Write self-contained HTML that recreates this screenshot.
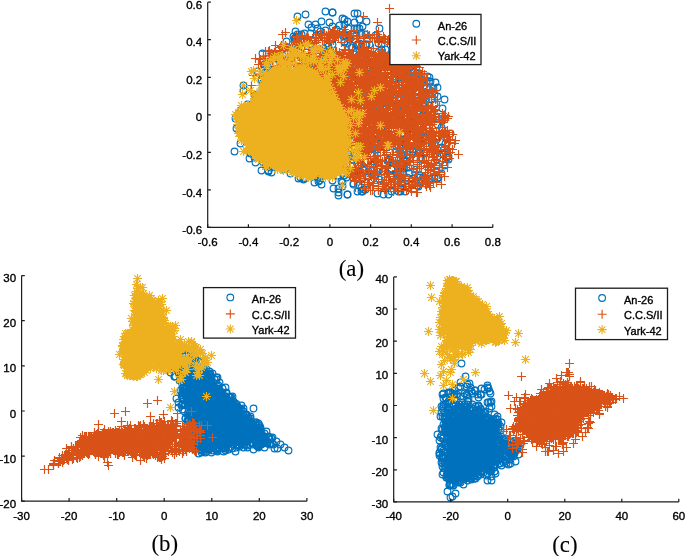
<!DOCTYPE html>
<html><head><meta charset="utf-8"><style>
html,body{margin:0;padding:0;background:#fff;overflow:hidden}
svg{display:block;will-change:transform;font-family:"Liberation Sans",sans-serif;font-size:11.5px;fill:#000;}
text{stroke:#000;stroke-width:0.35px;}
.cap{stroke-width:0.1px;}
</style></head><body>
<svg width="685" height="556" viewBox="0 0 685 556">
<defs>
<marker id="mb" markerUnits="userSpaceOnUse" overflow="visible" refX="0" refY="0"><circle r="3.35" fill="none" stroke="#0072BD" stroke-width="1.15"/></marker>
<marker id="mo" markerUnits="userSpaceOnUse" overflow="visible" refX="0" refY="0"><path d="M-4.5 0H4.5M0-4.5V4.5" stroke="#D95319" stroke-width="1.15"/></marker>
<marker id="my" markerUnits="userSpaceOnUse" overflow="visible" refX="0" refY="0"><path d="M-4.6 0H4.6M0-4.6V4.6M-3.3-3.3L3.3 3.3M-3.3 3.3L3.3-3.3" stroke="#EDB120" stroke-width="1.15"/></marker>
</defs>
<polyline points="300.5,101.5 276.5,78.5 337.5,134.5 337.5,55.5 398.5,191.5 402.5,172.5 360.5,72.5 296.5,124.5 370.5,73.5 386.5,134.5 444.5,165.5 369.5,44.5 355.5,107.5 366.5,61.5 377.5,149.5 426.5,81.5 304.5,121.5 319.5,170.5 302.5,131.5 400.5,112.5 298.5,55.5 419.5,175.5 256.5,95.5 314.5,120.5 266.5,118.5 414.5,116.5 353.5,126.5 388.5,102.5 355.5,120.5 369.5,65.5 354.5,54.5 388.5,60.5 306.5,52.5 284.5,83.5 405.5,126.5 400.5,64.5 362.5,55.5 304.5,107.5 376.5,133.5 335.5,62.5 388.5,161.5 383.5,171.5 415.5,91.5 379.5,28.5 261.5,170.5 324.5,56.5 272.5,89.5 262.5,161.5 408.5,167.5 261.5,132.5 431.5,133.5 275.5,126.5 412.5,139.5 358.5,44.5 372.5,83.5 362.5,72.5 244.5,118.5 341.5,91.5 408.5,99.5 353.5,115.5 314.5,182.5 412.5,184.5 342.5,96.5 300.5,177.5 303.5,71.5 283.5,89.5 429.5,105.5 309.5,82.5 382.5,82.5 429.5,77.5 415.5,133.5 385.5,49.5 268.5,108.5 412.5,178.5 247.5,138.5 411.5,100.5 385.5,188.5 445.5,143.5 401.5,144.5 342.5,129.5 263.5,70.5 317.5,117.5 391.5,191.5 316.5,132.5 380.5,77.5 344.5,126.5 354.5,115.5 336.5,93.5 340.5,55.5 297.5,127.5 282.5,80.5 430.5,81.5 381.5,130.5 436.5,165.5 362.5,129.5 361.5,104.5 383.5,194.5 357.5,105.5 368.5,146.5 276.5,160.5 358.5,171.5 338.5,188.5 302.5,111.5 400.5,191.5 367.5,54.5 290.5,152.5 303.5,178.5 320.5,31.5 385.5,94.5 401.5,168.5 327.5,43.5 354.5,62.5 363.5,94.5 347.5,194.5 298.5,51.5 332.5,26.5 397.5,125.5 334.5,123.5 319.5,49.5 314.5,121.5 243.5,85.5 342.5,172.5 344.5,35.5 293.5,169.5 267.5,102.5 426.5,88.5 298.5,114.5 325.5,11.5 367.5,105.5 375.5,175.5 403.5,150.5 262.5,150.5 343.5,132.5 348.5,154.5 254.5,134.5 309.5,167.5 404.5,118.5 399.5,150.5 254.5,149.5 250.5,141.5 358.5,79.5 305.5,144.5 411.5,125.5 349.5,111.5 419.5,153.5 312.5,86.5 395.5,54.5 293.5,36.5 240.5,132.5 408.5,187.5 419.5,73.5 282.5,60.5 390.5,142.5 310.5,74.5 254.5,157.5 310.5,164.5 332.5,12.5 268.5,91.5 263.5,138.5 275.5,118.5 310.5,134.5 437.5,96.5 311.5,27.5 329.5,115.5 441.5,127.5 344.5,19.5 349.5,39.5 279.5,151.5 406.5,130.5 361.5,53.5 241.5,124.5 308.5,81.5 363.5,146.5 392.5,143.5 325.5,89.5 365.5,34.5 423.5,102.5 298.5,36.5 266.5,153.5 351.5,122.5 419.5,75.5 442.5,108.5 328.5,154.5 350.5,74.5 420.5,138.5 406.5,125.5 342.5,92.5 339.5,60.5 258.5,136.5 324.5,71.5 391.5,54.5 337.5,98.5 371.5,97.5 344.5,57.5 332.5,180.5 251.5,104.5 332.5,12.5 427.5,76.5 304.5,125.5 450.5,133.5 324.5,54.5 356.5,45.5 382.5,133.5 311.5,101.5 448.5,159.5 300.5,110.5 250.5,153.5 264.5,64.5 245.5,117.5 346.5,94.5 352.5,159.5 401.5,164.5 368.5,85.5 295.5,31.5 360.5,127.5 360.5,127.5 438.5,177.5 281.5,59.5 290.5,67.5 305.5,111.5 290.5,173.5 315.5,24.5 251.5,132.5 433.5,88.5 401.5,110.5 323.5,58.5 322.5,175.5 347.5,104.5 437.5,124.5 431.5,143.5 288.5,119.5 304.5,33.5 292.5,87.5 387.5,87.5 354.5,13.5 264.5,86.5 343.5,61.5 389.5,159.5 318.5,176.5 312.5,54.5 399.5,63.5 328.5,112.5 419.5,177.5 357.5,108.5 388.5,194.5 359.5,51.5 317.5,61.5 341.5,181.5 359.5,43.5 386.5,147.5 342.5,182.5 401.5,183.5 331.5,138.5 409.5,158.5 435.5,82.5 250.5,148.5 320.5,108.5 328.5,139.5 441.5,173.5 383.5,129.5 319.5,180.5 317.5,28.5 394.5,80.5 429.5,109.5 408.5,74.5 265.5,76.5 329.5,88.5 368.5,171.5 271.5,119.5 319.5,49.5 443.5,154.5 353.5,184.5 327.5,132.5 330.5,111.5 351.5,119.5 349.5,94.5 338.5,97.5 276.5,77.5 406.5,186.5 324.5,149.5 291.5,48.5 394.5,73.5 406.5,151.5 270.5,137.5 357.5,84.5 441.5,147.5 301.5,134.5 299.5,71.5 391.5,169.5 329.5,112.5 373.5,122.5 270.5,151.5 350.5,174.5 435.5,153.5 417.5,177.5 407.5,131.5 315.5,176.5 312.5,173.5 303.5,179.5 316.5,158.5 344.5,175.5 409.5,173.5 338.5,100.5 344.5,41.5 324.5,128.5 375.5,71.5 294.5,94.5 305.5,129.5 284.5,130.5 339.5,167.5 344.5,121.5 307.5,104.5 295.5,39.5 302.5,76.5 333.5,146.5 364.5,169.5 358.5,185.5 417.5,92.5 403.5,142.5 437.5,87.5 366.5,144.5 383.5,116.5 293.5,115.5 365.5,150.5 263.5,86.5 382.5,120.5 317.5,127.5 336.5,29.5 420.5,120.5 279.5,134.5 377.5,162.5 317.5,143.5 312.5,49.5 420.5,151.5 417.5,140.5 251.5,109.5 437.5,156.5 270.5,167.5 296.5,116.5 365.5,44.5 261.5,79.5 373.5,161.5 357.5,28.5 437.5,178.5 380.5,61.5 320.5,98.5 357.5,61.5 307.5,77.5 314.5,112.5 343.5,147.5 377.5,193.5 411.5,79.5 423.5,109.5 412.5,151.5 371.5,155.5 236.5,128.5 438.5,136.5 346.5,121.5 379.5,179.5 296.5,128.5 261.5,112.5 316.5,74.5 282.5,79.5 319.5,168.5 337.5,108.5 271.5,74.5 425.5,158.5 318.5,63.5 271.5,53.5 372.5,148.5 374.5,101.5 381.5,142.5 271.5,172.5 300.5,103.5 304.5,108.5 270.5,139.5 298.5,107.5 372.5,164.5 247.5,104.5 405.5,100.5 347.5,172.5 319.5,169.5 397.5,105.5 362.5,26.5 257.5,71.5 400.5,100.5 361.5,191.5 267.5,99.5 351.5,47.5 234.5,151.5 398.5,90.5 353.5,130.5 403.5,113.5 389.5,159.5 357.5,177.5 268.5,170.5 265.5,130.5 252.5,107.5 363.5,189.5 297.5,34.5 333.5,188.5 400.5,188.5 251.5,138.5 409.5,110.5 400.5,114.5 413.5,59.5 366.5,61.5 365.5,86.5 383.5,119.5 405.5,139.5 352.5,135.5 272.5,156.5 323.5,168.5 410.5,109.5 362.5,83.5 305.5,59.5 299.5,90.5 442.5,130.5 347.5,21.5 293.5,133.5 320.5,139.5 307.5,135.5 317.5,142.5 333.5,68.5 249.5,158.5 422.5,115.5 287.5,62.5 312.5,141.5 315.5,115.5 364.5,98.5 302.5,39.5 414.5,110.5 404.5,160.5 411.5,181.5 288.5,101.5 363.5,170.5 361.5,187.5 359.5,19.5 441.5,148.5 391.5,88.5 402.5,145.5 349.5,78.5 304.5,70.5 446.5,138.5 240.5,110.5 280.5,129.5 405.5,127.5 277.5,121.5 278.5,125.5 423.5,132.5 428.5,131.5 317.5,105.5 267.5,63.5 295.5,120.5 398.5,73.5 362.5,175.5 377.5,72.5 321.5,135.5 405.5,191.5 363.5,79.5 364.5,140.5 333.5,173.5 279.5,148.5 357.5,44.5 443.5,150.5 340.5,61.5 391.5,162.5 391.5,185.5 353.5,183.5 311.5,106.5 308.5,24.5 362.5,142.5 383.5,112.5 266.5,66.5 316.5,35.5 377.5,139.5 265.5,72.5 409.5,67.5 286.5,134.5 319.5,142.5 431.5,136.5 361.5,164.5 366.5,21.5 424.5,85.5 406.5,177.5 342.5,173.5 337.5,175.5 410.5,67.5 346.5,177.5 327.5,61.5 417.5,185.5 351.5,58.5 382.5,171.5 319.5,133.5 313.5,102.5 383.5,164.5 352.5,74.5 381.5,121.5 235.5,118.5 329.5,129.5 356.5,35.5 420.5,159.5 407.5,97.5 245.5,130.5 404.5,139.5 321.5,98.5 293.5,74.5 366.5,44.5 319.5,177.5 281.5,156.5 275.5,153.5 340.5,156.5 307.5,79.5 370.5,116.5 263.5,121.5 259.5,137.5 411.5,128.5 378.5,43.5 255.5,149.5 294.5,84.5 317.5,172.5 371.5,180.5 335.5,123.5 329.5,89.5 348.5,156.5 384.5,118.5 284.5,99.5 321.5,79.5 396.5,73.5 366.5,141.5 323.5,96.5 388.5,58.5 398.5,103.5 399.5,59.5 448.5,156.5 307.5,40.5 392.5,98.5 351.5,106.5 349.5,67.5 341.5,112.5 247.5,124.5 362.5,63.5 294.5,146.5 267.5,155.5 323.5,89.5 357.5,13.5 317.5,90.5 358.5,127.5 354.5,75.5 337.5,148.5 381.5,54.5 338.5,195.5 281.5,120.5 382.5,103.5 395.5,151.5 408.5,93.5 324.5,61.5 360.5,53.5 298.5,178.5 368.5,176.5 419.5,132.5 312.5,152.5 334.5,115.5 283.5,143.5 415.5,157.5 352.5,74.5 238.5,118.5 305.5,14.5 409.5,55.5 307.5,71.5 282.5,105.5 300.5,40.5 411.5,84.5 271.5,71.5 325.5,30.5 328.5,46.5 348.5,35.5 299.5,115.5 294.5,130.5 393.5,124.5 379.5,168.5 341.5,152.5 297.5,113.5 391.5,176.5 254.5,95.5 262.5,59.5 257.5,94.5 434.5,104.5 307.5,161.5 398.5,47.5 289.5,154.5 265.5,147.5 410.5,66.5 406.5,102.5 397.5,136.5 301.5,151.5 317.5,69.5 365.5,162.5 275.5,133.5 331.5,154.5 396.5,141.5 377.5,143.5 381.5,124.5 342.5,139.5 243.5,117.5 376.5,74.5 273.5,63.5 400.5,68.5 362.5,191.5 319.5,85.5 436.5,116.5 377.5,57.5 370.5,80.5 361.5,153.5 288.5,165.5 294.5,38.5 328.5,106.5 321.5,184.5 369.5,76.5 396.5,178.5 296.5,165.5 424.5,153.5 347.5,43.5 323.5,170.5 331.5,64.5 387.5,70.5 426.5,180.5 262.5,53.5 333.5,167.5 314.5,120.5 291.5,67.5 294.5,41.5 294.5,142.5 400.5,167.5 339.5,25.5 286.5,41.5 289.5,168.5 318.5,181.5 268.5,146.5 360.5,173.5 294.5,49.5 381.5,49.5 434.5,94.5 340.5,165.5 326.5,128.5 388.5,65.5 398.5,82.5 300.5,41.5 365.5,93.5 308.5,151.5 406.5,97.5 420.5,140.5 373.5,61.5 330.5,51.5 356.5,92.5 373.5,107.5 276.5,57.5 323.5,164.5 391.5,184.5 285.5,130.5 422.5,100.5 370.5,85.5 310.5,33.5 314.5,140.5 326.5,51.5 310.5,44.5 442.5,120.5 412.5,149.5 305.5,171.5 399.5,129.5 344.5,24.5 298.5,88.5 406.5,109.5 289.5,128.5 344.5,42.5 423.5,129.5 365.5,111.5 342.5,18.5 352.5,99.5 265.5,73.5 416.5,169.5 269.5,73.5 333.5,141.5 380.5,141.5 375.5,35.5 315.5,82.5 381.5,44.5 387.5,160.5 412.5,71.5 365.5,64.5 273.5,64.5 285.5,152.5 329.5,22.5 359.5,28.5 287.5,64.5 402.5,155.5 373.5,68.5 345.5,80.5 270.5,131.5 354.5,39.5 298.5,77.5 318.5,37.5 415.5,101.5 348.5,150.5 399.5,77.5 244.5,125.5 255.5,162.5 346.5,146.5 357.5,191.5 364.5,52.5 240.5,143.5 365.5,189.5 321.5,21.5 252.5,105.5 308.5,141.5 323.5,37.5 425.5,183.5 311.5,169.5 330.5,163.5 368.5,117.5 282.5,169.5 286.5,144.5 351.5,97.5 370.5,87.5 316.5,160.5 251.5,139.5 442.5,118.5 274.5,112.5 400.5,141.5 265.5,165.5 362.5,178.5 374.5,164.5 256.5,111.5 321.5,161.5 293.5,132.5 418.5,186.5 320.5,147.5 249.5,110.5 267.5,103.5 335.5,103.5 385.5,125.5 282.5,55.5 409.5,122.5 336.5,118.5 421.5,82.5 436.5,139.5 378.5,52.5 312.5,171.5 287.5,76.5 345.5,109.5 303.5,151.5 243.5,90.5 320.5,144.5 347.5,194.5 399.5,77.5 398.5,105.5 267.5,142.5 416.5,105.5 362.5,135.5 434.5,178.5 269.5,93.5 446.5,157.5 301.5,127.5 364.5,90.5 380.5,152.5 429.5,135.5 361.5,156.5 324.5,133.5 274.5,95.5 399.5,168.5 396.5,163.5 279.5,110.5 405.5,144.5 352.5,61.5 400.5,171.5 287.5,153.5 406.5,161.5 263.5,138.5 404.5,94.5 250.5,149.5 426.5,137.5 268.5,171.5 354.5,28.5 274.5,156.5 410.5,119.5 361.5,33.5 354.5,104.5 277.5,133.5 314.5,83.5 272.5,88.5 329.5,64.5 340.5,80.5 383.5,56.5 395.5,84.5 332.5,39.5 297.5,16.5 301.5,34.5 343.5,36.5 370.5,153.5 253.5,130.5 341.5,89.5 353.5,80.5 356.5,171.5 330.5,166.5 316.5,97.5 307.5,85.5 312.5,176.5 312.5,61.5 355.5,175.5 276.5,127.5 352.5,62.5 360.5,33.5 328.5,122.5 255.5,98.5 332.5,44.5 342.5,186.5 262.5,83.5 329.5,73.5 403.5,168.5 312.5,69.5 268.5,90.5 345.5,134.5 354.5,22.5 370.5,137.5 416.5,129.5 429.5,178.5 444.5,99.5 391.5,168.5 338.5,192.5 370.5,130.5 274.5,74.5 286.5,91.5 431.5,99.5 410.5,93.5 336.5,55.5 314.5,125.5 309.5,62.5 275.5,105.5 336.5,77.5 326.5,174.5 335.5,157.5 243.5,126.5 399.5,128.5 333.5,162.5 307.5,107.5 310.5,124.5 348.5,28.5 275.5,162.5 380.5,126.5 329.5,100.5 303.5,88.5 323.5,48.5 397.5,173.5 292.5,155.5 411.5,87.5" fill="none" stroke="none" marker-start="url(#mb)" marker-mid="url(#mb)" marker-end="url(#mb)"/>
<polyline points="395.5,142.5 417.5,107.5 336.5,97.5 335.5,94.5 407.5,139.5 328.5,64.5 372.5,101.5 353.5,74.5 328.5,33.5 326.5,54.5 393.5,92.5 386.5,122.5 350.5,103.5 354.5,106.5 356.5,178.5 355.5,127.5 345.5,118.5 380.5,82.5 352.5,49.5 360.5,82.5 334.5,69.5 384.5,174.5 353.5,153.5 328.5,86.5 426.5,154.5 420.5,152.5 393.5,161.5 398.5,67.5 425.5,94.5 434.5,122.5 337.5,108.5 351.5,112.5 405.5,148.5 439.5,167.5 397.5,167.5 406.5,65.5 366.5,122.5 427.5,136.5 392.5,135.5 336.5,63.5 395.5,97.5 359.5,137.5 380.5,160.5 347.5,91.5 300.5,71.5 395.5,161.5 367.5,107.5 379.5,81.5 324.5,77.5 329.5,59.5 339.5,52.5 341.5,93.5 404.5,167.5 395.5,179.5 371.5,107.5 358.5,167.5 365.5,92.5 426.5,125.5 386.5,166.5 352.5,131.5 381.5,81.5 377.5,159.5 413.5,103.5 404.5,69.5 409.5,67.5 454.5,143.5 402.5,123.5 397.5,110.5 373.5,135.5 387.5,115.5 378.5,79.5 439.5,105.5 325.5,56.5 386.5,167.5 429.5,130.5 369.5,68.5 375.5,128.5 361.5,139.5 397.5,71.5 371.5,82.5 351.5,92.5 447.5,136.5 354.5,121.5 380.5,65.5 336.5,95.5 285.5,45.5 353.5,74.5 354.5,132.5 392.5,53.5 334.5,104.5 429.5,118.5 290.5,64.5 392.5,61.5 348.5,65.5 448.5,116.5 389.5,42.5 357.5,55.5 435.5,114.5 353.5,137.5 434.5,156.5 381.5,67.5 351.5,87.5 443.5,134.5 401.5,130.5 401.5,103.5 365.5,131.5 411.5,99.5 342.5,116.5 379.5,135.5 382.5,122.5 394.5,119.5 401.5,132.5 405.5,138.5 399.5,139.5 341.5,42.5 350.5,77.5 429.5,130.5 351.5,99.5 378.5,135.5 336.5,60.5 385.5,96.5 430.5,131.5 375.5,128.5 338.5,86.5 384.5,76.5 379.5,37.5 361.5,139.5 359.5,120.5 296.5,42.5 424.5,148.5 382.5,117.5 350.5,75.5 389.5,57.5 402.5,74.5 372.5,62.5 360.5,121.5 410.5,157.5 333.5,72.5 340.5,102.5 434.5,171.5 415.5,95.5 341.5,74.5 284.5,63.5 395.5,186.5 370.5,38.5 377.5,64.5 373.5,175.5 359.5,107.5 358.5,124.5 367.5,134.5 362.5,112.5 338.5,62.5 407.5,97.5 287.5,51.5 416.5,140.5 398.5,75.5 352.5,171.5 426.5,162.5 360.5,56.5 351.5,62.5 352.5,116.5 399.5,137.5 382.5,52.5 400.5,174.5 353.5,126.5 338.5,91.5 359.5,131.5 433.5,141.5 347.5,90.5 387.5,102.5 434.5,119.5 312.5,74.5 344.5,95.5 303.5,59.5 411.5,186.5 361.5,111.5 374.5,132.5 423.5,135.5 336.5,51.5 430.5,166.5 415.5,65.5 366.5,119.5 397.5,161.5 355.5,119.5 392.5,141.5 423.5,122.5 421.5,81.5 411.5,67.5 416.5,79.5 415.5,132.5 393.5,114.5 394.5,40.5 343.5,54.5 396.5,113.5 361.5,165.5 410.5,84.5 359.5,117.5 383.5,126.5 424.5,142.5 407.5,102.5 416.5,129.5 425.5,111.5 303.5,71.5 348.5,54.5 356.5,115.5 363.5,49.5 380.5,118.5 382.5,122.5 389.5,104.5 333.5,75.5 407.5,129.5 374.5,158.5 374.5,138.5 326.5,67.5 390.5,76.5 369.5,127.5 430.5,170.5 376.5,171.5 377.5,139.5 399.5,148.5 439.5,163.5 386.5,60.5 411.5,110.5 370.5,115.5 448.5,140.5 436.5,131.5 310.5,81.5 424.5,177.5 346.5,67.5 364.5,139.5 390.5,145.5 334.5,88.5 416.5,124.5 368.5,62.5 354.5,78.5 391.5,182.5 374.5,171.5 416.5,192.5 367.5,82.5 359.5,178.5 372.5,97.5 329.5,91.5 430.5,125.5 366.5,64.5 358.5,76.5 363.5,149.5 378.5,87.5 375.5,122.5 431.5,165.5 449.5,158.5 419.5,82.5 331.5,76.5 321.5,68.5 352.5,56.5 431.5,132.5 320.5,50.5 398.5,188.5 368.5,83.5 412.5,155.5 356.5,95.5 269.5,50.5 407.5,88.5 390.5,86.5 376.5,66.5 405.5,86.5 358.5,72.5 374.5,99.5 377.5,131.5 356.5,74.5 314.5,69.5 414.5,103.5 411.5,113.5 377.5,126.5 364.5,88.5 396.5,111.5 260.5,59.5 334.5,30.5 414.5,178.5 329.5,78.5 385.5,39.5 379.5,105.5 380.5,113.5 433.5,92.5 343.5,100.5 403.5,84.5 411.5,85.5 358.5,176.5 309.5,60.5 372.5,120.5 293.5,57.5 265.5,59.5 401.5,124.5 364.5,127.5 339.5,62.5 430.5,131.5 394.5,115.5 399.5,109.5 400.5,116.5 385.5,118.5 397.5,121.5 330.5,101.5 330.5,58.5 263.5,58.5 351.5,120.5 355.5,112.5 377.5,58.5 313.5,67.5 345.5,96.5 401.5,74.5 352.5,124.5 366.5,131.5 367.5,152.5 380.5,109.5 397.5,94.5 328.5,85.5 374.5,104.5 414.5,118.5 375.5,129.5 356.5,96.5 387.5,80.5 390.5,137.5 407.5,144.5 295.5,64.5 431.5,146.5 410.5,100.5 379.5,63.5 355.5,187.5 388.5,126.5 366.5,123.5 387.5,108.5 376.5,166.5 423.5,111.5 413.5,116.5 373.5,69.5 425.5,95.5 368.5,132.5 415.5,63.5 375.5,141.5 392.5,105.5 374.5,85.5 381.5,165.5 310.5,55.5 417.5,133.5 386.5,188.5 371.5,58.5 349.5,35.5 320.5,66.5 390.5,62.5 413.5,162.5 383.5,100.5 371.5,131.5 409.5,106.5 393.5,118.5 275.5,51.5 424.5,179.5 351.5,33.5 417.5,185.5 348.5,89.5 355.5,102.5 428.5,93.5 366.5,56.5 311.5,58.5 356.5,121.5 381.5,141.5 359.5,80.5 371.5,149.5 449.5,142.5 400.5,177.5 347.5,93.5 372.5,73.5 396.5,109.5 431.5,148.5 352.5,128.5 412.5,180.5 354.5,60.5 384.5,85.5 373.5,89.5 353.5,124.5 336.5,90.5 431.5,163.5 268.5,61.5 341.5,90.5 330.5,96.5 393.5,117.5 420.5,102.5 337.5,58.5 387.5,58.5 344.5,29.5 283.5,46.5 389.5,146.5 447.5,118.5 358.5,108.5 430.5,140.5 368.5,87.5 427.5,79.5 357.5,129.5 389.5,64.5 368.5,122.5 447.5,130.5 390.5,72.5 338.5,95.5 371.5,71.5 425.5,101.5 408.5,132.5 374.5,118.5 359.5,139.5 381.5,60.5 400.5,118.5 441.5,121.5 407.5,78.5 383.5,131.5 435.5,136.5 334.5,95.5 395.5,77.5 407.5,151.5 389.5,98.5 388.5,59.5 333.5,101.5 315.5,37.5 374.5,71.5 409.5,75.5 371.5,176.5 389.5,87.5 432.5,106.5 423.5,110.5 363.5,51.5 302.5,35.5 406.5,87.5 389.5,116.5 378.5,103.5 398.5,122.5 448.5,149.5 408.5,143.5 334.5,78.5 404.5,184.5 345.5,65.5 357.5,92.5 438.5,147.5 346.5,86.5 442.5,127.5 371.5,110.5 368.5,145.5 387.5,112.5 400.5,170.5 329.5,64.5 350.5,86.5 402.5,123.5 375.5,121.5 427.5,83.5 373.5,106.5 417.5,179.5 360.5,92.5 360.5,66.5 423.5,80.5 373.5,104.5 401.5,127.5 376.5,130.5 403.5,68.5 400.5,122.5 425.5,132.5 347.5,85.5 328.5,91.5 368.5,79.5 394.5,58.5 436.5,160.5 391.5,121.5 356.5,169.5 350.5,132.5 397.5,170.5 393.5,181.5 345.5,68.5 424.5,96.5 312.5,51.5 362.5,87.5 338.5,116.5 337.5,101.5 372.5,139.5 401.5,128.5 385.5,87.5 353.5,135.5 361.5,167.5 385.5,61.5 336.5,61.5 363.5,84.5 377.5,137.5 388.5,64.5 354.5,73.5 395.5,118.5 346.5,74.5 428.5,121.5 401.5,88.5 405.5,82.5 332.5,82.5 393.5,73.5 433.5,92.5 407.5,111.5 355.5,71.5 396.5,79.5 398.5,112.5 406.5,79.5 403.5,85.5 388.5,140.5 338.5,75.5 355.5,133.5 341.5,117.5 362.5,136.5 398.5,111.5 422.5,90.5 341.5,110.5 400.5,178.5 378.5,54.5 379.5,54.5 392.5,77.5 383.5,130.5 427.5,119.5 335.5,84.5 316.5,58.5 342.5,58.5 362.5,135.5 341.5,103.5 353.5,104.5 450.5,140.5 413.5,136.5 401.5,103.5 404.5,181.5 412.5,94.5 450.5,152.5 417.5,156.5 356.5,127.5 357.5,160.5 385.5,67.5 363.5,144.5 385.5,186.5 427.5,183.5 314.5,84.5 421.5,148.5 375.5,90.5 357.5,125.5 367.5,164.5 367.5,92.5 398.5,93.5 413.5,81.5 389.5,144.5 416.5,103.5 426.5,184.5 431.5,119.5 338.5,102.5 363.5,142.5 405.5,87.5 383.5,111.5 387.5,81.5 327.5,37.5 371.5,108.5 375.5,66.5 369.5,125.5 388.5,105.5 355.5,94.5 401.5,111.5 357.5,106.5 359.5,111.5 426.5,119.5 344.5,131.5 392.5,109.5 322.5,65.5 431.5,89.5 364.5,64.5 354.5,86.5 425.5,125.5 405.5,93.5 443.5,115.5 417.5,104.5 426.5,85.5 271.5,53.5 413.5,75.5 402.5,68.5 340.5,115.5 393.5,128.5 395.5,68.5 404.5,98.5 361.5,64.5 425.5,136.5 307.5,74.5 324.5,38.5 365.5,173.5 359.5,64.5 324.5,94.5 400.5,148.5 444.5,117.5 416.5,108.5 343.5,126.5 352.5,82.5 346.5,73.5 414.5,142.5 336.5,80.5 367.5,182.5 426.5,114.5 396.5,137.5 434.5,114.5 348.5,58.5 396.5,70.5 444.5,176.5 314.5,76.5 373.5,112.5 424.5,74.5 336.5,58.5 365.5,119.5 351.5,94.5 414.5,126.5 309.5,54.5 379.5,94.5 433.5,135.5 345.5,85.5 354.5,168.5 429.5,185.5 405.5,101.5 415.5,122.5 393.5,112.5 260.5,64.5 301.5,57.5 365.5,108.5 403.5,93.5 382.5,184.5 345.5,127.5 432.5,156.5 428.5,121.5 356.5,177.5 418.5,123.5 421.5,89.5 398.5,144.5 380.5,134.5 346.5,61.5 379.5,135.5 338.5,106.5 390.5,117.5 321.5,91.5 366.5,52.5 360.5,128.5 367.5,142.5 371.5,78.5 369.5,92.5 372.5,128.5 331.5,61.5 397.5,138.5 402.5,91.5 429.5,143.5 381.5,120.5 412.5,128.5 416.5,137.5 401.5,182.5 379.5,126.5 324.5,38.5 409.5,178.5 439.5,132.5 363.5,16.5 349.5,40.5 287.5,47.5 335.5,70.5 407.5,127.5 378.5,31.5 339.5,60.5 356.5,70.5 381.5,101.5 379.5,40.5 359.5,180.5 361.5,103.5 429.5,150.5 375.5,129.5 345.5,92.5 370.5,138.5 321.5,77.5 416.5,136.5 366.5,90.5 416.5,130.5 309.5,69.5 332.5,33.5 404.5,119.5 380.5,85.5 345.5,82.5 455.5,140.5 419.5,85.5 388.5,121.5 404.5,129.5 415.5,80.5 352.5,150.5 301.5,64.5 432.5,132.5 417.5,116.5 371.5,129.5 367.5,182.5 381.5,138.5 414.5,135.5 391.5,97.5 419.5,73.5 378.5,102.5 404.5,144.5 307.5,36.5 394.5,138.5 371.5,131.5 422.5,105.5 429.5,150.5 384.5,95.5 343.5,66.5 326.5,62.5 416.5,113.5 379.5,76.5 392.5,91.5 346.5,57.5 378.5,69.5 389.5,97.5 342.5,100.5 431.5,131.5 421.5,166.5 361.5,167.5 389.5,64.5 433.5,147.5 423.5,182.5 360.5,102.5 274.5,52.5 405.5,78.5 353.5,135.5 350.5,39.5 400.5,135.5 350.5,54.5 360.5,113.5 408.5,91.5 319.5,59.5 408.5,90.5 419.5,138.5 386.5,127.5 296.5,44.5 378.5,110.5 299.5,37.5 371.5,53.5 406.5,118.5 326.5,35.5 363.5,81.5 370.5,132.5 420.5,117.5 361.5,140.5 411.5,191.5 369.5,166.5 350.5,119.5 343.5,97.5 389.5,102.5 359.5,59.5 339.5,92.5 369.5,35.5 439.5,119.5 340.5,124.5 348.5,59.5 366.5,122.5 368.5,86.5 325.5,90.5 326.5,78.5 307.5,71.5 345.5,81.5 355.5,69.5 364.5,82.5 379.5,57.5 282.5,34.5 356.5,142.5 399.5,147.5 370.5,137.5 389.5,8.5 408.5,138.5 418.5,107.5 433.5,111.5 400.5,140.5 384.5,38.5 399.5,75.5 420.5,120.5 378.5,58.5 445.5,115.5 444.5,145.5 371.5,93.5 433.5,140.5 386.5,140.5 371.5,52.5 337.5,87.5 318.5,37.5 373.5,99.5 397.5,101.5 317.5,80.5 283.5,45.5 371.5,88.5 392.5,124.5 251.5,85.5 298.5,45.5 430.5,169.5 399.5,170.5 358.5,134.5 313.5,51.5 383.5,63.5 369.5,139.5 255.5,58.5 342.5,53.5 396.5,114.5 447.5,134.5 405.5,67.5 388.5,113.5 353.5,121.5 364.5,103.5 353.5,125.5 389.5,99.5 358.5,170.5 366.5,114.5 377.5,93.5 446.5,161.5 389.5,127.5 401.5,71.5 392.5,138.5 392.5,136.5 413.5,168.5 369.5,65.5 293.5,57.5 378.5,181.5 425.5,117.5 383.5,53.5 404.5,68.5 388.5,143.5 375.5,92.5 406.5,67.5 332.5,69.5 396.5,126.5 360.5,100.5 446.5,139.5 386.5,177.5 396.5,62.5 397.5,112.5 375.5,65.5 349.5,101.5 370.5,120.5 349.5,73.5 381.5,89.5 393.5,149.5 368.5,91.5 415.5,108.5 383.5,121.5 401.5,153.5 291.5,50.5 358.5,171.5 381.5,73.5 392.5,89.5 419.5,139.5 343.5,63.5 320.5,59.5 374.5,63.5 423.5,98.5 409.5,108.5 296.5,36.5 380.5,83.5 388.5,39.5 356.5,119.5 412.5,125.5 393.5,70.5 431.5,152.5 338.5,75.5 448.5,116.5 337.5,67.5 355.5,167.5 396.5,123.5 401.5,84.5 327.5,59.5 447.5,134.5 349.5,107.5 444.5,131.5 324.5,79.5 348.5,36.5 380.5,120.5 363.5,56.5 354.5,136.5 362.5,123.5 415.5,65.5 326.5,83.5 407.5,125.5 352.5,103.5 342.5,35.5 357.5,58.5 303.5,69.5 376.5,70.5 315.5,58.5 358.5,54.5 418.5,97.5 371.5,84.5 322.5,92.5 421.5,78.5 352.5,59.5 425.5,177.5 419.5,95.5 430.5,187.5 406.5,89.5 273.5,55.5 300.5,57.5 415.5,108.5 346.5,116.5 344.5,94.5 380.5,56.5 273.5,59.5 393.5,127.5 347.5,77.5 423.5,176.5 431.5,97.5 328.5,95.5 347.5,167.5 415.5,93.5 356.5,123.5 340.5,95.5 401.5,179.5 364.5,154.5 407.5,69.5 350.5,106.5 377.5,110.5 290.5,58.5 357.5,161.5 395.5,67.5 385.5,92.5 363.5,69.5 386.5,189.5 361.5,66.5 266.5,62.5 381.5,116.5 412.5,149.5 365.5,76.5 408.5,76.5 381.5,100.5 361.5,49.5 393.5,139.5 337.5,81.5 406.5,140.5 391.5,82.5 425.5,140.5 381.5,171.5 345.5,88.5 362.5,125.5 356.5,88.5 429.5,85.5 435.5,116.5 345.5,63.5 407.5,115.5 285.5,32.5 417.5,171.5 413.5,127.5 403.5,160.5 299.5,42.5 362.5,73.5 371.5,101.5 369.5,114.5 413.5,168.5 422.5,124.5 301.5,60.5 425.5,172.5 396.5,119.5 396.5,65.5 344.5,119.5 376.5,56.5 259.5,59.5 377.5,155.5 362.5,58.5 386.5,60.5 414.5,128.5 357.5,69.5 348.5,87.5 388.5,142.5 354.5,181.5 346.5,57.5 404.5,78.5 405.5,76.5 378.5,190.5 421.5,84.5 354.5,117.5 386.5,120.5 422.5,85.5 415.5,124.5 433.5,169.5 381.5,126.5 396.5,131.5 356.5,89.5 365.5,142.5 380.5,122.5 404.5,102.5 301.5,74.5 382.5,98.5 329.5,38.5 412.5,100.5 406.5,116.5 415.5,103.5 431.5,115.5 447.5,132.5 403.5,94.5 421.5,77.5 383.5,115.5 412.5,90.5 367.5,62.5 383.5,83.5 346.5,78.5 400.5,137.5 366.5,115.5 419.5,168.5 435.5,109.5 331.5,94.5 387.5,102.5 389.5,98.5 348.5,97.5 373.5,104.5 427.5,106.5 337.5,77.5 400.5,124.5 358.5,42.5 409.5,146.5 417.5,123.5 363.5,140.5 411.5,169.5 343.5,83.5 348.5,108.5 370.5,190.5 387.5,56.5 415.5,143.5 362.5,97.5 385.5,134.5 362.5,141.5 280.5,65.5 397.5,69.5 356.5,119.5 416.5,115.5 366.5,150.5 386.5,142.5 375.5,105.5 403.5,175.5 316.5,34.5 309.5,61.5 434.5,140.5 320.5,67.5 400.5,103.5 333.5,32.5 410.5,92.5 409.5,112.5 352.5,101.5 369.5,105.5 328.5,41.5 346.5,56.5 374.5,95.5 373.5,82.5 386.5,105.5 411.5,107.5 382.5,109.5 417.5,147.5 343.5,123.5 329.5,42.5 412.5,98.5 430.5,167.5 401.5,177.5 383.5,118.5 399.5,67.5 381.5,51.5 326.5,35.5 426.5,116.5 425.5,107.5 352.5,110.5 372.5,82.5 373.5,103.5 447.5,149.5 362.5,134.5 414.5,77.5 392.5,160.5 366.5,147.5 414.5,109.5 417.5,146.5 444.5,145.5 410.5,63.5 367.5,105.5 406.5,144.5 333.5,96.5 402.5,167.5 416.5,75.5 397.5,141.5 313.5,72.5 370.5,148.5 362.5,112.5 352.5,70.5 403.5,94.5 397.5,164.5 409.5,147.5 402.5,66.5 400.5,95.5 369.5,131.5 405.5,107.5 329.5,93.5 348.5,87.5 352.5,104.5 374.5,113.5 409.5,98.5 323.5,57.5 338.5,118.5 320.5,75.5 305.5,43.5 416.5,87.5 411.5,126.5 399.5,179.5 368.5,142.5 401.5,140.5 430.5,108.5 378.5,186.5 375.5,72.5 397.5,66.5 411.5,127.5 352.5,145.5 431.5,164.5 366.5,104.5 384.5,66.5 389.5,57.5 416.5,111.5 345.5,110.5 410.5,188.5 389.5,141.5 353.5,125.5 414.5,139.5 353.5,63.5 389.5,66.5 421.5,93.5 442.5,130.5 430.5,140.5 357.5,38.5 432.5,149.5 401.5,85.5 378.5,63.5 381.5,49.5 365.5,55.5 328.5,56.5 352.5,109.5 419.5,117.5 412.5,109.5 361.5,86.5 356.5,36.5 311.5,40.5 383.5,59.5 420.5,107.5 429.5,96.5 373.5,116.5 399.5,142.5 406.5,97.5 392.5,59.5 371.5,111.5 336.5,35.5 437.5,101.5 362.5,131.5 347.5,104.5 303.5,68.5 409.5,123.5 386.5,180.5 438.5,133.5 322.5,87.5 320.5,76.5 390.5,105.5 336.5,79.5 369.5,150.5 363.5,173.5 399.5,65.5 352.5,105.5 376.5,162.5 434.5,174.5 322.5,64.5 405.5,124.5 355.5,112.5 314.5,64.5 281.5,46.5 390.5,135.5 313.5,61.5 364.5,152.5 362.5,48.5 356.5,131.5 390.5,186.5 369.5,111.5 391.5,76.5 347.5,87.5 360.5,118.5 358.5,111.5 328.5,97.5 349.5,109.5 325.5,80.5 399.5,130.5 426.5,90.5 349.5,111.5 370.5,38.5 423.5,99.5 322.5,81.5 357.5,63.5 328.5,34.5 347.5,103.5 412.5,146.5 341.5,75.5 296.5,49.5 434.5,110.5 399.5,170.5 378.5,42.5 424.5,161.5 294.5,64.5 404.5,140.5 376.5,80.5 336.5,97.5 372.5,37.5 399.5,148.5 332.5,81.5 423.5,117.5 349.5,92.5 363.5,63.5 313.5,76.5 431.5,120.5 393.5,79.5 334.5,107.5 365.5,123.5 439.5,174.5 383.5,77.5 333.5,89.5 405.5,109.5 413.5,76.5 373.5,126.5 373.5,66.5 402.5,162.5 318.5,91.5 383.5,36.5 280.5,47.5 393.5,92.5 390.5,106.5 390.5,77.5 368.5,99.5 393.5,191.5 406.5,190.5 294.5,41.5 381.5,86.5 346.5,61.5 358.5,119.5 397.5,152.5 381.5,95.5 378.5,88.5 357.5,98.5 387.5,173.5 298.5,41.5 418.5,156.5 414.5,122.5 435.5,146.5 335.5,51.5 413.5,145.5 386.5,95.5 297.5,70.5 359.5,71.5 431.5,95.5 375.5,156.5 413.5,127.5 372.5,135.5 406.5,139.5 386.5,81.5 402.5,103.5 381.5,117.5 406.5,100.5 436.5,182.5 363.5,98.5 397.5,62.5 314.5,84.5 419.5,67.5 361.5,113.5 398.5,130.5 322.5,82.5 398.5,190.5 307.5,58.5 405.5,99.5 366.5,56.5 430.5,114.5 367.5,85.5 343.5,117.5 408.5,68.5 364.5,117.5 384.5,183.5 393.5,163.5 263.5,58.5 428.5,169.5 281.5,45.5 333.5,40.5 395.5,97.5 387.5,138.5 392.5,77.5 422.5,101.5 405.5,104.5 406.5,115.5 338.5,58.5 362.5,120.5 406.5,100.5 345.5,50.5 407.5,87.5 375.5,174.5 428.5,105.5 420.5,97.5 377.5,133.5 325.5,72.5 364.5,38.5 347.5,85.5 416.5,86.5 378.5,124.5 297.5,40.5 370.5,100.5 392.5,154.5 366.5,86.5 367.5,96.5 396.5,91.5 380.5,95.5 340.5,99.5 350.5,163.5 358.5,134.5 411.5,80.5 414.5,90.5 288.5,60.5 375.5,85.5 433.5,182.5 347.5,66.5 353.5,96.5 376.5,160.5 332.5,31.5 391.5,132.5 338.5,94.5 386.5,89.5 389.5,89.5 394.5,123.5 412.5,130.5 355.5,62.5 354.5,83.5 327.5,37.5 397.5,149.5 383.5,138.5 367.5,81.5 390.5,180.5 402.5,109.5 380.5,85.5 321.5,35.5 379.5,92.5 391.5,144.5 398.5,104.5 333.5,86.5 340.5,101.5 426.5,186.5 323.5,88.5 285.5,64.5 372.5,76.5 408.5,112.5 378.5,63.5 384.5,84.5 388.5,96.5 434.5,173.5 350.5,65.5 400.5,118.5 391.5,97.5 349.5,52.5 426.5,163.5 337.5,110.5 349.5,60.5 426.5,140.5 401.5,118.5 329.5,100.5 380.5,130.5 330.5,37.5 458.5,154.5 363.5,36.5 412.5,120.5 357.5,118.5 371.5,144.5 433.5,133.5 399.5,114.5 353.5,160.5 351.5,106.5 392.5,139.5 429.5,121.5 354.5,58.5 426.5,120.5 369.5,86.5 324.5,74.5 374.5,110.5 373.5,167.5 358.5,103.5 349.5,135.5 385.5,65.5 418.5,124.5 381.5,109.5 362.5,156.5 368.5,84.5 357.5,93.5 343.5,123.5 319.5,86.5 407.5,93.5 376.5,58.5 344.5,49.5 386.5,102.5 362.5,170.5 366.5,115.5 364.5,135.5 338.5,105.5 282.5,62.5 414.5,184.5 377.5,72.5 373.5,60.5 388.5,161.5 411.5,73.5 371.5,141.5 406.5,68.5 405.5,69.5 330.5,54.5 352.5,176.5 344.5,125.5 385.5,101.5 373.5,48.5 374.5,37.5 384.5,75.5 375.5,148.5 381.5,66.5 396.5,113.5 354.5,80.5 432.5,122.5 333.5,56.5 424.5,96.5 360.5,115.5 381.5,179.5 361.5,149.5 349.5,49.5 448.5,148.5 447.5,167.5 418.5,120.5 376.5,34.5 433.5,169.5 326.5,97.5 378.5,53.5 376.5,59.5 345.5,36.5 358.5,83.5 394.5,111.5 357.5,137.5 329.5,68.5 355.5,142.5 352.5,78.5 311.5,77.5 428.5,114.5 259.5,74.5 359.5,134.5 286.5,46.5 377.5,34.5 424.5,96.5 364.5,53.5 309.5,40.5 360.5,128.5 414.5,72.5 426.5,113.5 358.5,75.5 332.5,36.5 403.5,116.5 381.5,85.5 354.5,177.5 301.5,59.5 427.5,165.5 362.5,52.5 334.5,87.5 338.5,99.5 408.5,134.5 441.5,133.5 423.5,133.5 407.5,149.5 399.5,124.5 376.5,79.5 275.5,56.5 386.5,78.5 350.5,172.5 389.5,143.5 359.5,49.5 275.5,50.5 380.5,150.5 351.5,172.5 365.5,139.5 279.5,52.5 360.5,60.5 339.5,86.5 396.5,85.5 419.5,131.5 414.5,116.5 396.5,140.5 335.5,96.5 387.5,114.5 348.5,96.5 360.5,114.5 382.5,143.5 417.5,186.5 367.5,117.5 324.5,33.5 406.5,101.5 358.5,146.5 389.5,65.5 399.5,155.5 378.5,119.5 397.5,157.5 331.5,34.5 351.5,72.5 448.5,148.5 390.5,70.5 431.5,179.5 361.5,77.5 428.5,183.5 367.5,72.5 380.5,124.5 395.5,60.5 343.5,85.5 396.5,102.5 383.5,59.5 335.5,83.5 414.5,101.5 317.5,80.5 360.5,175.5 379.5,115.5 358.5,111.5 287.5,58.5 295.5,65.5 369.5,68.5 346.5,102.5 396.5,66.5 319.5,56.5 408.5,188.5 336.5,91.5 353.5,35.5 382.5,66.5 402.5,164.5 347.5,99.5 380.5,144.5 403.5,149.5 423.5,92.5 409.5,67.5 326.5,70.5 379.5,114.5 404.5,69.5 346.5,82.5 370.5,97.5 395.5,101.5 408.5,101.5 331.5,100.5 413.5,147.5 423.5,146.5 333.5,38.5 372.5,190.5 419.5,100.5 443.5,115.5 373.5,64.5 382.5,168.5 401.5,93.5 407.5,71.5 449.5,148.5 354.5,61.5 415.5,88.5 430.5,130.5 411.5,84.5 411.5,81.5 363.5,132.5 431.5,96.5 304.5,55.5 335.5,94.5 374.5,91.5 384.5,69.5 336.5,111.5 407.5,143.5 346.5,66.5 341.5,107.5 360.5,69.5 422.5,127.5 401.5,120.5 357.5,114.5 442.5,122.5 400.5,165.5 413.5,104.5 360.5,80.5 363.5,93.5 381.5,127.5 373.5,140.5 402.5,79.5 327.5,51.5 422.5,126.5 386.5,143.5 363.5,123.5 428.5,160.5 339.5,90.5 407.5,123.5 350.5,70.5 439.5,163.5 407.5,108.5 410.5,147.5 344.5,86.5 383.5,89.5 435.5,99.5 352.5,101.5 286.5,62.5 437.5,150.5 435.5,90.5 315.5,60.5 381.5,130.5 364.5,112.5 434.5,165.5 402.5,76.5 383.5,78.5 445.5,146.5 375.5,68.5 369.5,184.5 445.5,133.5 395.5,141.5 374.5,128.5 376.5,115.5 340.5,96.5 405.5,76.5 413.5,123.5 403.5,116.5 350.5,100.5 420.5,89.5 417.5,106.5 321.5,34.5 420.5,139.5 339.5,53.5 432.5,134.5 383.5,113.5 358.5,62.5 442.5,161.5 365.5,124.5 355.5,63.5 370.5,102.5 340.5,100.5 283.5,44.5 434.5,147.5 395.5,123.5 414.5,102.5 410.5,146.5 269.5,56.5 369.5,170.5 337.5,32.5 444.5,115.5 384.5,148.5 395.5,73.5 318.5,49.5 444.5,132.5 396.5,126.5 419.5,154.5 298.5,56.5 383.5,184.5 373.5,149.5 354.5,71.5 367.5,107.5 390.5,98.5 390.5,121.5 333.5,100.5 442.5,153.5 366.5,134.5 404.5,91.5 403.5,115.5 332.5,72.5 389.5,141.5 319.5,84.5 434.5,117.5 343.5,33.5 301.5,37.5 390.5,64.5 407.5,139.5 395.5,174.5 375.5,126.5 359.5,102.5 424.5,176.5 371.5,99.5 362.5,148.5 370.5,158.5 404.5,164.5 315.5,38.5 386.5,168.5 353.5,57.5 338.5,64.5 380.5,55.5 378.5,63.5 403.5,68.5 399.5,151.5 397.5,183.5 384.5,155.5 377.5,66.5 407.5,102.5 359.5,150.5 351.5,118.5 336.5,54.5 388.5,125.5 367.5,34.5 323.5,65.5 322.5,75.5 372.5,110.5 337.5,68.5 422.5,103.5 320.5,82.5 398.5,122.5 392.5,141.5 385.5,72.5 323.5,56.5 383.5,133.5 424.5,122.5 334.5,91.5 308.5,38.5 358.5,108.5 363.5,85.5 325.5,88.5 396.5,116.5 350.5,87.5 320.5,59.5 383.5,57.5 304.5,39.5 391.5,100.5 421.5,117.5 352.5,104.5 406.5,86.5 412.5,65.5 388.5,176.5 343.5,126.5 368.5,105.5 390.5,142.5 371.5,76.5 407.5,127.5 384.5,141.5 381.5,74.5 379.5,64.5 406.5,100.5 386.5,56.5 395.5,105.5 341.5,85.5 367.5,74.5 417.5,86.5 400.5,147.5 366.5,71.5 412.5,82.5 358.5,68.5 421.5,89.5 358.5,150.5 391.5,90.5 386.5,188.5 368.5,172.5 396.5,42.5 375.5,69.5 364.5,50.5 273.5,60.5 388.5,101.5 433.5,157.5 442.5,165.5 335.5,83.5 372.5,110.5 349.5,87.5 352.5,74.5 419.5,183.5 375.5,123.5 342.5,83.5 385.5,67.5 403.5,128.5 383.5,118.5 380.5,144.5 361.5,117.5 415.5,115.5 339.5,59.5 430.5,115.5 428.5,135.5 349.5,126.5 401.5,95.5 333.5,84.5 331.5,75.5 364.5,42.5 376.5,97.5 378.5,160.5 387.5,117.5 321.5,77.5 369.5,75.5 349.5,91.5 426.5,95.5 344.5,80.5 371.5,51.5 349.5,144.5 426.5,148.5 316.5,71.5 376.5,117.5 310.5,73.5 350.5,172.5 337.5,83.5 390.5,44.5 438.5,117.5 449.5,134.5 285.5,46.5 385.5,103.5 288.5,61.5 390.5,123.5 387.5,66.5 382.5,104.5 374.5,38.5 353.5,159.5 343.5,117.5 374.5,89.5 350.5,36.5 398.5,60.5 418.5,119.5 333.5,88.5 372.5,185.5 265.5,51.5 307.5,69.5 320.5,86.5 411.5,95.5 366.5,75.5 406.5,149.5 376.5,133.5 268.5,61.5 407.5,99.5 331.5,54.5 364.5,151.5 351.5,146.5 326.5,54.5 363.5,127.5 357.5,138.5 384.5,184.5 398.5,188.5 361.5,49.5 385.5,81.5 356.5,84.5 374.5,63.5 426.5,178.5 394.5,87.5 395.5,86.5 360.5,130.5 365.5,83.5 311.5,81.5 449.5,142.5 409.5,184.5 373.5,69.5 397.5,136.5 347.5,95.5 419.5,160.5 357.5,79.5 420.5,149.5 376.5,65.5 415.5,114.5 434.5,119.5 399.5,139.5 424.5,180.5 405.5,84.5 349.5,85.5 351.5,132.5 383.5,118.5 378.5,147.5 372.5,142.5 399.5,139.5 386.5,130.5 425.5,107.5 359.5,58.5 303.5,57.5 368.5,120.5 419.5,143.5 444.5,149.5 345.5,60.5 413.5,109.5 380.5,146.5 392.5,74.5 419.5,148.5 415.5,100.5 390.5,95.5 308.5,75.5 408.5,77.5 307.5,74.5 397.5,130.5 371.5,80.5 415.5,177.5 374.5,178.5 347.5,142.5 334.5,36.5 387.5,66.5 361.5,163.5 364.5,58.5 348.5,111.5 388.5,92.5 365.5,117.5 282.5,48.5 414.5,69.5 342.5,121.5 393.5,106.5 358.5,117.5 347.5,86.5 385.5,54.5 365.5,52.5 410.5,81.5 374.5,128.5 387.5,41.5 315.5,78.5 408.5,66.5 359.5,115.5 353.5,106.5 440.5,136.5 343.5,76.5 374.5,159.5 438.5,135.5 441.5,119.5 373.5,70.5 358.5,71.5 396.5,165.5 388.5,145.5 350.5,72.5 420.5,126.5 420.5,136.5 350.5,131.5 386.5,154.5 449.5,139.5 382.5,78.5 371.5,53.5 353.5,176.5 319.5,53.5 335.5,36.5 390.5,94.5 400.5,139.5 350.5,109.5 401.5,105.5 380.5,56.5 403.5,110.5 361.5,93.5 315.5,83.5 341.5,106.5 368.5,182.5 362.5,96.5 408.5,112.5 320.5,61.5 383.5,91.5 334.5,61.5 364.5,66.5 413.5,121.5 318.5,63.5 369.5,146.5 347.5,117.5 404.5,115.5 376.5,37.5 379.5,55.5 375.5,160.5 392.5,101.5 399.5,93.5 373.5,185.5 342.5,83.5 412.5,94.5 387.5,140.5 371.5,95.5 422.5,71.5 365.5,77.5 360.5,162.5 342.5,98.5 410.5,115.5 357.5,120.5 437.5,145.5 326.5,77.5 381.5,58.5 369.5,117.5 395.5,120.5 409.5,165.5 318.5,74.5 313.5,59.5 350.5,120.5 395.5,104.5 362.5,135.5 441.5,184.5 409.5,124.5 436.5,152.5 390.5,157.5 399.5,137.5 427.5,176.5 348.5,116.5 381.5,62.5 431.5,151.5 383.5,82.5 429.5,152.5 340.5,94.5 425.5,97.5 353.5,100.5 388.5,119.5 420.5,136.5 416.5,171.5 426.5,77.5 399.5,127.5 393.5,143.5 430.5,133.5 419.5,118.5 427.5,167.5 380.5,96.5 405.5,176.5 351.5,144.5 404.5,64.5 370.5,120.5 402.5,91.5 347.5,85.5 419.5,83.5 383.5,79.5 338.5,37.5 366.5,50.5 377.5,75.5 334.5,84.5 422.5,109.5 326.5,53.5 361.5,72.5 415.5,82.5 410.5,160.5 437.5,156.5 373.5,81.5 378.5,113.5 371.5,116.5 389.5,174.5 356.5,144.5 394.5,134.5 397.5,116.5 368.5,52.5 362.5,70.5 406.5,125.5 369.5,118.5 352.5,68.5 416.5,66.5 386.5,145.5 342.5,71.5 373.5,130.5 334.5,98.5 351.5,155.5 359.5,31.5 403.5,90.5 430.5,125.5 452.5,134.5 373.5,135.5 386.5,152.5 377.5,84.5 347.5,136.5 386.5,87.5 385.5,125.5 402.5,155.5 342.5,94.5 386.5,76.5 381.5,124.5 376.5,85.5 346.5,113.5 342.5,57.5 358.5,108.5 258.5,64.5 422.5,103.5 338.5,85.5 357.5,103.5 410.5,99.5 278.5,68.5 407.5,107.5 322.5,40.5 370.5,38.5 349.5,167.5 275.5,45.5 332.5,83.5 421.5,128.5 409.5,108.5 322.5,64.5 328.5,83.5 351.5,80.5 397.5,155.5 421.5,179.5 373.5,183.5 399.5,77.5 350.5,71.5 341.5,64.5 278.5,56.5 432.5,124.5 360.5,142.5 425.5,108.5 287.5,48.5 263.5,56.5 351.5,65.5 375.5,80.5 365.5,54.5 452.5,149.5 326.5,57.5 347.5,108.5 360.5,101.5 299.5,67.5 401.5,131.5 366.5,80.5 294.5,62.5 399.5,79.5 344.5,90.5 385.5,110.5 419.5,103.5 412.5,136.5 434.5,165.5 408.5,135.5 349.5,65.5 410.5,123.5 362.5,54.5 314.5,57.5 373.5,95.5 330.5,76.5 373.5,121.5 355.5,104.5 406.5,71.5 364.5,137.5 368.5,89.5 378.5,188.5 355.5,70.5 398.5,87.5 431.5,140.5 375.5,73.5 366.5,63.5 362.5,67.5 425.5,136.5 425.5,133.5 378.5,145.5 353.5,122.5 399.5,65.5 403.5,74.5 335.5,105.5 405.5,176.5 354.5,73.5 352.5,65.5 387.5,74.5 375.5,96.5 429.5,149.5 364.5,89.5 385.5,64.5 392.5,157.5 406.5,76.5 382.5,60.5 377.5,37.5 431.5,163.5 395.5,184.5 343.5,64.5 427.5,116.5 403.5,103.5 299.5,64.5 409.5,137.5 382.5,90.5 379.5,77.5 349.5,66.5 364.5,182.5 410.5,117.5 320.5,83.5 415.5,78.5 354.5,86.5 391.5,143.5 375.5,109.5 342.5,34.5 371.5,110.5 377.5,22.5 421.5,124.5 346.5,150.5 379.5,130.5 349.5,64.5 358.5,90.5 348.5,141.5 405.5,98.5 417.5,192.5 359.5,112.5 439.5,172.5 301.5,70.5 346.5,59.5 371.5,55.5 407.5,165.5 376.5,123.5 431.5,112.5 399.5,107.5 361.5,149.5 431.5,116.5 382.5,88.5 340.5,89.5 325.5,94.5 392.5,83.5 388.5,163.5 388.5,184.5 355.5,113.5 321.5,82.5 353.5,108.5 323.5,69.5 395.5,166.5 422.5,110.5 425.5,128.5 408.5,161.5 337.5,116.5 367.5,116.5 387.5,115.5 355.5,72.5 358.5,67.5 351.5,74.5 434.5,149.5 348.5,92.5 367.5,51.5 321.5,90.5 425.5,115.5 351.5,128.5 388.5,136.5 363.5,71.5 438.5,171.5 373.5,55.5 336.5,116.5 409.5,82.5 408.5,102.5 418.5,145.5 355.5,102.5 325.5,50.5 367.5,62.5 363.5,105.5 306.5,37.5 288.5,65.5 353.5,30.5 406.5,129.5 353.5,62.5 311.5,65.5 356.5,159.5 398.5,177.5 406.5,88.5 306.5,63.5 394.5,142.5 387.5,123.5 329.5,35.5 342.5,84.5 385.5,76.5 432.5,91.5 349.5,53.5 327.5,61.5 356.5,108.5 409.5,122.5 397.5,107.5 342.5,103.5 388.5,64.5 403.5,89.5 443.5,120.5 375.5,173.5 426.5,111.5 444.5,156.5 343.5,106.5 359.5,53.5 354.5,73.5 397.5,136.5 339.5,107.5 424.5,97.5 422.5,84.5 308.5,54.5 368.5,95.5 363.5,173.5 379.5,111.5 369.5,55.5 349.5,129.5 396.5,170.5 361.5,147.5 394.5,139.5 419.5,79.5 346.5,117.5 415.5,87.5 368.5,111.5 365.5,173.5 365.5,101.5 385.5,78.5 359.5,107.5 384.5,189.5 364.5,111.5 383.5,146.5 444.5,137.5 385.5,93.5 381.5,120.5 360.5,83.5 293.5,44.5 301.5,63.5 406.5,77.5 320.5,34.5 418.5,95.5 378.5,113.5 377.5,171.5 304.5,45.5 387.5,70.5 316.5,40.5 361.5,90.5 343.5,94.5 412.5,99.5 409.5,75.5 304.5,55.5 371.5,133.5 379.5,145.5 380.5,60.5 418.5,133.5 354.5,170.5 302.5,59.5 360.5,142.5 389.5,98.5 425.5,184.5 383.5,39.5 378.5,74.5 368.5,54.5 367.5,139.5 335.5,117.5 382.5,132.5 399.5,124.5 406.5,91.5 397.5,107.5 349.5,132.5 360.5,78.5 342.5,73.5 387.5,135.5 346.5,70.5 270.5,55.5 411.5,92.5 364.5,188.5 362.5,83.5 381.5,99.5 385.5,127.5 412.5,182.5 360.5,180.5 392.5,63.5 368.5,158.5 432.5,138.5 339.5,111.5 433.5,114.5 350.5,141.5 364.5,124.5 328.5,70.5 303.5,53.5 377.5,95.5 389.5,66.5 418.5,144.5 401.5,139.5 420.5,74.5 388.5,103.5 432.5,146.5 287.5,64.5 430.5,143.5 384.5,68.5 351.5,134.5 285.5,50.5 400.5,132.5 352.5,64.5 372.5,145.5 425.5,130.5 415.5,83.5 379.5,74.5 390.5,69.5 427.5,121.5 363.5,82.5 310.5,54.5 405.5,84.5 408.5,101.5 379.5,130.5 407.5,99.5 409.5,102.5 405.5,69.5 334.5,65.5 272.5,65.5 392.5,116.5 356.5,84.5 375.5,92.5 316.5,42.5 399.5,139.5 315.5,68.5 387.5,74.5 417.5,164.5 375.5,101.5 343.5,62.5 432.5,118.5 364.5,178.5 411.5,96.5 400.5,156.5 402.5,82.5 324.5,82.5 396.5,94.5 397.5,137.5 368.5,118.5 320.5,55.5 314.5,43.5 350.5,177.5 396.5,121.5 363.5,90.5 344.5,31.5 390.5,109.5 346.5,67.5 418.5,156.5 306.5,39.5 351.5,55.5 408.5,121.5 331.5,53.5 349.5,35.5 425.5,114.5 396.5,72.5 347.5,107.5 432.5,128.5 409.5,154.5 345.5,85.5 327.5,96.5 421.5,89.5 410.5,85.5 442.5,113.5 351.5,125.5 393.5,178.5 332.5,83.5 356.5,149.5 357.5,90.5 302.5,68.5 382.5,161.5 253.5,75.5 359.5,92.5 358.5,51.5 383.5,139.5 350.5,90.5 348.5,87.5 405.5,127.5 285.5,60.5 407.5,102.5 387.5,123.5 268.5,51.5 363.5,128.5" fill="none" stroke="none" marker-start="url(#mo)" marker-mid="url(#mo)" marker-end="url(#mo)"/>
<path d="M240 115.4 L240 123.9 L243.5 136 L250.1 148.4 L266.6 158.8 L284.5 165.4 L306.4 172.1 L325.5 173 L337.4 170.9 L342.2 159.8 L344.9 140.1 L342.2 122.2 L336 107.9 L325.7 92.9 L312.8 78.2 L302.7 72 L290.5 72 L276.9 73.8 L270.5 76.1 L268.4 82.9 L262.2 95 L252.9 104.3 L243.7 109.9 L240 115.4Z" fill="#EDB120"/>
<polyline points="273.5,81.5 261.5,155.5 256.5,157.5 276.5,143.5 287.5,105.5 293.5,96.5 268.5,80.5 328.5,119.5 309.5,145.5 250.5,90.5 303.5,113.5 312.5,175.5 323.5,111.5 277.5,161.5 289.5,108.5 314.5,80.5 248.5,138.5 325.5,107.5 293.5,123.5 344.5,141.5 264.5,87.5 316.5,164.5 345.5,120.5 319.5,169.5 278.5,78.5 261.5,131.5 298.5,79.5 267.5,144.5 254.5,94.5 319.5,126.5 280.5,76.5 270.5,141.5 298.5,118.5 273.5,164.5 283.5,121.5 238.5,118.5 285.5,123.5 289.5,156.5 280.5,149.5 297.5,83.5 297.5,158.5 263.5,115.5 276.5,101.5 258.5,113.5 235.5,114.5 330.5,148.5 240.5,112.5 304.5,122.5 308.5,98.5 329.5,164.5 316.5,149.5 265.5,144.5 339.5,116.5 325.5,109.5 288.5,108.5 345.5,173.5 285.5,111.5 338.5,156.5 305.5,146.5 276.5,137.5 314.5,75.5 343.5,153.5 291.5,142.5 317.5,83.5 303.5,121.5 338.5,71.5 320.5,100.5 318.5,157.5 267.5,86.5 285.5,138.5 333.5,168.5 327.5,167.5 291.5,138.5 251.5,136.5 281.5,167.5 297.5,151.5 295.5,172.5 272.5,157.5 294.5,100.5 348.5,144.5 334.5,100.5 263.5,136.5 302.5,138.5 293.5,139.5 301.5,104.5 272.5,135.5 315.5,109.5 308.5,59.5 334.5,126.5 287.5,154.5 264.5,111.5 257.5,154.5 326.5,118.5 329.5,152.5 339.5,143.5 322.5,101.5 308.5,162.5 360.5,100.5 305.5,108.5 293.5,171.5 273.5,137.5 311.5,84.5 317.5,104.5 310.5,149.5 328.5,115.5 316.5,171.5 290.5,166.5 329.5,118.5 253.5,114.5 247.5,141.5 332.5,141.5 259.5,134.5 302.5,98.5 241.5,123.5 340.5,157.5 288.5,84.5 268.5,136.5 283.5,169.5 321.5,120.5 310.5,118.5 299.5,106.5 248.5,148.5 301.5,127.5 299.5,161.5 331.5,158.5 308.5,130.5 374.5,90.5 327.5,151.5 338.5,135.5 302.5,90.5 331.5,136.5 275.5,124.5 246.5,116.5 285.5,159.5 294.5,116.5 307.5,87.5 287.5,163.5 301.5,98.5 329.5,142.5 282.5,133.5 339.5,162.5 252.5,105.5 341.5,120.5 345.5,143.5 301.5,84.5 261.5,150.5 296.5,146.5 339.5,68.5 295.5,148.5 321.5,131.5 315.5,81.5 318.5,144.5 319.5,115.5 330.5,114.5 304.5,68.5 296.5,161.5 327.5,82.5 299.5,159.5 326.5,160.5 240.5,117.5 257.5,121.5 288.5,147.5 304.5,96.5 289.5,147.5 297.5,81.5 283.5,107.5 319.5,160.5 286.5,147.5 268.5,163.5 307.5,113.5 371.5,96.5 278.5,159.5 277.5,151.5 333.5,126.5 326.5,119.5 267.5,134.5 278.5,145.5 288.5,149.5 306.5,130.5 283.5,72.5 314.5,154.5 305.5,96.5 299.5,175.5 292.5,73.5 251.5,71.5 308.5,119.5 302.5,170.5 312.5,146.5 320.5,123.5 255.5,121.5 268.5,129.5 259.5,126.5 344.5,136.5 339.5,126.5 327.5,136.5 318.5,99.5 256.5,113.5 299.5,138.5 319.5,80.5 273.5,111.5 240.5,116.5 264.5,126.5 305.5,71.5 314.5,79.5 288.5,85.5 288.5,136.5 323.5,139.5 310.5,76.5 339.5,118.5 323.5,95.5 322.5,105.5 282.5,124.5 252.5,112.5 315.5,91.5 317.5,83.5 336.5,159.5 312.5,166.5 287.5,158.5 287.5,113.5 295.5,96.5 313.5,102.5 329.5,169.5 327.5,162.5 262.5,104.5 257.5,111.5 278.5,69.5 254.5,147.5 247.5,122.5 345.5,130.5 355.5,157.5 299.5,77.5 309.5,92.5 289.5,114.5 329.5,131.5 271.5,133.5 274.5,103.5 304.5,121.5 320.5,130.5 308.5,174.5 274.5,79.5 328.5,68.5 281.5,85.5 347.5,139.5 284.5,79.5 301.5,120.5 276.5,129.5 285.5,72.5 282.5,86.5 262.5,108.5 296.5,117.5 321.5,150.5 256.5,112.5 311.5,86.5 273.5,82.5 296.5,107.5 262.5,99.5 263.5,126.5 274.5,56.5 278.5,77.5 264.5,133.5 289.5,97.5 326.5,54.5 270.5,151.5 264.5,110.5 268.5,116.5 266.5,113.5 299.5,69.5 296.5,131.5 299.5,147.5 343.5,76.5 285.5,90.5 337.5,167.5 311.5,164.5 260.5,105.5 279.5,103.5 300.5,95.5 322.5,143.5 315.5,96.5 312.5,167.5 288.5,122.5 326.5,118.5 321.5,176.5 253.5,126.5 259.5,121.5 252.5,124.5 330.5,173.5 298.5,80.5 324.5,98.5 270.5,126.5 281.5,121.5 302.5,68.5 325.5,93.5 267.5,84.5 325.5,109.5 307.5,83.5 287.5,110.5 279.5,135.5 282.5,104.5 304.5,77.5 336.5,138.5 324.5,82.5 278.5,114.5 334.5,125.5 313.5,170.5 244.5,107.5 288.5,123.5 260.5,156.5 305.5,96.5 272.5,93.5 287.5,96.5 281.5,74.5 339.5,161.5 257.5,117.5 266.5,154.5 321.5,168.5 275.5,89.5 263.5,128.5 264.5,137.5 355.5,133.5 305.5,74.5 343.5,126.5 282.5,140.5 329.5,133.5 251.5,126.5 342.5,113.5 301.5,101.5 301.5,73.5 297.5,159.5 331.5,161.5 304.5,148.5 318.5,141.5 295.5,170.5 314.5,121.5 253.5,118.5 305.5,146.5 296.5,67.5 241.5,105.5 274.5,153.5 297.5,124.5 304.5,92.5 358.5,146.5 321.5,66.5 328.5,109.5 249.5,139.5 315.5,94.5 312.5,83.5 296.5,131.5 332.5,105.5 260.5,126.5 270.5,153.5 256.5,105.5 333.5,109.5 312.5,117.5 290.5,80.5 239.5,128.5 310.5,129.5 345.5,118.5 311.5,149.5 257.5,106.5 257.5,130.5 324.5,86.5 319.5,173.5 304.5,154.5 256.5,104.5 262.5,116.5 304.5,54.5 271.5,89.5 303.5,147.5 317.5,131.5 265.5,117.5 333.5,169.5 288.5,164.5 330.5,169.5 304.5,73.5 332.5,98.5 326.5,115.5 314.5,76.5 284.5,138.5 321.5,164.5 345.5,160.5 253.5,114.5 303.5,175.5 248.5,118.5 276.5,112.5 285.5,95.5 277.5,105.5 308.5,81.5 264.5,115.5 328.5,157.5 298.5,98.5 356.5,158.5 296.5,157.5 326.5,98.5 293.5,116.5 281.5,75.5 314.5,49.5 270.5,111.5 246.5,122.5 321.5,113.5 300.5,106.5 295.5,149.5 343.5,156.5 320.5,164.5 298.5,150.5 268.5,126.5 241.5,118.5 308.5,127.5 319.5,102.5 304.5,79.5 322.5,153.5 317.5,131.5 317.5,153.5 337.5,140.5 313.5,137.5 335.5,154.5 248.5,109.5 279.5,60.5 339.5,160.5 337.5,122.5 286.5,105.5 326.5,124.5 323.5,160.5 282.5,122.5 259.5,145.5 324.5,110.5 334.5,169.5 341.5,136.5 387.5,145.5 247.5,134.5 294.5,114.5 330.5,158.5 254.5,130.5 305.5,75.5 264.5,109.5 336.5,141.5 339.5,163.5 334.5,147.5 283.5,170.5 314.5,99.5 285.5,109.5 317.5,87.5 290.5,90.5 340.5,158.5 283.5,119.5 319.5,67.5 275.5,84.5 244.5,122.5 283.5,45.5 290.5,67.5 277.5,168.5 338.5,111.5 286.5,104.5 312.5,51.5 351.5,110.5 311.5,85.5 294.5,94.5 287.5,109.5 283.5,137.5 330.5,87.5 269.5,139.5 268.5,127.5 315.5,102.5 315.5,113.5 307.5,147.5 303.5,80.5 268.5,85.5 314.5,124.5 269.5,158.5 282.5,166.5 306.5,147.5 254.5,150.5 310.5,111.5 294.5,121.5 310.5,119.5 303.5,114.5 341.5,120.5 310.5,59.5 306.5,159.5 327.5,112.5 296.5,77.5 264.5,152.5 244.5,117.5 299.5,149.5 297.5,105.5 314.5,118.5 334.5,112.5 330.5,131.5 262.5,103.5 299.5,173.5 327.5,146.5 294.5,122.5 269.5,131.5 325.5,101.5 269.5,127.5 336.5,139.5 296.5,140.5 273.5,109.5 270.5,92.5 284.5,157.5 313.5,58.5 358.5,152.5 293.5,84.5 276.5,93.5 317.5,108.5 264.5,91.5 304.5,114.5 316.5,133.5 343.5,141.5 332.5,148.5 285.5,73.5 290.5,84.5 307.5,162.5 313.5,171.5 299.5,75.5 277.5,121.5 295.5,135.5 325.5,59.5 313.5,61.5 307.5,128.5 291.5,85.5 322.5,159.5 347.5,122.5 299.5,172.5 328.5,115.5 285.5,135.5 293.5,49.5 287.5,103.5 300.5,56.5 307.5,110.5 269.5,145.5 261.5,114.5 269.5,110.5 294.5,141.5 280.5,125.5 298.5,128.5 332.5,170.5 262.5,133.5 320.5,132.5 284.5,86.5 310.5,164.5 283.5,131.5 299.5,75.5 335.5,115.5 281.5,160.5 342.5,185.5 259.5,92.5 302.5,138.5 321.5,125.5 307.5,171.5 243.5,151.5 264.5,127.5 312.5,158.5 316.5,143.5 313.5,163.5 318.5,102.5 308.5,84.5 336.5,110.5 314.5,130.5 297.5,160.5 319.5,156.5 273.5,81.5 331.5,148.5 278.5,158.5 357.5,156.5 268.5,75.5 307.5,129.5 325.5,154.5 272.5,83.5 242.5,94.5 314.5,153.5 341.5,150.5 323.5,91.5 307.5,173.5 308.5,157.5 341.5,165.5 253.5,119.5 347.5,160.5 239.5,115.5 345.5,160.5 244.5,129.5 294.5,101.5 290.5,123.5 324.5,166.5 310.5,122.5 296.5,92.5 340.5,134.5 326.5,116.5 279.5,160.5 286.5,127.5 297.5,77.5 340.5,156.5 328.5,122.5 364.5,157.5 295.5,153.5 285.5,165.5 284.5,154.5 281.5,158.5 298.5,77.5 295.5,160.5 265.5,87.5 308.5,84.5 263.5,81.5 344.5,129.5 244.5,137.5 261.5,106.5 268.5,124.5 265.5,99.5 331.5,125.5 322.5,122.5 278.5,107.5 315.5,136.5 305.5,125.5 270.5,145.5 293.5,150.5 249.5,125.5 265.5,83.5 288.5,123.5 291.5,157.5 305.5,171.5 299.5,157.5 285.5,71.5 327.5,166.5 291.5,84.5 295.5,172.5 318.5,167.5 274.5,96.5 317.5,109.5 275.5,101.5 290.5,80.5 313.5,89.5 265.5,115.5 274.5,151.5 313.5,108.5 305.5,85.5 359.5,117.5 318.5,80.5 265.5,157.5 274.5,143.5 260.5,142.5 272.5,137.5 277.5,153.5 284.5,78.5 253.5,132.5 283.5,89.5 259.5,121.5 263.5,158.5 284.5,145.5 329.5,119.5 340.5,110.5 318.5,169.5 292.5,99.5 307.5,79.5 322.5,85.5 286.5,113.5 314.5,55.5 277.5,139.5 275.5,118.5 297.5,167.5 309.5,121.5 321.5,93.5 326.5,155.5 275.5,122.5 325.5,160.5 340.5,71.5 340.5,145.5 332.5,125.5 305.5,109.5 280.5,103.5 345.5,62.5 298.5,160.5 285.5,94.5 308.5,107.5 266.5,151.5 282.5,156.5 266.5,125.5 339.5,125.5 333.5,126.5 289.5,97.5 297.5,80.5 335.5,104.5 305.5,158.5 341.5,129.5 263.5,90.5 327.5,95.5 283.5,149.5 362.5,113.5 306.5,157.5 325.5,152.5 317.5,99.5 305.5,103.5 258.5,105.5 277.5,110.5 259.5,100.5 346.5,148.5 288.5,71.5 298.5,89.5 345.5,145.5 317.5,112.5 255.5,128.5 278.5,166.5 277.5,151.5 332.5,74.5 239.5,132.5 275.5,160.5 245.5,136.5 356.5,114.5 340.5,117.5 261.5,152.5 314.5,98.5 243.5,138.5 251.5,146.5 250.5,120.5 330.5,115.5 321.5,153.5 258.5,99.5 289.5,96.5 314.5,125.5 258.5,145.5 311.5,169.5 275.5,72.5 295.5,120.5 272.5,73.5 342.5,149.5 335.5,98.5 306.5,88.5 324.5,135.5 302.5,151.5 271.5,111.5 262.5,143.5 307.5,173.5 311.5,114.5 253.5,102.5 255.5,155.5 331.5,169.5 296.5,53.5 247.5,114.5 322.5,133.5 298.5,69.5 277.5,118.5 340.5,162.5 261.5,136.5 300.5,150.5 309.5,86.5 323.5,171.5 343.5,133.5 306.5,74.5 289.5,95.5 245.5,114.5 264.5,116.5 236.5,115.5 285.5,123.5 267.5,114.5 272.5,113.5 282.5,147.5 272.5,74.5 293.5,104.5 311.5,175.5 279.5,125.5 303.5,164.5 273.5,137.5 310.5,75.5 311.5,131.5 320.5,145.5 285.5,163.5 279.5,167.5 289.5,154.5 320.5,95.5 275.5,137.5 312.5,94.5 333.5,169.5 331.5,106.5 291.5,111.5 309.5,78.5 321.5,121.5 281.5,149.5 338.5,148.5 331.5,161.5 380.5,125.5 284.5,163.5 266.5,142.5 278.5,56.5 388.5,145.5 297.5,134.5 342.5,117.5 305.5,158.5 331.5,103.5 338.5,160.5 316.5,87.5 268.5,126.5 289.5,90.5 247.5,105.5 278.5,151.5 300.5,156.5 326.5,107.5 318.5,112.5 302.5,107.5 302.5,74.5 264.5,157.5 267.5,121.5 271.5,124.5 255.5,99.5 267.5,138.5 327.5,79.5 343.5,139.5 287.5,78.5 285.5,89.5 258.5,150.5 264.5,96.5 319.5,113.5 291.5,105.5 285.5,63.5 266.5,166.5 316.5,141.5 290.5,139.5 321.5,89.5 248.5,122.5 317.5,156.5 292.5,84.5 269.5,159.5 262.5,119.5 325.5,177.5 326.5,92.5 315.5,98.5 304.5,74.5 276.5,105.5 292.5,105.5 279.5,91.5 284.5,160.5 291.5,151.5 287.5,146.5 260.5,85.5 296.5,117.5 337.5,124.5 241.5,134.5 267.5,131.5 325.5,145.5 299.5,85.5 246.5,126.5 293.5,167.5 305.5,132.5 344.5,122.5 267.5,138.5 250.5,134.5 296.5,122.5 276.5,156.5 338.5,128.5 318.5,94.5 297.5,89.5 339.5,151.5 327.5,151.5 318.5,96.5 296.5,85.5 331.5,59.5 270.5,135.5 301.5,154.5 272.5,163.5 289.5,166.5 311.5,78.5 266.5,120.5 303.5,81.5 311.5,148.5 257.5,111.5 341.5,158.5 299.5,168.5 272.5,90.5 288.5,129.5 314.5,157.5 310.5,110.5 272.5,127.5 262.5,146.5 242.5,130.5 274.5,83.5 269.5,83.5 291.5,157.5 260.5,91.5 260.5,105.5 302.5,81.5 241.5,140.5 312.5,145.5 282.5,62.5 325.5,174.5 287.5,161.5 342.5,122.5 345.5,139.5 300.5,134.5 264.5,130.5 272.5,88.5 323.5,172.5 292.5,100.5 304.5,166.5 322.5,171.5 309.5,136.5 293.5,89.5 264.5,118.5 323.5,136.5 290.5,122.5 292.5,145.5 307.5,141.5 272.5,88.5 337.5,59.5 318.5,135.5 280.5,101.5 322.5,95.5 322.5,91.5 293.5,50.5 277.5,161.5 296.5,110.5 262.5,110.5 296.5,146.5 303.5,114.5 286.5,169.5 293.5,135.5 321.5,92.5 304.5,144.5 307.5,61.5 360.5,146.5 344.5,170.5 305.5,100.5 324.5,145.5 285.5,75.5 238.5,133.5 268.5,150.5 272.5,84.5 308.5,177.5 298.5,172.5 291.5,145.5 241.5,108.5 303.5,117.5 317.5,111.5 263.5,81.5 274.5,120.5 340.5,137.5 346.5,156.5 314.5,91.5 319.5,82.5 306.5,122.5 296.5,76.5 287.5,88.5 271.5,76.5 334.5,116.5 285.5,111.5 272.5,80.5 296.5,113.5 346.5,131.5 259.5,114.5 333.5,155.5 272.5,109.5 323.5,108.5 287.5,159.5 305.5,133.5 298.5,166.5 306.5,140.5 328.5,152.5 272.5,101.5 283.5,137.5 273.5,165.5 280.5,137.5 244.5,133.5 358.5,92.5 267.5,129.5 298.5,134.5 261.5,95.5 291.5,103.5 266.5,105.5 320.5,106.5 341.5,160.5 276.5,110.5 295.5,141.5 287.5,164.5 292.5,144.5 293.5,142.5 327.5,119.5 343.5,135.5 270.5,73.5 308.5,68.5 310.5,76.5 312.5,151.5 351.5,99.5 317.5,149.5 317.5,110.5 270.5,86.5 289.5,62.5 286.5,100.5 309.5,159.5 282.5,55.5 283.5,148.5 271.5,106.5 327.5,108.5 272.5,135.5 277.5,112.5 318.5,106.5 253.5,104.5 286.5,132.5 282.5,93.5 289.5,108.5 309.5,88.5 329.5,175.5 321.5,152.5 292.5,87.5 288.5,90.5 240.5,127.5 335.5,129.5 294.5,115.5 291.5,76.5 265.5,144.5 336.5,159.5 322.5,108.5 291.5,124.5 313.5,146.5 272.5,121.5 338.5,151.5 310.5,123.5 288.5,84.5 257.5,141.5 273.5,143.5 282.5,63.5 273.5,142.5 296.5,20.5 318.5,126.5 302.5,111.5 264.5,83.5 305.5,106.5 340.5,115.5 258.5,128.5 303.5,80.5 322.5,170.5 322.5,161.5 270.5,90.5 308.5,87.5 318.5,135.5 291.5,100.5 313.5,60.5 252.5,117.5 285.5,160.5 277.5,115.5 296.5,106.5 240.5,136.5 276.5,119.5 293.5,158.5 253.5,151.5 291.5,48.5 271.5,72.5 260.5,107.5 290.5,85.5 287.5,151.5 237.5,119.5 298.5,130.5 337.5,127.5 278.5,122.5 327.5,104.5 252.5,137.5 269.5,91.5 260.5,132.5 318.5,95.5 270.5,161.5 311.5,161.5 294.5,94.5 295.5,121.5 280.5,147.5 258.5,98.5 286.5,158.5 329.5,159.5 338.5,120.5 316.5,80.5 298.5,119.5 297.5,165.5 265.5,121.5 301.5,103.5 338.5,146.5 311.5,134.5 312.5,89.5 298.5,118.5 260.5,149.5 247.5,124.5 303.5,112.5 283.5,136.5 243.5,110.5 258.5,125.5 290.5,111.5 278.5,120.5 320.5,62.5 266.5,74.5 328.5,164.5 295.5,70.5 337.5,156.5 277.5,150.5 306.5,154.5 286.5,147.5 314.5,172.5 252.5,121.5 322.5,143.5 326.5,150.5 284.5,88.5 313.5,174.5 319.5,120.5 332.5,106.5 273.5,105.5 293.5,96.5 318.5,129.5 330.5,119.5 331.5,54.5 323.5,106.5 290.5,74.5 284.5,70.5 255.5,121.5 295.5,143.5 321.5,140.5 286.5,132.5 285.5,123.5 297.5,160.5 269.5,82.5 302.5,92.5 288.5,157.5 270.5,76.5 292.5,97.5 275.5,116.5 325.5,75.5 243.5,85.5 295.5,172.5 255.5,104.5 294.5,152.5 262.5,156.5 277.5,91.5 252.5,152.5 325.5,129.5 295.5,62.5 261.5,104.5 271.5,136.5 322.5,96.5 293.5,93.5 318.5,153.5 309.5,71.5 288.5,80.5 296.5,156.5 316.5,102.5 247.5,127.5 261.5,145.5 289.5,75.5 283.5,96.5 260.5,151.5 284.5,88.5 335.5,108.5 323.5,113.5 312.5,142.5 242.5,108.5 317.5,80.5 287.5,136.5 335.5,156.5 300.5,46.5 301.5,108.5 275.5,149.5 343.5,62.5 275.5,151.5 309.5,167.5 284.5,68.5 271.5,77.5 295.5,145.5 277.5,103.5 281.5,110.5 326.5,162.5 306.5,115.5 281.5,87.5 242.5,119.5 292.5,84.5 283.5,110.5 257.5,111.5 312.5,99.5 339.5,124.5 324.5,119.5 267.5,125.5 323.5,168.5 267.5,94.5 336.5,122.5 289.5,146.5 261.5,157.5 320.5,114.5 261.5,99.5 336.5,104.5 258.5,157.5 312.5,155.5 300.5,99.5 283.5,119.5 315.5,94.5 303.5,169.5 279.5,138.5 313.5,159.5 306.5,91.5 265.5,166.5 280.5,163.5 307.5,73.5 288.5,63.5 319.5,82.5 315.5,110.5 252.5,117.5 326.5,163.5 282.5,110.5 300.5,154.5 324.5,164.5 318.5,119.5 327.5,83.5 342.5,67.5 328.5,106.5 310.5,141.5 320.5,133.5 345.5,145.5 269.5,141.5 268.5,99.5 286.5,109.5 263.5,87.5 282.5,86.5 323.5,109.5 328.5,162.5 335.5,159.5 277.5,112.5 334.5,175.5 286.5,134.5 341.5,153.5 257.5,133.5 356.5,146.5 263.5,150.5 306.5,133.5 330.5,50.5 265.5,119.5 334.5,149.5 254.5,122.5 272.5,115.5 254.5,78.5 254.5,98.5 329.5,109.5 316.5,136.5 280.5,56.5 266.5,65.5 343.5,131.5 274.5,137.5 332.5,164.5 281.5,149.5 344.5,123.5 325.5,123.5 306.5,167.5 328.5,162.5 311.5,94.5 301.5,122.5 263.5,128.5 291.5,71.5 267.5,107.5 251.5,119.5 267.5,139.5 302.5,106.5 302.5,72.5 267.5,93.5 329.5,141.5 283.5,90.5 311.5,172.5 308.5,173.5 315.5,92.5 293.5,107.5 340.5,144.5 348.5,111.5 269.5,121.5 303.5,61.5 272.5,104.5 243.5,107.5 281.5,118.5 287.5,79.5 325.5,147.5 281.5,132.5 295.5,130.5 320.5,123.5 313.5,125.5 280.5,158.5 300.5,171.5 254.5,106.5 296.5,88.5 294.5,162.5 315.5,142.5 275.5,129.5 329.5,125.5 339.5,168.5 276.5,93.5 261.5,152.5 266.5,125.5 315.5,155.5 266.5,77.5 310.5,124.5 249.5,126.5 308.5,44.5 327.5,148.5 304.5,100.5 311.5,80.5 321.5,60.5 277.5,169.5 337.5,139.5 289.5,54.5 252.5,138.5 327.5,170.5 290.5,145.5 291.5,83.5 334.5,156.5 315.5,168.5 281.5,160.5 353.5,117.5 282.5,142.5 301.5,146.5 253.5,121.5 322.5,86.5 271.5,113.5 328.5,77.5 306.5,131.5 337.5,167.5 280.5,158.5 332.5,91.5 329.5,62.5 307.5,144.5 311.5,114.5 250.5,127.5 268.5,132.5 307.5,139.5 279.5,161.5 275.5,120.5 305.5,138.5 294.5,133.5 305.5,149.5 308.5,145.5 296.5,116.5 282.5,83.5 287.5,113.5 276.5,119.5 332.5,134.5 340.5,156.5 318.5,167.5 249.5,124.5 270.5,102.5 283.5,125.5 304.5,96.5 281.5,128.5 264.5,137.5 311.5,74.5 343.5,150.5 320.5,130.5 304.5,81.5 295.5,81.5 340.5,170.5 310.5,88.5 290.5,108.5 240.5,123.5 311.5,73.5 315.5,170.5 270.5,159.5 302.5,120.5 289.5,166.5 310.5,167.5 277.5,107.5 314.5,108.5 304.5,79.5 313.5,175.5 302.5,150.5 328.5,174.5 261.5,139.5 273.5,60.5 269.5,94.5 326.5,114.5 324.5,173.5 309.5,146.5 330.5,117.5 289.5,75.5 317.5,152.5 249.5,109.5 322.5,94.5 271.5,100.5 287.5,76.5 277.5,137.5 259.5,123.5 303.5,109.5 326.5,161.5 347.5,139.5 294.5,104.5 280.5,128.5 332.5,177.5 355.5,151.5 336.5,171.5 299.5,159.5 331.5,147.5 316.5,105.5 244.5,125.5 319.5,48.5 247.5,131.5 277.5,87.5 342.5,125.5 321.5,160.5 299.5,128.5 302.5,94.5 245.5,124.5 311.5,103.5 261.5,118.5 277.5,112.5 335.5,149.5 311.5,72.5 329.5,98.5 281.5,161.5 326.5,123.5 313.5,127.5 332.5,115.5 327.5,175.5 275.5,146.5 248.5,105.5 297.5,143.5 319.5,173.5 252.5,129.5 238.5,112.5 289.5,93.5 253.5,134.5 283.5,141.5 321.5,49.5 269.5,126.5 271.5,87.5 339.5,157.5 316.5,84.5 270.5,103.5 277.5,109.5 283.5,87.5 300.5,86.5 258.5,123.5 337.5,105.5 297.5,146.5 270.5,106.5 254.5,103.5 315.5,121.5 254.5,137.5 302.5,136.5 269.5,94.5 336.5,107.5 270.5,86.5 326.5,161.5 257.5,95.5 255.5,138.5 270.5,59.5 290.5,58.5 277.5,162.5 324.5,136.5 247.5,109.5 246.5,112.5 337.5,161.5 305.5,72.5 279.5,101.5 337.5,115.5 249.5,150.5 281.5,93.5 342.5,114.5 331.5,155.5 308.5,121.5 299.5,104.5 257.5,133.5 277.5,114.5 304.5,162.5 330.5,166.5 284.5,112.5 315.5,86.5 292.5,98.5 294.5,127.5 265.5,94.5 323.5,130.5 302.5,103.5 293.5,88.5 305.5,44.5 332.5,128.5 318.5,150.5 265.5,126.5 314.5,89.5 239.5,116.5 357.5,112.5 288.5,146.5 270.5,155.5 302.5,174.5 319.5,108.5 292.5,103.5 333.5,103.5 332.5,134.5 318.5,162.5 324.5,88.5 269.5,109.5 256.5,136.5 307.5,177.5 288.5,127.5 295.5,103.5 303.5,73.5 247.5,145.5 331.5,115.5 274.5,117.5 239.5,120.5 296.5,162.5 327.5,146.5 339.5,172.5 350.5,141.5 279.5,152.5 322.5,142.5 298.5,85.5 314.5,96.5 298.5,73.5 312.5,73.5 270.5,162.5 305.5,132.5 265.5,100.5 251.5,140.5 291.5,172.5 268.5,105.5 315.5,145.5 347.5,63.5 324.5,148.5 339.5,111.5 282.5,156.5 270.5,161.5 301.5,75.5 268.5,119.5 280.5,117.5 344.5,68.5 262.5,91.5 317.5,120.5 336.5,124.5 326.5,102.5 305.5,101.5 300.5,148.5 297.5,119.5 342.5,158.5 271.5,114.5 296.5,138.5 296.5,113.5 279.5,85.5 337.5,104.5 314.5,169.5 316.5,165.5 292.5,130.5 330.5,132.5 238.5,118.5 282.5,134.5 283.5,98.5 327.5,141.5 312.5,143.5 317.5,121.5 272.5,131.5 276.5,157.5 259.5,115.5 276.5,74.5 311.5,112.5 304.5,91.5 264.5,78.5 254.5,119.5 293.5,93.5 320.5,122.5 247.5,129.5 276.5,115.5 270.5,159.5 324.5,95.5 300.5,123.5 331.5,120.5 281.5,121.5 324.5,122.5 278.5,112.5 305.5,129.5 317.5,73.5 290.5,123.5 307.5,155.5 283.5,115.5 341.5,152.5 344.5,145.5 284.5,136.5 328.5,128.5 300.5,125.5 300.5,89.5 288.5,149.5 270.5,110.5 303.5,132.5 326.5,123.5 307.5,100.5 331.5,129.5 340.5,107.5 315.5,167.5 327.5,91.5 292.5,139.5 270.5,88.5 268.5,76.5 328.5,108.5 271.5,129.5 278.5,131.5 352.5,150.5 281.5,129.5 328.5,142.5 338.5,147.5 293.5,71.5 339.5,173.5 350.5,125.5 338.5,129.5 300.5,85.5 323.5,69.5 281.5,127.5 272.5,88.5 260.5,108.5 314.5,158.5 328.5,167.5 261.5,129.5 277.5,134.5 319.5,120.5 252.5,109.5 261.5,108.5 293.5,107.5 268.5,91.5 305.5,103.5 296.5,89.5 272.5,128.5 336.5,102.5 252.5,135.5 306.5,164.5 337.5,112.5 299.5,126.5 327.5,168.5 275.5,74.5 286.5,116.5 323.5,115.5 270.5,116.5 302.5,174.5 245.5,140.5 321.5,100.5 308.5,162.5 277.5,154.5 283.5,119.5 292.5,141.5 270.5,115.5 257.5,97.5 274.5,134.5 261.5,155.5 304.5,125.5 276.5,127.5 309.5,115.5 341.5,149.5 329.5,170.5 320.5,158.5 313.5,146.5 293.5,159.5 299.5,107.5 286.5,111.5 238.5,116.5 246.5,151.5 329.5,119.5 252.5,151.5 332.5,55.5 273.5,90.5 269.5,111.5 276.5,92.5 281.5,131.5 338.5,154.5 332.5,160.5 253.5,70.5 260.5,71.5 282.5,104.5 345.5,153.5 286.5,112.5 268.5,65.5 294.5,129.5 329.5,109.5 281.5,72.5 274.5,141.5 291.5,98.5 329.5,141.5 349.5,133.5 293.5,111.5 277.5,164.5 261.5,155.5 329.5,163.5 330.5,133.5 323.5,90.5 339.5,112.5 294.5,126.5 317.5,79.5 271.5,102.5 268.5,161.5 302.5,54.5 315.5,91.5 337.5,116.5 292.5,144.5 299.5,79.5 338.5,141.5 265.5,128.5 245.5,135.5 312.5,139.5 290.5,86.5 340.5,150.5 323.5,94.5 324.5,99.5 245.5,112.5 274.5,126.5 340.5,82.5 318.5,158.5 329.5,127.5 269.5,115.5 266.5,62.5 302.5,135.5 350.5,168.5 337.5,167.5 261.5,143.5 272.5,136.5 275.5,137.5 321.5,143.5 341.5,141.5 271.5,82.5 331.5,135.5 246.5,140.5 246.5,120.5 302.5,98.5 323.5,99.5 320.5,169.5 323.5,85.5 282.5,139.5 276.5,118.5 306.5,143.5 256.5,149.5 250.5,112.5 284.5,137.5 323.5,123.5 324.5,93.5 265.5,92.5 309.5,101.5 261.5,112.5 309.5,124.5 289.5,88.5 267.5,116.5 326.5,166.5 341.5,162.5 310.5,133.5 303.5,153.5 329.5,132.5 307.5,101.5 270.5,136.5 323.5,95.5 269.5,120.5 278.5,156.5 321.5,98.5 298.5,73.5 301.5,131.5 323.5,154.5 308.5,94.5 281.5,111.5 344.5,139.5 285.5,143.5 337.5,124.5 322.5,87.5 380.5,87.5 346.5,172.5 318.5,122.5 314.5,157.5 299.5,156.5 290.5,104.5 337.5,137.5 255.5,134.5 331.5,150.5 285.5,93.5 267.5,96.5 331.5,133.5 307.5,168.5 342.5,135.5 258.5,126.5 260.5,150.5 321.5,83.5 321.5,109.5 343.5,125.5 283.5,102.5 276.5,113.5 305.5,129.5 346.5,145.5 268.5,144.5 271.5,118.5 238.5,127.5 323.5,166.5 333.5,94.5 327.5,173.5 316.5,96.5 265.5,74.5 303.5,68.5 265.5,106.5 277.5,76.5 337.5,66.5 312.5,71.5 293.5,121.5 298.5,85.5 308.5,94.5 282.5,120.5 315.5,48.5 311.5,105.5 316.5,107.5 266.5,148.5 269.5,154.5 265.5,87.5 308.5,138.5 340.5,131.5 266.5,99.5 399.5,132.5 291.5,156.5 269.5,134.5 338.5,137.5 312.5,112.5 337.5,128.5 260.5,73.5 269.5,130.5 259.5,105.5 303.5,168.5 292.5,121.5 248.5,112.5 359.5,72.5 324.5,98.5 237.5,124.5 309.5,171.5 313.5,99.5 337.5,133.5 329.5,156.5 346.5,119.5 332.5,151.5 301.5,70.5 319.5,119.5 266.5,109.5 291.5,114.5 271.5,129.5 267.5,150.5 311.5,130.5 242.5,111.5 275.5,109.5 277.5,115.5 316.5,138.5 263.5,162.5 335.5,134.5 269.5,152.5 271.5,145.5 271.5,113.5 280.5,101.5 314.5,120.5 304.5,96.5 292.5,75.5 319.5,169.5 263.5,125.5 258.5,142.5 325.5,99.5 333.5,117.5 290.5,114.5 276.5,67.5 312.5,170.5 305.5,111.5 310.5,164.5 307.5,115.5 276.5,68.5 291.5,77.5 275.5,124.5 300.5,136.5 283.5,80.5 244.5,134.5 261.5,148.5 289.5,134.5 297.5,107.5 338.5,109.5 271.5,103.5 297.5,85.5 301.5,162.5 302.5,102.5 324.5,139.5 306.5,161.5 293.5,55.5 285.5,149.5 311.5,115.5 297.5,157.5 287.5,88.5 299.5,102.5 312.5,111.5 289.5,137.5 334.5,109.5 317.5,122.5 268.5,83.5 312.5,127.5 313.5,172.5 324.5,92.5 298.5,167.5 303.5,118.5 275.5,152.5 337.5,155.5 345.5,165.5 299.5,111.5 273.5,73.5 295.5,52.5 309.5,119.5 283.5,129.5 329.5,164.5 302.5,69.5 258.5,159.5 319.5,148.5 256.5,108.5 340.5,155.5 296.5,163.5 265.5,97.5 256.5,118.5 307.5,159.5 323.5,130.5 263.5,109.5 268.5,128.5 245.5,108.5 294.5,169.5 288.5,75.5 337.5,156.5 316.5,106.5 316.5,127.5 358.5,123.5" fill="none" stroke="none" marker-start="url(#my)" marker-mid="url(#my)" marker-end="url(#my)"/>
<path d="M207.7 2.2V227.4H492.8" fill="none" stroke="#1c1c1c" stroke-width="1.2"/>
<path d="M207.7 227.4v-3.2M248.4 227.4v-3.2M289.2 227.4v-3.2M329.9 227.4v-3.2M370.6 227.4v-3.2M411.3 227.4v-3.2M452.1 227.4v-3.2M492.8 227.4v-3.2M207.7 227.4h3.2M207.7 189.9h3.2M207.7 152.3h3.2M207.7 114.8h3.2M207.7 77.3h3.2M207.7 39.7h3.2M207.7 2.2h3.2" stroke="#1c1c1c" stroke-width="1.2"/>
<text x="207.7" y="245.9" text-anchor="middle">-0.6</text>
<text x="248.4" y="245.9" text-anchor="middle">-0.4</text>
<text x="289.2" y="245.9" text-anchor="middle">-0.2</text>
<text x="329.9" y="245.9" text-anchor="middle">0</text>
<text x="370.6" y="245.9" text-anchor="middle">0.2</text>
<text x="411.3" y="245.9" text-anchor="middle">0.4</text>
<text x="452.1" y="245.9" text-anchor="middle">0.6</text>
<text x="492.8" y="245.9" text-anchor="middle">0.8</text>
<text x="202.2" y="234" text-anchor="end">-0.6</text>
<text x="202.2" y="196.5" text-anchor="end">-0.4</text>
<text x="202.2" y="158.9" text-anchor="end">-0.2</text>
<text x="202.2" y="121.4" text-anchor="end">0</text>
<text x="202.2" y="83.9" text-anchor="end">0.2</text>
<text x="202.2" y="46.3" text-anchor="end">0.4</text>
<text x="202.2" y="8.8" text-anchor="end">0.6</text>
<rect x="389.9" y="14.4" width="91.1" height="50.2" fill="#fff" stroke="#1c1c1c" stroke-width="1.3"/>
<circle cx="416.3" cy="23.7" r="3.35" fill="none" stroke="#0072BD" stroke-width="1.15"/>
<path d="M411.8 40h9M416.3 35.5v9" stroke="#D95319" stroke-width="1.15"/>
<path d="M411.7 55.7h9.2M416.3 51.1v9.2M413 52.4l6.6 6.6M413 59l6.6-6.6" stroke="#EDB120" stroke-width="1.15"/>
<text x="437.8" y="29.8" font-size="11">An-26</text>
<text x="437.8" y="45.2" font-size="11">C.C.S/II</text>
<text x="437.8" y="59.9" font-size="11">Yark-42</text>
<path d="M191.6 359.3 L182.5 398.1 L189.7 410.5 L193.9 434.8 L196.6 447 L221.8 447.9 L240.7 443.1 L254.3 443 L266.5 441.1 L240.5 411.6 L222.9 394 L216.2 383 L206.9 373.7 L197.5 367.8 L191.6 359.3Z" fill="#0072BD"/>
<polyline points="218.5,422.5 227.5,427.5 243.5,433.5 203.5,394.5 194.5,419.5 246.5,418.5 257.5,446.5 250.5,416.5 240.5,437.5 197.5,398.5 214.5,379.5 195.5,403.5 189.5,374.5 214.5,401.5 201.5,445.5 205.5,384.5 201.5,389.5 188.5,374.5 200.5,398.5 212.5,446.5 249.5,426.5 220.5,401.5 235.5,408.5 191.5,356.5 248.5,423.5 258.5,430.5 208.5,391.5 206.5,373.5 210.5,420.5 184.5,372.5 198.5,407.5 203.5,384.5 194.5,412.5 190.5,408.5 247.5,445.5 241.5,437.5 247.5,438.5 239.5,446.5 215.5,389.5 213.5,406.5 199.5,389.5 188.5,375.5 194.5,366.5 215.5,448.5 207.5,440.5 264.5,437.5 208.5,374.5 233.5,436.5 194.5,429.5 218.5,385.5 270.5,443.5 193.5,380.5 235.5,429.5 217.5,422.5 215.5,423.5 264.5,433.5 211.5,420.5 189.5,427.5 200.5,426.5 244.5,426.5 201.5,390.5 204.5,419.5 226.5,440.5 200.5,370.5 196.5,426.5 233.5,431.5 250.5,418.5 214.5,409.5 208.5,411.5 195.5,443.5 202.5,394.5 236.5,404.5 208.5,401.5 204.5,401.5 177.5,358.5 237.5,433.5 211.5,415.5 191.5,403.5 216.5,436.5 218.5,441.5 179.5,380.5 212.5,405.5 212.5,413.5 245.5,430.5 226.5,412.5 221.5,437.5 260.5,440.5 245.5,429.5 234.5,406.5 206.5,396.5 263.5,442.5 239.5,442.5 192.5,371.5 197.5,410.5 241.5,441.5 207.5,403.5 225.5,437.5 191.5,412.5 194.5,365.5 217.5,440.5 232.5,423.5 199.5,402.5 231.5,410.5 204.5,401.5 193.5,361.5 204.5,445.5 230.5,430.5 198.5,372.5 216.5,406.5 240.5,419.5 224.5,416.5 218.5,438.5 187.5,395.5 211.5,379.5 230.5,428.5 233.5,441.5 208.5,376.5 215.5,415.5 215.5,405.5 177.5,364.5 191.5,393.5 210.5,386.5 197.5,427.5 192.5,393.5 196.5,445.5 196.5,439.5 217.5,377.5 272.5,437.5 263.5,440.5 236.5,447.5 216.5,438.5 197.5,383.5 197.5,411.5 237.5,440.5 221.5,431.5 182.5,388.5 223.5,409.5 232.5,436.5 212.5,404.5 220.5,414.5 187.5,368.5 211.5,383.5 192.5,403.5 196.5,380.5 187.5,420.5 223.5,401.5 184.5,411.5 213.5,398.5 197.5,423.5 243.5,431.5 241.5,442.5 221.5,437.5 249.5,425.5 194.5,368.5 217.5,386.5 193.5,378.5 202.5,390.5 195.5,412.5 214.5,405.5 188.5,355.5 226.5,392.5 204.5,420.5 255.5,430.5 259.5,425.5 243.5,415.5 246.5,414.5 238.5,412.5 181.5,405.5 216.5,379.5 207.5,387.5 210.5,423.5 258.5,446.5 187.5,441.5 188.5,415.5 192.5,422.5 217.5,442.5 253.5,408.5 237.5,431.5 226.5,439.5 185.5,395.5 215.5,409.5 226.5,446.5 219.5,414.5 236.5,445.5 245.5,437.5 260.5,431.5 212.5,431.5 209.5,443.5 236.5,429.5 254.5,432.5 239.5,418.5 192.5,367.5 223.5,398.5 189.5,377.5 192.5,379.5 189.5,400.5 269.5,439.5 268.5,436.5 193.5,405.5 241.5,429.5 190.5,395.5 187.5,426.5 243.5,408.5 225.5,401.5 213.5,398.5 251.5,442.5 179.5,375.5 194.5,382.5 255.5,427.5 183.5,387.5 232.5,396.5 201.5,421.5 191.5,392.5 184.5,389.5 188.5,368.5 204.5,394.5 183.5,395.5 190.5,356.5 257.5,434.5 197.5,405.5 258.5,447.5 206.5,451.5 200.5,373.5 194.5,410.5 204.5,406.5 189.5,399.5 206.5,441.5 225.5,421.5 213.5,398.5 210.5,411.5 193.5,438.5 224.5,430.5 194.5,434.5 214.5,424.5 196.5,422.5 226.5,435.5 216.5,397.5 195.5,366.5 210.5,378.5 241.5,429.5 250.5,437.5 231.5,433.5 204.5,402.5 206.5,415.5 221.5,432.5 210.5,415.5 217.5,400.5 255.5,422.5 211.5,384.5 252.5,443.5 188.5,421.5 193.5,380.5 241.5,444.5 195.5,367.5 269.5,439.5 238.5,435.5 226.5,393.5 203.5,384.5 216.5,404.5 194.5,445.5 260.5,436.5 211.5,403.5 207.5,425.5 233.5,431.5 197.5,394.5 257.5,434.5 228.5,424.5 199.5,367.5 210.5,374.5 227.5,408.5 217.5,399.5 244.5,439.5 219.5,445.5 194.5,384.5 234.5,418.5 216.5,443.5 218.5,390.5 188.5,400.5 200.5,402.5 208.5,432.5 197.5,429.5 225.5,441.5 244.5,444.5 192.5,427.5 232.5,432.5 217.5,418.5 229.5,401.5 174.5,359.5 222.5,416.5 256.5,445.5 186.5,378.5 223.5,400.5 203.5,394.5 221.5,410.5 187.5,424.5 226.5,423.5 239.5,430.5 247.5,424.5 195.5,387.5 182.5,364.5 212.5,373.5 181.5,378.5 184.5,389.5 224.5,439.5 256.5,437.5 194.5,402.5 217.5,400.5 196.5,363.5 234.5,414.5 201.5,411.5 236.5,414.5 201.5,436.5 257.5,442.5 209.5,400.5 241.5,409.5 182.5,385.5 231.5,415.5 199.5,403.5 220.5,445.5 195.5,369.5 218.5,409.5 228.5,396.5 182.5,399.5 181.5,381.5 170.5,372.5 202.5,388.5 212.5,386.5 174.5,376.5 249.5,426.5 195.5,413.5 204.5,441.5 194.5,382.5 223.5,418.5 187.5,414.5 273.5,444.5 208.5,446.5 205.5,406.5 204.5,441.5 204.5,448.5 207.5,407.5 191.5,354.5 198.5,385.5 258.5,444.5 207.5,449.5 244.5,430.5 192.5,367.5 210.5,405.5 190.5,353.5 212.5,408.5 219.5,422.5 235.5,440.5 200.5,409.5 207.5,418.5 266.5,431.5 196.5,397.5 233.5,411.5 237.5,406.5 193.5,390.5 241.5,426.5 199.5,385.5 186.5,367.5 198.5,430.5 223.5,437.5 235.5,451.5 189.5,404.5 227.5,407.5 225.5,419.5 245.5,441.5 205.5,426.5 194.5,419.5 205.5,452.5 260.5,433.5 198.5,377.5 189.5,377.5 203.5,405.5 194.5,374.5 194.5,358.5 191.5,409.5 259.5,431.5 201.5,381.5 214.5,442.5 201.5,363.5 260.5,427.5 224.5,429.5 218.5,424.5 253.5,424.5 232.5,440.5 269.5,444.5 250.5,435.5 231.5,437.5 223.5,418.5 254.5,436.5 241.5,428.5 226.5,406.5 187.5,394.5 254.5,434.5 217.5,451.5 258.5,423.5 222.5,393.5 197.5,434.5 213.5,417.5 217.5,445.5 175.5,376.5 227.5,420.5 228.5,418.5 213.5,437.5 224.5,418.5 199.5,372.5 237.5,440.5 211.5,406.5 206.5,416.5 195.5,364.5 182.5,372.5 236.5,419.5 253.5,449.5 214.5,420.5 219.5,394.5 188.5,384.5 198.5,422.5 215.5,440.5 238.5,424.5 207.5,403.5 187.5,421.5 199.5,412.5 252.5,437.5 196.5,369.5 201.5,452.5 208.5,446.5 180.5,362.5 225.5,448.5 189.5,359.5 191.5,382.5 216.5,449.5 195.5,388.5 226.5,443.5 211.5,412.5 204.5,425.5 194.5,408.5 205.5,421.5 241.5,439.5 196.5,440.5 226.5,397.5 195.5,424.5 196.5,430.5 202.5,446.5 212.5,415.5 196.5,417.5 192.5,393.5 209.5,371.5 226.5,408.5 204.5,402.5 219.5,382.5 196.5,366.5 191.5,413.5 220.5,442.5 260.5,444.5 223.5,422.5 199.5,414.5 212.5,424.5 205.5,392.5 208.5,449.5 219.5,439.5 245.5,414.5 215.5,438.5 209.5,431.5 262.5,440.5 239.5,419.5 188.5,420.5 195.5,440.5 237.5,407.5 185.5,380.5 249.5,420.5 214.5,398.5 195.5,423.5 256.5,444.5 211.5,377.5 194.5,449.5 215.5,424.5 198.5,372.5 204.5,433.5 205.5,404.5 219.5,406.5 190.5,404.5 225.5,387.5 234.5,421.5 201.5,449.5 197.5,407.5 222.5,428.5 207.5,392.5 238.5,408.5 221.5,423.5 202.5,408.5 206.5,440.5 264.5,437.5 234.5,431.5 223.5,405.5 237.5,444.5 236.5,440.5 199.5,414.5 261.5,432.5 192.5,399.5 194.5,383.5 184.5,374.5 186.5,383.5 203.5,451.5 168.5,357.5 194.5,357.5 195.5,439.5 203.5,448.5 206.5,393.5 237.5,431.5 220.5,400.5 243.5,411.5 245.5,440.5 218.5,413.5 220.5,434.5 216.5,399.5 203.5,410.5 196.5,426.5 212.5,418.5 194.5,379.5 199.5,425.5 192.5,373.5 208.5,391.5 185.5,394.5 207.5,383.5 251.5,438.5 184.5,382.5 213.5,441.5 204.5,379.5 206.5,386.5 263.5,441.5 238.5,445.5 193.5,362.5 239.5,420.5 234.5,415.5 191.5,372.5 264.5,447.5 235.5,438.5 240.5,410.5 207.5,417.5 231.5,404.5 170.5,359.5 258.5,431.5 221.5,432.5 199.5,376.5 214.5,398.5 189.5,387.5 186.5,355.5 225.5,450.5 184.5,368.5 215.5,436.5 236.5,415.5 264.5,438.5 204.5,366.5 207.5,414.5 211.5,380.5 204.5,396.5 208.5,383.5 180.5,390.5 208.5,408.5 223.5,398.5 186.5,354.5 235.5,403.5 186.5,392.5 237.5,433.5 222.5,388.5 195.5,383.5 190.5,413.5 219.5,442.5 233.5,444.5 226.5,440.5 215.5,402.5 217.5,416.5 224.5,443.5 216.5,427.5 190.5,412.5 219.5,445.5 265.5,442.5 251.5,422.5 221.5,394.5 214.5,439.5 193.5,443.5 207.5,416.5 243.5,440.5 212.5,425.5 216.5,434.5 212.5,400.5 209.5,433.5 182.5,391.5 221.5,423.5 206.5,369.5 225.5,441.5 211.5,424.5 224.5,427.5 217.5,434.5 210.5,406.5 234.5,427.5 210.5,374.5 216.5,433.5 206.5,407.5 210.5,408.5 212.5,435.5 190.5,420.5 205.5,369.5 241.5,421.5 263.5,437.5 200.5,440.5 200.5,389.5 188.5,403.5 194.5,395.5 187.5,360.5 267.5,442.5 219.5,448.5 223.5,435.5 198.5,418.5 223.5,451.5 230.5,397.5 221.5,425.5 194.5,404.5 216.5,377.5 207.5,408.5 218.5,392.5 185.5,387.5 194.5,411.5 200.5,390.5 240.5,413.5 195.5,399.5 221.5,422.5 218.5,447.5 203.5,422.5 218.5,411.5 203.5,368.5 203.5,371.5 198.5,453.5 243.5,444.5 225.5,405.5 208.5,376.5 203.5,370.5 211.5,382.5 189.5,372.5 207.5,422.5 205.5,439.5 185.5,354.5 220.5,391.5 198.5,361.5 215.5,441.5 218.5,396.5 225.5,404.5 193.5,377.5 219.5,433.5 239.5,408.5 248.5,418.5 185.5,386.5 198.5,402.5 226.5,414.5 185.5,418.5 220.5,440.5 255.5,442.5 259.5,429.5 192.5,409.5 209.5,406.5 199.5,421.5 262.5,435.5 235.5,427.5 201.5,444.5 197.5,371.5 229.5,401.5 262.5,442.5 191.5,380.5 253.5,438.5 201.5,442.5 197.5,388.5 246.5,426.5 204.5,439.5 213.5,394.5 208.5,418.5 271.5,438.5 223.5,447.5 202.5,402.5 256.5,422.5 182.5,409.5 235.5,423.5 178.5,372.5 195.5,434.5 243.5,417.5 209.5,434.5 214.5,399.5 200.5,427.5 195.5,379.5 239.5,439.5 233.5,401.5 223.5,406.5 209.5,407.5 197.5,374.5 234.5,441.5 218.5,388.5 260.5,434.5 193.5,447.5 195.5,430.5 186.5,401.5 200.5,394.5 216.5,440.5 194.5,393.5 228.5,449.5 227.5,431.5 213.5,444.5 239.5,426.5 231.5,400.5 190.5,389.5 220.5,401.5 272.5,443.5 217.5,450.5 188.5,402.5 190.5,372.5 241.5,416.5 263.5,438.5 231.5,406.5 241.5,443.5 221.5,426.5 215.5,418.5 237.5,418.5 219.5,411.5 257.5,435.5 255.5,430.5 207.5,443.5 239.5,439.5 236.5,444.5 209.5,395.5 236.5,404.5 264.5,438.5 187.5,377.5 215.5,410.5 217.5,444.5 222.5,434.5 210.5,413.5 209.5,376.5 216.5,402.5 242.5,419.5 218.5,447.5 211.5,402.5 225.5,438.5 277.5,448.5 213.5,412.5 192.5,387.5 205.5,431.5 192.5,440.5 180.5,365.5 214.5,438.5 244.5,428.5 227.5,429.5 213.5,408.5 216.5,402.5 205.5,414.5 269.5,437.5 284.5,447.5 237.5,415.5 288.5,450.5 247.5,423.5 209.5,404.5 222.5,392.5 194.5,417.5 209.5,406.5 222.5,428.5 218.5,399.5 241.5,415.5 209.5,449.5 195.5,419.5 205.5,406.5 186.5,387.5 227.5,433.5 203.5,371.5 178.5,407.5 243.5,430.5 207.5,379.5 206.5,388.5 201.5,385.5 238.5,439.5 191.5,355.5 246.5,415.5 239.5,416.5 200.5,439.5 186.5,370.5 255.5,432.5 195.5,380.5 229.5,406.5 213.5,430.5 209.5,439.5 190.5,402.5 175.5,365.5 209.5,384.5 229.5,397.5 202.5,382.5 250.5,434.5 203.5,398.5 219.5,413.5 243.5,447.5 227.5,405.5 228.5,447.5 190.5,395.5 222.5,439.5 190.5,410.5 188.5,391.5 213.5,396.5 233.5,419.5 209.5,404.5 215.5,423.5 222.5,396.5 186.5,386.5 198.5,408.5 212.5,450.5 262.5,439.5 218.5,419.5 200.5,400.5 210.5,438.5 209.5,390.5 201.5,450.5 226.5,434.5 195.5,404.5 203.5,446.5 191.5,403.5 199.5,436.5 210.5,395.5 257.5,445.5 216.5,402.5 185.5,356.5 212.5,444.5 256.5,425.5 182.5,392.5 228.5,408.5 198.5,428.5 212.5,429.5 226.5,421.5 226.5,429.5 237.5,419.5 214.5,388.5 195.5,404.5 176.5,398.5 214.5,434.5 195.5,433.5 185.5,404.5 213.5,399.5 190.5,417.5 201.5,382.5 257.5,438.5 194.5,444.5 206.5,430.5 192.5,384.5 228.5,441.5 189.5,414.5 204.5,429.5 208.5,397.5 199.5,422.5 198.5,398.5 195.5,371.5 246.5,444.5 220.5,396.5 206.5,433.5 243.5,437.5 205.5,438.5 187.5,429.5 199.5,448.5 202.5,387.5 218.5,432.5 276.5,441.5 213.5,431.5 194.5,361.5 207.5,416.5 248.5,417.5 258.5,432.5 232.5,441.5 225.5,447.5 194.5,362.5 235.5,427.5 222.5,395.5 224.5,445.5 211.5,417.5 247.5,440.5 224.5,441.5 206.5,415.5 208.5,411.5 244.5,442.5 223.5,447.5 213.5,446.5 199.5,381.5 223.5,417.5 192.5,390.5 243.5,441.5 204.5,399.5 200.5,434.5 215.5,418.5 225.5,418.5 234.5,405.5 191.5,428.5 193.5,417.5 231.5,405.5 221.5,400.5 202.5,441.5 192.5,429.5 205.5,431.5 252.5,429.5 225.5,445.5 209.5,448.5 259.5,438.5 240.5,421.5 190.5,383.5 193.5,429.5 209.5,411.5 201.5,427.5 223.5,448.5 190.5,359.5 196.5,400.5 196.5,415.5 249.5,421.5 181.5,395.5 222.5,421.5 198.5,416.5 252.5,423.5 183.5,364.5 239.5,419.5 270.5,443.5 233.5,410.5 184.5,404.5 205.5,429.5 210.5,438.5 197.5,436.5 191.5,360.5 187.5,403.5 200.5,410.5 196.5,442.5 183.5,380.5 220.5,428.5 185.5,367.5 208.5,387.5 209.5,437.5 206.5,402.5 213.5,394.5 230.5,410.5 217.5,409.5 185.5,353.5 193.5,371.5 199.5,410.5 220.5,393.5 235.5,410.5 240.5,442.5 228.5,417.5 214.5,404.5 174.5,376.5 238.5,414.5 239.5,432.5 215.5,428.5 205.5,437.5 194.5,444.5 176.5,366.5 250.5,437.5 259.5,427.5 222.5,400.5 205.5,396.5 193.5,391.5 223.5,415.5 218.5,389.5 229.5,400.5 207.5,439.5 261.5,444.5 206.5,414.5 216.5,398.5 274.5,448.5 255.5,424.5 194.5,366.5 193.5,431.5 247.5,447.5 246.5,435.5 193.5,425.5 228.5,407.5 260.5,429.5 209.5,385.5 201.5,420.5 195.5,359.5 199.5,431.5 185.5,418.5 206.5,410.5 213.5,402.5 198.5,374.5 224.5,423.5 280.5,444.5 183.5,391.5 213.5,389.5 195.5,439.5 178.5,402.5 206.5,435.5 233.5,409.5 190.5,413.5 191.5,421.5 198.5,406.5 182.5,404.5 193.5,408.5 213.5,390.5 222.5,421.5 206.5,443.5 187.5,391.5 189.5,370.5 182.5,397.5 241.5,405.5 213.5,434.5 227.5,405.5 211.5,388.5 209.5,440.5 202.5,373.5 234.5,416.5 208.5,387.5 193.5,436.5 239.5,414.5 236.5,431.5 231.5,442.5 219.5,401.5 194.5,433.5 231.5,397.5 188.5,409.5 204.5,405.5 199.5,434.5 227.5,408.5 224.5,413.5 214.5,431.5 187.5,436.5 172.5,369.5 195.5,425.5 222.5,423.5 192.5,356.5 202.5,401.5 197.5,434.5 242.5,425.5 192.5,354.5 204.5,410.5 211.5,441.5 221.5,424.5 211.5,452.5 208.5,390.5 216.5,449.5 222.5,395.5 267.5,443.5 181.5,362.5 211.5,434.5 203.5,391.5 202.5,436.5 186.5,372.5 242.5,438.5 202.5,378.5 171.5,369.5 194.5,398.5 194.5,405.5 208.5,379.5 207.5,393.5 198.5,386.5 252.5,444.5 232.5,448.5 264.5,441.5 194.5,374.5" fill="none" stroke="none" marker-start="url(#mb)" marker-mid="url(#mb)" marker-end="url(#mb)"/>
<path d="M71.7 455.4 L89.2 451.1 L119.8 450 L149.5 450 L170.1 446.7 L171.9 439.7 L169.9 426.4 L160.7 427 L135.9 430.9 L111.2 433.9 L92.8 439.4 L78.7 450.7 L71.7 455.4Z" fill="#D95319"/>
<polyline points="155.5,450.5 149.5,446.5 145.5,447.5 71.5,455.5 103.5,450.5 170.5,437.5 108.5,450.5 146.5,448.5 84.5,436.5 145.5,440.5 153.5,437.5 186.5,451.5 142.5,439.5 145.5,438.5 98.5,438.5 169.5,439.5 117.5,442.5 183.5,447.5 156.5,452.5 116.5,450.5 154.5,430.5 120.5,433.5 83.5,450.5 143.5,439.5 91.5,445.5 154.5,431.5 123.5,435.5 136.5,451.5 131.5,436.5 137.5,437.5 193.5,426.5 118.5,441.5 144.5,438.5 168.5,439.5 93.5,437.5 102.5,438.5 158.5,431.5 107.5,439.5 95.5,446.5 141.5,437.5 53.5,463.5 127.5,441.5 167.5,434.5 139.5,435.5 158.5,444.5 134.5,449.5 187.5,433.5 189.5,442.5 174.5,433.5 143.5,432.5 172.5,440.5 158.5,456.5 146.5,436.5 93.5,436.5 164.5,449.5 170.5,444.5 153.5,444.5 157.5,442.5 152.5,438.5 88.5,448.5 115.5,441.5 129.5,440.5 153.5,445.5 71.5,446.5 158.5,431.5 69.5,456.5 161.5,456.5 185.5,449.5 106.5,450.5 158.5,429.5 82.5,455.5 171.5,434.5 139.5,442.5 60.5,461.5 131.5,446.5 124.5,440.5 126.5,439.5 151.5,450.5 177.5,413.5 151.5,429.5 126.5,449.5 130.5,439.5 86.5,449.5 151.5,442.5 132.5,457.5 67.5,455.5 128.5,450.5 155.5,450.5 156.5,448.5 93.5,445.5 140.5,436.5 192.5,444.5 186.5,430.5 145.5,440.5 132.5,447.5 152.5,433.5 96.5,434.5 162.5,444.5 107.5,448.5 73.5,452.5 108.5,465.5 151.5,445.5 109.5,446.5 186.5,445.5 151.5,435.5 200.5,430.5 109.5,447.5 158.5,428.5 158.5,440.5 81.5,444.5 97.5,447.5 164.5,448.5 153.5,434.5 141.5,447.5 118.5,454.5 129.5,434.5 174.5,454.5 114.5,445.5 122.5,434.5 71.5,453.5 171.5,450.5 196.5,431.5 143.5,456.5 168.5,428.5 108.5,449.5 166.5,445.5 151.5,430.5 90.5,443.5 118.5,442.5 163.5,447.5 98.5,434.5 165.5,444.5 105.5,440.5 130.5,435.5 109.5,449.5 167.5,438.5 191.5,429.5 159.5,435.5 145.5,429.5 116.5,444.5 111.5,438.5 76.5,446.5 96.5,447.5 113.5,449.5 151.5,426.5 167.5,438.5 107.5,443.5 142.5,443.5 84.5,443.5 191.5,427.5 162.5,433.5 153.5,434.5 143.5,429.5 87.5,445.5 81.5,446.5 170.5,434.5 151.5,446.5 141.5,431.5 154.5,440.5 195.5,428.5 197.5,433.5 87.5,446.5 92.5,439.5 138.5,443.5 184.5,444.5 158.5,426.5 163.5,439.5 110.5,453.5 87.5,446.5 91.5,448.5 138.5,427.5 131.5,429.5 157.5,453.5 112.5,432.5 105.5,438.5 64.5,455.5 149.5,440.5 98.5,437.5 98.5,441.5 116.5,433.5 124.5,440.5 156.5,433.5 149.5,427.5 85.5,449.5 101.5,447.5 140.5,460.5 84.5,453.5 106.5,434.5 167.5,442.5 136.5,452.5 156.5,445.5 190.5,446.5 200.5,435.5 176.5,437.5 158.5,441.5 141.5,448.5 171.5,428.5 133.5,441.5 139.5,452.5 115.5,430.5 103.5,441.5 155.5,429.5 103.5,449.5 117.5,432.5 142.5,442.5 95.5,438.5 123.5,452.5 156.5,433.5 155.5,437.5 187.5,423.5 118.5,450.5 142.5,441.5 93.5,446.5 172.5,421.5 98.5,443.5 121.5,446.5 140.5,446.5 134.5,437.5 125.5,430.5 95.5,444.5 173.5,424.5 157.5,449.5 165.5,436.5 62.5,462.5 72.5,450.5 186.5,446.5 149.5,426.5 77.5,458.5 91.5,441.5 157.5,423.5 157.5,434.5 143.5,433.5 122.5,441.5 103.5,437.5 106.5,447.5 151.5,442.5 174.5,449.5 128.5,435.5 168.5,450.5 186.5,449.5 160.5,422.5 155.5,446.5 163.5,454.5 185.5,444.5 191.5,436.5 141.5,451.5 166.5,435.5 151.5,433.5 138.5,430.5 184.5,428.5 79.5,455.5 166.5,438.5 126.5,439.5 109.5,444.5 68.5,460.5 61.5,459.5 131.5,443.5 147.5,438.5 98.5,431.5 125.5,439.5 182.5,441.5 59.5,457.5 158.5,435.5 118.5,447.5 106.5,438.5 196.5,436.5 116.5,443.5 155.5,445.5 165.5,426.5 134.5,445.5 164.5,433.5 102.5,434.5 93.5,446.5 134.5,428.5 120.5,437.5 167.5,446.5 138.5,425.5 154.5,443.5 104.5,447.5 126.5,443.5 123.5,444.5 135.5,450.5 62.5,455.5 122.5,441.5 172.5,429.5 189.5,429.5 97.5,451.5 186.5,444.5 168.5,440.5 135.5,455.5 167.5,447.5 160.5,439.5 75.5,449.5 156.5,430.5 115.5,434.5 148.5,445.5 140.5,449.5 86.5,436.5 154.5,443.5 106.5,442.5 158.5,437.5 104.5,448.5 88.5,447.5 192.5,449.5 96.5,436.5 144.5,446.5 115.5,444.5 148.5,446.5 176.5,423.5 139.5,436.5 167.5,432.5 113.5,434.5 100.5,440.5 86.5,443.5 170.5,427.5 79.5,454.5 164.5,450.5 98.5,431.5 147.5,403.5 131.5,437.5 144.5,439.5 119.5,438.5 183.5,451.5 146.5,437.5 165.5,453.5 118.5,437.5 147.5,442.5 139.5,446.5 123.5,442.5 97.5,441.5 175.5,430.5 90.5,445.5 145.5,443.5 159.5,445.5 148.5,453.5 137.5,431.5 121.5,447.5 117.5,443.5 125.5,449.5 151.5,446.5 119.5,452.5 159.5,420.5 93.5,446.5 82.5,440.5 133.5,453.5 191.5,431.5 160.5,427.5 87.5,453.5 160.5,438.5 93.5,451.5 201.5,425.5 185.5,438.5 139.5,450.5 142.5,444.5 157.5,457.5 108.5,431.5 103.5,436.5 147.5,455.5 182.5,453.5 94.5,447.5 165.5,451.5 88.5,436.5 140.5,443.5 164.5,442.5 95.5,450.5 150.5,427.5 149.5,453.5 153.5,432.5 78.5,451.5 83.5,441.5 98.5,450.5 149.5,437.5 152.5,450.5 142.5,434.5 184.5,436.5 132.5,449.5 155.5,441.5 172.5,430.5 82.5,445.5 160.5,427.5 93.5,437.5 66.5,448.5 94.5,452.5 167.5,442.5 107.5,443.5 122.5,432.5 200.5,438.5 142.5,433.5 120.5,450.5 189.5,443.5 129.5,442.5 118.5,435.5 196.5,451.5 72.5,457.5 76.5,457.5 185.5,444.5 115.5,440.5 159.5,441.5 165.5,448.5 175.5,425.5 134.5,454.5 150.5,438.5 113.5,440.5 165.5,453.5 118.5,439.5 162.5,431.5 185.5,431.5 161.5,440.5 103.5,454.5 109.5,441.5 159.5,457.5 120.5,441.5 134.5,435.5 117.5,446.5 138.5,443.5 126.5,444.5 144.5,452.5 152.5,439.5 188.5,438.5 129.5,432.5 130.5,425.5 174.5,448.5 97.5,441.5 171.5,420.5 187.5,442.5 108.5,438.5 140.5,450.5 117.5,444.5 122.5,445.5 157.5,435.5 69.5,456.5 169.5,436.5 157.5,432.5 127.5,427.5 168.5,433.5 143.5,437.5 179.5,438.5 152.5,433.5 113.5,443.5 175.5,426.5 135.5,428.5 180.5,442.5 147.5,430.5 83.5,443.5 73.5,458.5 181.5,443.5 89.5,453.5 168.5,435.5 196.5,430.5 140.5,449.5 88.5,439.5 80.5,456.5 131.5,444.5 153.5,425.5 156.5,426.5 160.5,457.5 107.5,449.5 89.5,443.5 164.5,421.5 76.5,452.5 82.5,450.5 141.5,438.5 120.5,446.5 136.5,451.5 131.5,448.5 156.5,441.5 176.5,451.5 138.5,431.5 148.5,429.5 145.5,433.5 148.5,441.5 189.5,424.5 135.5,445.5 117.5,454.5 168.5,428.5 193.5,443.5 141.5,436.5 69.5,450.5 146.5,433.5 174.5,450.5 130.5,430.5 152.5,426.5 114.5,449.5 145.5,454.5 184.5,428.5 172.5,446.5 136.5,429.5 151.5,433.5 53.5,465.5 138.5,448.5 106.5,448.5 179.5,446.5 125.5,432.5 64.5,459.5 116.5,432.5 135.5,448.5 194.5,450.5 97.5,443.5 94.5,444.5 207.5,425.5 136.5,433.5 184.5,432.5 76.5,451.5 149.5,436.5 145.5,449.5 139.5,438.5 180.5,436.5 82.5,449.5 81.5,440.5 122.5,448.5 181.5,433.5 76.5,453.5 122.5,446.5 53.5,464.5 140.5,441.5 155.5,446.5 169.5,433.5 176.5,444.5 118.5,439.5 190.5,434.5 131.5,439.5 112.5,446.5 107.5,445.5 80.5,437.5 90.5,438.5 131.5,449.5 101.5,438.5 161.5,459.5 48.5,469.5 176.5,450.5 118.5,432.5 110.5,432.5 187.5,428.5 136.5,437.5 94.5,440.5 104.5,435.5 156.5,447.5 149.5,434.5 103.5,448.5 59.5,458.5 165.5,438.5 147.5,450.5 125.5,448.5 110.5,431.5 189.5,441.5 156.5,442.5 152.5,447.5 90.5,447.5 158.5,430.5 189.5,448.5 58.5,463.5 132.5,439.5 118.5,434.5 182.5,426.5 188.5,427.5 168.5,439.5 160.5,449.5 113.5,432.5 77.5,455.5 149.5,439.5 158.5,432.5 63.5,460.5 138.5,436.5 157.5,400.5 141.5,441.5 79.5,441.5 159.5,428.5 164.5,451.5 167.5,439.5 161.5,452.5 193.5,428.5 143.5,425.5 92.5,450.5 91.5,439.5 103.5,455.5 68.5,460.5 136.5,449.5 163.5,434.5 149.5,442.5 94.5,437.5 138.5,436.5 104.5,453.5 152.5,434.5 183.5,437.5 125.5,439.5 118.5,438.5 164.5,458.5 104.5,429.5 140.5,425.5 141.5,431.5 158.5,440.5 145.5,449.5 131.5,437.5 163.5,430.5 132.5,446.5 140.5,433.5 145.5,440.5 165.5,443.5 125.5,446.5 167.5,433.5 100.5,453.5 193.5,437.5 130.5,436.5 98.5,449.5 178.5,445.5 162.5,439.5 130.5,451.5 146.5,450.5 167.5,440.5 91.5,444.5 160.5,437.5 187.5,423.5 180.5,429.5 175.5,425.5 165.5,428.5 146.5,453.5 169.5,436.5 133.5,442.5 155.5,455.5 131.5,453.5 159.5,433.5 124.5,436.5 88.5,442.5 119.5,431.5 104.5,457.5 140.5,443.5 151.5,435.5 144.5,426.5 182.5,450.5 129.5,443.5 130.5,438.5 78.5,446.5 98.5,450.5 172.5,427.5 122.5,433.5 111.5,447.5 164.5,443.5 161.5,447.5 114.5,445.5 73.5,448.5 130.5,436.5 176.5,431.5 112.5,445.5 170.5,436.5 109.5,436.5 183.5,444.5 103.5,451.5 88.5,443.5 102.5,439.5 98.5,424.5 147.5,448.5 121.5,446.5 168.5,428.5 141.5,431.5 156.5,423.5 146.5,451.5 102.5,440.5 79.5,443.5 142.5,434.5 97.5,437.5 91.5,438.5 194.5,423.5 160.5,441.5 152.5,453.5 104.5,435.5 125.5,440.5 125.5,450.5 150.5,454.5 144.5,451.5 127.5,450.5 67.5,459.5 118.5,452.5 118.5,444.5 133.5,448.5 109.5,439.5 138.5,442.5 107.5,462.5 199.5,425.5 123.5,441.5 156.5,435.5 189.5,431.5 170.5,448.5 105.5,434.5 173.5,436.5 168.5,435.5 77.5,452.5 130.5,451.5 68.5,452.5 181.5,443.5 94.5,441.5 174.5,444.5 111.5,439.5 99.5,446.5 98.5,443.5 164.5,429.5 134.5,435.5 197.5,441.5 164.5,427.5 128.5,430.5 121.5,440.5 161.5,432.5 95.5,454.5 104.5,450.5 151.5,426.5 136.5,430.5 96.5,441.5 102.5,452.5 154.5,439.5 183.5,449.5 177.5,434.5 94.5,435.5 114.5,433.5 106.5,446.5 99.5,447.5 157.5,448.5 86.5,452.5 80.5,444.5 102.5,447.5 155.5,447.5 80.5,454.5 107.5,433.5 125.5,444.5 84.5,448.5 83.5,450.5 128.5,444.5 162.5,429.5 88.5,454.5 109.5,433.5 194.5,429.5 190.5,433.5 123.5,436.5 161.5,422.5 80.5,442.5 156.5,432.5 121.5,436.5 157.5,450.5 166.5,430.5 179.5,442.5 101.5,435.5 189.5,440.5 58.5,463.5 122.5,433.5 114.5,446.5 126.5,445.5 44.5,469.5 101.5,453.5 116.5,432.5 120.5,448.5 109.5,451.5 93.5,441.5 164.5,448.5 135.5,433.5 68.5,459.5 159.5,431.5 194.5,436.5 98.5,437.5 148.5,439.5 108.5,449.5 71.5,447.5 122.5,435.5 88.5,446.5 132.5,452.5 102.5,449.5 140.5,443.5 92.5,450.5 200.5,435.5 151.5,439.5 104.5,456.5 78.5,454.5 110.5,443.5 161.5,447.5 175.5,444.5 150.5,451.5 138.5,435.5 111.5,438.5 103.5,451.5 133.5,438.5 184.5,429.5 157.5,442.5 99.5,445.5 137.5,442.5 111.5,433.5 126.5,434.5 169.5,431.5 150.5,438.5 195.5,429.5 163.5,437.5 143.5,435.5 187.5,427.5 165.5,447.5 139.5,433.5 179.5,438.5 124.5,429.5 113.5,434.5 88.5,441.5 124.5,430.5 139.5,448.5 146.5,444.5 121.5,426.5 152.5,441.5 131.5,447.5 95.5,443.5 100.5,444.5 135.5,448.5 123.5,434.5 186.5,445.5 144.5,429.5 165.5,438.5 185.5,449.5 99.5,436.5 170.5,433.5 138.5,438.5 163.5,428.5 126.5,438.5 79.5,457.5 126.5,439.5 139.5,426.5 122.5,444.5 137.5,448.5 145.5,441.5 163.5,439.5 120.5,436.5 183.5,451.5 125.5,430.5 111.5,449.5 94.5,434.5 123.5,442.5 157.5,444.5 149.5,452.5 105.5,443.5 157.5,429.5 160.5,446.5 156.5,428.5 114.5,450.5 150.5,444.5 110.5,437.5 166.5,447.5 152.5,449.5 112.5,437.5 124.5,455.5 101.5,438.5 126.5,449.5 127.5,425.5 119.5,440.5 174.5,435.5 167.5,424.5 189.5,435.5 140.5,452.5 134.5,432.5 149.5,441.5 131.5,437.5 162.5,432.5 72.5,455.5 190.5,443.5 156.5,440.5 137.5,436.5 164.5,441.5 142.5,454.5 153.5,423.5 94.5,432.5 131.5,433.5 129.5,428.5 135.5,446.5 170.5,446.5 87.5,451.5 162.5,442.5 176.5,452.5 59.5,461.5 121.5,439.5 91.5,436.5 80.5,445.5 168.5,436.5 123.5,449.5 135.5,446.5 116.5,442.5 159.5,430.5 192.5,422.5 143.5,424.5 129.5,450.5 82.5,451.5 115.5,438.5 168.5,443.5 163.5,414.5 136.5,439.5 117.5,435.5 194.5,425.5 172.5,452.5 168.5,451.5 162.5,426.5 122.5,449.5 161.5,447.5 154.5,449.5 153.5,441.5 130.5,449.5 177.5,421.5 98.5,456.5 168.5,425.5 93.5,449.5 54.5,460.5 84.5,443.5 173.5,432.5 81.5,440.5 109.5,450.5 72.5,459.5 66.5,454.5 102.5,444.5 154.5,428.5 130.5,438.5 157.5,441.5 164.5,428.5 187.5,435.5 128.5,433.5 140.5,426.5 125.5,431.5 148.5,452.5 76.5,453.5 170.5,424.5 86.5,438.5 127.5,429.5 108.5,434.5 94.5,440.5 176.5,429.5 166.5,436.5 139.5,433.5 119.5,444.5 105.5,447.5 122.5,449.5 90.5,440.5 118.5,435.5 176.5,426.5 169.5,441.5 166.5,437.5 140.5,433.5 96.5,451.5 199.5,431.5 150.5,448.5 169.5,429.5 126.5,444.5 132.5,448.5 144.5,435.5 164.5,442.5 159.5,448.5 147.5,439.5 131.5,437.5 158.5,439.5 77.5,449.5 161.5,432.5 146.5,458.5 172.5,439.5 120.5,437.5 148.5,429.5 125.5,411.5 127.5,449.5 121.5,450.5 119.5,450.5 136.5,455.5 128.5,438.5 150.5,445.5 123.5,443.5 191.5,441.5 183.5,436.5 160.5,443.5 172.5,427.5 170.5,433.5 193.5,423.5 97.5,445.5 129.5,438.5 153.5,454.5 92.5,443.5 104.5,442.5 110.5,453.5 117.5,433.5 170.5,440.5 146.5,433.5 93.5,448.5 75.5,446.5 121.5,421.5 149.5,435.5 162.5,456.5 96.5,446.5 85.5,436.5 132.5,443.5 116.5,441.5 129.5,449.5 97.5,433.5 105.5,441.5 110.5,439.5 115.5,436.5 188.5,442.5 158.5,442.5 191.5,411.5 89.5,436.5 126.5,434.5 143.5,431.5 117.5,441.5 157.5,440.5 200.5,432.5 110.5,436.5 194.5,438.5 182.5,444.5 152.5,448.5 82.5,452.5 144.5,446.5 117.5,434.5 181.5,433.5 145.5,451.5 176.5,429.5 152.5,447.5 160.5,441.5 190.5,425.5 143.5,438.5 76.5,449.5 144.5,440.5 141.5,437.5 111.5,448.5 86.5,450.5 103.5,432.5 150.5,437.5 126.5,447.5 179.5,451.5 162.5,430.5 151.5,451.5 168.5,430.5 164.5,434.5 181.5,446.5 146.5,446.5 130.5,438.5 149.5,438.5 184.5,444.5 88.5,441.5 90.5,437.5 156.5,429.5 132.5,433.5 168.5,443.5 188.5,443.5 144.5,457.5 150.5,425.5 160.5,444.5 119.5,439.5 88.5,452.5 168.5,435.5 191.5,437.5 98.5,443.5 183.5,429.5 182.5,449.5 162.5,442.5 168.5,440.5 66.5,457.5 155.5,437.5 117.5,437.5 150.5,448.5 114.5,449.5 143.5,442.5 174.5,438.5 212.5,437.5 114.5,441.5 116.5,444.5 103.5,448.5 166.5,433.5 82.5,452.5 112.5,435.5 118.5,447.5 150.5,442.5 98.5,446.5 136.5,449.5 101.5,441.5 182.5,446.5 126.5,438.5 161.5,428.5 89.5,441.5 162.5,446.5 186.5,450.5 114.5,413.5 146.5,439.5 92.5,446.5 157.5,433.5 159.5,433.5 80.5,454.5 147.5,444.5 182.5,433.5 191.5,447.5 95.5,452.5 131.5,430.5 118.5,448.5 108.5,452.5 144.5,434.5 186.5,447.5 147.5,439.5 150.5,444.5 122.5,447.5 130.5,439.5 107.5,444.5 122.5,452.5 82.5,435.5 81.5,446.5 150.5,416.5 175.5,423.5 104.5,447.5 147.5,438.5 175.5,437.5 191.5,426.5 156.5,432.5 104.5,443.5 133.5,433.5 95.5,454.5 102.5,433.5 141.5,436.5 156.5,423.5 134.5,441.5 147.5,428.5 175.5,449.5 172.5,436.5 163.5,426.5 126.5,449.5 99.5,449.5 109.5,442.5 115.5,453.5 65.5,454.5 100.5,442.5" fill="none" stroke="none" marker-start="url(#mo)" marker-mid="url(#mo)" marker-end="url(#mo)"/>
<path d="M139.9 290.9 L137.6 305.1 L138.5 312.9 L137.2 325 L135.9 327.4 L129.4 335.4 L126 338.9 L126 345.7 L127 359 L127 370.2 L129.6 374.8 L133.2 375.7 L140.7 372.3 L147.2 364.9 L150 363.3 L152.6 363 L168.5 365.6 L170.4 363.7 L175.2 355.7 L175.8 349.7 L157 318.6 L149 303.7 L139.9 290.9Z" fill="#EDB120"/>
<polyline points="170.5,347.5 145.5,324.5 136.5,365.5 168.5,340.5 145.5,328.5 144.5,347.5 137.5,346.5 126.5,343.5 167.5,355.5 162.5,344.5 154.5,323.5 138.5,363.5 140.5,287.5 136.5,332.5 142.5,287.5 136.5,306.5 137.5,305.5 163.5,370.5 160.5,364.5 150.5,354.5 174.5,391.5 126.5,347.5 137.5,298.5 168.5,355.5 160.5,311.5 147.5,358.5 142.5,367.5 163.5,365.5 127.5,358.5 147.5,355.5 170.5,360.5 150.5,368.5 139.5,365.5 140.5,329.5 162.5,336.5 125.5,343.5 129.5,352.5 140.5,360.5 132.5,373.5 151.5,337.5 146.5,319.5 174.5,330.5 138.5,320.5 162.5,339.5 159.5,358.5 131.5,369.5 186.5,349.5 187.5,369.5 132.5,354.5 172.5,326.5 146.5,313.5 152.5,338.5 137.5,310.5 128.5,359.5 137.5,330.5 157.5,332.5 166.5,333.5 133.5,303.5 128.5,371.5 134.5,362.5 147.5,328.5 202.5,365.5 148.5,312.5 171.5,363.5 143.5,331.5 158.5,357.5 164.5,322.5 197.5,372.5 154.5,330.5 152.5,331.5 146.5,320.5 139.5,352.5 136.5,360.5 155.5,363.5 161.5,332.5 151.5,313.5 140.5,353.5 165.5,353.5 146.5,322.5 162.5,345.5 129.5,362.5 161.5,343.5 160.5,350.5 147.5,343.5 158.5,339.5 133.5,368.5 156.5,348.5 143.5,293.5 164.5,366.5 145.5,347.5 123.5,352.5 143.5,313.5 149.5,345.5 140.5,292.5 157.5,366.5 148.5,333.5 154.5,339.5 200.5,349.5 145.5,361.5 130.5,358.5 150.5,336.5 163.5,346.5 163.5,363.5 130.5,358.5 157.5,347.5 156.5,322.5 180.5,339.5 168.5,329.5 137.5,288.5 131.5,350.5 136.5,291.5 140.5,327.5 139.5,335.5 173.5,362.5 136.5,354.5 169.5,364.5 157.5,320.5 157.5,358.5 145.5,362.5 166.5,347.5 178.5,343.5 179.5,352.5 131.5,373.5 146.5,347.5 143.5,336.5 166.5,345.5 176.5,356.5 169.5,331.5 142.5,335.5 165.5,335.5 128.5,353.5 156.5,362.5 174.5,352.5 137.5,352.5 158.5,305.5 147.5,321.5 196.5,375.5 133.5,357.5 128.5,342.5 127.5,353.5 157.5,331.5 187.5,359.5 158.5,355.5 140.5,366.5 135.5,370.5 135.5,327.5 135.5,335.5 156.5,329.5 145.5,301.5 144.5,360.5 145.5,331.5 153.5,308.5 147.5,360.5 150.5,343.5 211.5,355.5 164.5,364.5 166.5,331.5 155.5,336.5 171.5,358.5 158.5,328.5 133.5,363.5 155.5,316.5 130.5,339.5 152.5,337.5 140.5,371.5 195.5,350.5 139.5,312.5 144.5,321.5 126.5,335.5 139.5,322.5 155.5,321.5 167.5,344.5 136.5,284.5 168.5,360.5 161.5,317.5 138.5,305.5 138.5,358.5 173.5,352.5 135.5,375.5 175.5,357.5 156.5,345.5 149.5,322.5 205.5,357.5 170.5,341.5 141.5,373.5 132.5,338.5 147.5,345.5 168.5,354.5 195.5,366.5 137.5,346.5 136.5,338.5 167.5,351.5 145.5,312.5 151.5,345.5 163.5,326.5 124.5,363.5 161.5,364.5 141.5,348.5 137.5,369.5 169.5,346.5 183.5,359.5 128.5,370.5 205.5,364.5 137.5,338.5 168.5,326.5 176.5,370.5 166.5,340.5 148.5,305.5 145.5,297.5 157.5,342.5 193.5,354.5 138.5,340.5 128.5,360.5 161.5,370.5 148.5,324.5 146.5,320.5 176.5,358.5 190.5,351.5 142.5,337.5 163.5,311.5 160.5,362.5 124.5,365.5 173.5,336.5 156.5,305.5 139.5,349.5 155.5,363.5 154.5,324.5 130.5,334.5 135.5,318.5 132.5,339.5 162.5,363.5 144.5,328.5 164.5,340.5 186.5,348.5 186.5,369.5 132.5,375.5 155.5,335.5 143.5,318.5 168.5,346.5 122.5,346.5 138.5,362.5 152.5,351.5 178.5,348.5 173.5,351.5 169.5,356.5 131.5,347.5 155.5,339.5 147.5,304.5 169.5,335.5 148.5,358.5 136.5,294.5 137.5,371.5 200.5,352.5 156.5,314.5 178.5,361.5 161.5,330.5 194.5,349.5 139.5,318.5 147.5,349.5 163.5,341.5 170.5,328.5 161.5,304.5 162.5,317.5 149.5,337.5 165.5,357.5 138.5,349.5 159.5,334.5 144.5,310.5 139.5,353.5 127.5,375.5 142.5,303.5 151.5,306.5 151.5,312.5 136.5,337.5 143.5,321.5 150.5,304.5 156.5,323.5 155.5,317.5 151.5,298.5 172.5,364.5 161.5,349.5 150.5,316.5 166.5,344.5 141.5,338.5 140.5,355.5 125.5,359.5 177.5,356.5 149.5,295.5 165.5,353.5 127.5,363.5 152.5,349.5 144.5,327.5 124.5,363.5 128.5,367.5 166.5,342.5 165.5,330.5 142.5,363.5 146.5,323.5 119.5,354.5 175.5,354.5 151.5,312.5 133.5,358.5 156.5,324.5 196.5,353.5 147.5,339.5 156.5,344.5 135.5,358.5 179.5,352.5 184.5,371.5 143.5,342.5 158.5,346.5 163.5,334.5 171.5,346.5 150.5,303.5 125.5,333.5 144.5,310.5 162.5,338.5 144.5,351.5 143.5,308.5 158.5,379.5 177.5,365.5 158.5,354.5 167.5,341.5 148.5,301.5 154.5,312.5 143.5,338.5 150.5,318.5 139.5,297.5 139.5,372.5 185.5,362.5 138.5,333.5 153.5,307.5 129.5,359.5 138.5,333.5 136.5,340.5 174.5,343.5 133.5,342.5 158.5,323.5 138.5,351.5 173.5,355.5 168.5,348.5 161.5,367.5 158.5,336.5 130.5,332.5 127.5,374.5 138.5,363.5 141.5,355.5 154.5,348.5 161.5,346.5 161.5,363.5 145.5,336.5 140.5,365.5 160.5,312.5 152.5,306.5 140.5,305.5 134.5,365.5 149.5,365.5 126.5,356.5 138.5,321.5 170.5,348.5 143.5,361.5 164.5,358.5 130.5,333.5 153.5,321.5 176.5,345.5 172.5,339.5 150.5,361.5 127.5,359.5 149.5,304.5 138.5,308.5 158.5,312.5 188.5,358.5 150.5,339.5 150.5,356.5 130.5,372.5 135.5,360.5 169.5,337.5 152.5,347.5 155.5,309.5 172.5,346.5 160.5,325.5 179.5,380.5 151.5,345.5 181.5,379.5 149.5,319.5 138.5,352.5 129.5,362.5 133.5,356.5 146.5,363.5 172.5,351.5 136.5,311.5 161.5,363.5 124.5,339.5 170.5,350.5 134.5,295.5 167.5,350.5 140.5,330.5 146.5,325.5 152.5,336.5 129.5,352.5 168.5,343.5 181.5,358.5 150.5,356.5 168.5,354.5 136.5,345.5 157.5,329.5 138.5,329.5 132.5,346.5 174.5,355.5 145.5,358.5 143.5,369.5 149.5,308.5 150.5,307.5 150.5,350.5 155.5,331.5 144.5,338.5 123.5,364.5 146.5,343.5 137.5,368.5 165.5,355.5 147.5,319.5 154.5,352.5 136.5,298.5 126.5,345.5 162.5,329.5 194.5,355.5 175.5,364.5 158.5,321.5 153.5,325.5 158.5,300.5 169.5,342.5 137.5,376.5 165.5,367.5 161.5,326.5 206.5,396.5 157.5,326.5 131.5,332.5 156.5,317.5 144.5,353.5 201.5,367.5 191.5,341.5 142.5,296.5 154.5,311.5 132.5,335.5 141.5,365.5 156.5,332.5 152.5,338.5 138.5,314.5 168.5,341.5 160.5,326.5 149.5,354.5 139.5,353.5 178.5,365.5 137.5,320.5 153.5,361.5 154.5,315.5 149.5,357.5 160.5,330.5 128.5,346.5 191.5,342.5 184.5,344.5 175.5,359.5 127.5,359.5 185.5,372.5 148.5,313.5 146.5,298.5 154.5,316.5 140.5,342.5 168.5,358.5 151.5,325.5 147.5,337.5 127.5,348.5 151.5,311.5 138.5,352.5 138.5,348.5 174.5,346.5 141.5,329.5 137.5,320.5 188.5,341.5 135.5,347.5 153.5,319.5 172.5,340.5 183.5,363.5 136.5,306.5 150.5,358.5 160.5,323.5 149.5,319.5 153.5,310.5 173.5,363.5 122.5,345.5 124.5,364.5 137.5,372.5 200.5,353.5 147.5,336.5 126.5,354.5 157.5,347.5 141.5,371.5 150.5,339.5 158.5,323.5 157.5,324.5 123.5,359.5 157.5,336.5 173.5,353.5 145.5,333.5 170.5,341.5 133.5,334.5 172.5,362.5 145.5,297.5 162.5,346.5 137.5,278.5 149.5,352.5 162.5,351.5 164.5,320.5 123.5,364.5 134.5,304.5 136.5,310.5 157.5,336.5 139.5,359.5 141.5,336.5 203.5,360.5 129.5,333.5 168.5,370.5 141.5,349.5 130.5,375.5 140.5,297.5 136.5,376.5 141.5,362.5 137.5,315.5 153.5,316.5 172.5,354.5 134.5,301.5 143.5,344.5 138.5,353.5 160.5,337.5 160.5,349.5 162.5,354.5 133.5,373.5 158.5,334.5 157.5,325.5 177.5,346.5 136.5,375.5 134.5,341.5 167.5,360.5 125.5,338.5 130.5,358.5 157.5,361.5 194.5,346.5 127.5,333.5 136.5,362.5 140.5,371.5 189.5,362.5 199.5,368.5 155.5,320.5 144.5,369.5 142.5,352.5 163.5,352.5 142.5,331.5 134.5,347.5 198.5,367.5 182.5,363.5 155.5,326.5 125.5,348.5 164.5,350.5 160.5,348.5 155.5,356.5 145.5,342.5 139.5,297.5 158.5,363.5 142.5,320.5 128.5,360.5 145.5,310.5 133.5,321.5 128.5,334.5 155.5,311.5 162.5,351.5 158.5,306.5 129.5,372.5 166.5,346.5 145.5,345.5 133.5,362.5 156.5,360.5 146.5,314.5 136.5,364.5 129.5,359.5 145.5,355.5 180.5,349.5 160.5,358.5 175.5,325.5 136.5,367.5 127.5,363.5 157.5,311.5 124.5,336.5 160.5,356.5 165.5,347.5 133.5,325.5 129.5,375.5 141.5,351.5 150.5,311.5 170.5,359.5 145.5,312.5 179.5,344.5 174.5,344.5 170.5,407.5 151.5,339.5 128.5,340.5 145.5,305.5 135.5,365.5 143.5,334.5 129.5,365.5 156.5,341.5 142.5,321.5 125.5,359.5 140.5,319.5 162.5,350.5 131.5,346.5 160.5,302.5 138.5,370.5 147.5,351.5 143.5,354.5 160.5,334.5 202.5,353.5 146.5,362.5 169.5,368.5 141.5,323.5 131.5,340.5 138.5,315.5 131.5,339.5 127.5,370.5 128.5,339.5 170.5,326.5 150.5,302.5 149.5,333.5 152.5,307.5 143.5,352.5 138.5,313.5 167.5,361.5 140.5,311.5 139.5,300.5 134.5,365.5 151.5,330.5 152.5,358.5 143.5,332.5 169.5,343.5 140.5,337.5 167.5,361.5 142.5,360.5 141.5,354.5 161.5,342.5 137.5,373.5 123.5,350.5 164.5,346.5 141.5,296.5 159.5,318.5 154.5,363.5 147.5,313.5 158.5,340.5 154.5,356.5 143.5,322.5 136.5,314.5 155.5,306.5 141.5,360.5 136.5,334.5 139.5,369.5 143.5,351.5 149.5,363.5 142.5,335.5 130.5,375.5 150.5,347.5 132.5,321.5 196.5,347.5 137.5,365.5 140.5,311.5 132.5,335.5 129.5,338.5 156.5,368.5 134.5,373.5 124.5,363.5 170.5,343.5 172.5,346.5 134.5,375.5 132.5,348.5 171.5,357.5 161.5,368.5 149.5,321.5 152.5,316.5 180.5,363.5 168.5,333.5 135.5,368.5 207.5,362.5 162.5,298.5 205.5,358.5 149.5,320.5 155.5,345.5 156.5,349.5 136.5,314.5 130.5,363.5 131.5,318.5 154.5,301.5 139.5,354.5 157.5,348.5 141.5,337.5 155.5,342.5 137.5,360.5 130.5,341.5 153.5,339.5 132.5,347.5 132.5,365.5 141.5,322.5 125.5,343.5 150.5,323.5 157.5,330.5 158.5,323.5 158.5,336.5 192.5,347.5 129.5,338.5 164.5,327.5 143.5,331.5 140.5,322.5 141.5,324.5 145.5,344.5 153.5,362.5 142.5,317.5 164.5,334.5 139.5,365.5 180.5,376.5 180.5,357.5 140.5,374.5 129.5,344.5 145.5,339.5 186.5,360.5 123.5,351.5 150.5,319.5 161.5,345.5 176.5,346.5 153.5,360.5 161.5,355.5 135.5,334.5 151.5,307.5 164.5,334.5 151.5,355.5 173.5,345.5 163.5,350.5 187.5,361.5 145.5,349.5 166.5,350.5 131.5,335.5 137.5,293.5 144.5,347.5 168.5,339.5 174.5,356.5 160.5,324.5 128.5,357.5 166.5,351.5 176.5,363.5 144.5,299.5 148.5,311.5 136.5,368.5 176.5,359.5 145.5,299.5 147.5,304.5 195.5,347.5 130.5,372.5 135.5,311.5 135.5,327.5 173.5,360.5 161.5,348.5 145.5,298.5 157.5,345.5 183.5,347.5 140.5,320.5 133.5,376.5 159.5,353.5 170.5,331.5 158.5,364.5 135.5,355.5 122.5,351.5 128.5,366.5 138.5,314.5 164.5,352.5 169.5,350.5 166.5,310.5 130.5,353.5 158.5,350.5 146.5,319.5 186.5,346.5 128.5,341.5 147.5,339.5 132.5,352.5 174.5,328.5 137.5,325.5 142.5,348.5 132.5,375.5 157.5,321.5 148.5,315.5 139.5,362.5 170.5,351.5 165.5,333.5 134.5,310.5 182.5,347.5 174.5,357.5 154.5,303.5 143.5,328.5 161.5,319.5 136.5,363.5 159.5,305.5 127.5,336.5 130.5,333.5 162.5,357.5 145.5,369.5 145.5,340.5 147.5,321.5 159.5,323.5 129.5,339.5 199.5,375.5 131.5,340.5 132.5,329.5 148.5,365.5 163.5,318.5 165.5,357.5 135.5,332.5 140.5,335.5 162.5,340.5 130.5,368.5 152.5,359.5 140.5,330.5 125.5,373.5 136.5,312.5 139.5,374.5 142.5,354.5 136.5,349.5 126.5,373.5 146.5,307.5 176.5,363.5 130.5,367.5 162.5,350.5 141.5,313.5 162.5,320.5 123.5,339.5 160.5,323.5 158.5,338.5 151.5,320.5 127.5,340.5 130.5,346.5 142.5,366.5 196.5,363.5 157.5,330.5 177.5,348.5 146.5,370.5 144.5,372.5 151.5,305.5 168.5,334.5 152.5,351.5 155.5,327.5 153.5,346.5 172.5,340.5 173.5,368.5 164.5,340.5 156.5,324.5 147.5,345.5 145.5,358.5 138.5,301.5 146.5,347.5 161.5,336.5 144.5,312.5 153.5,366.5" fill="none" stroke="none" marker-start="url(#my)" marker-mid="url(#my)" marker-end="url(#my)"/>
<path d="M21.6 275.6V501.2H306.9" fill="none" stroke="#1c1c1c" stroke-width="1.2"/>
<path d="M21.6 501.2v-3.2M69.1 501.2v-3.2M116.7 501.2v-3.2M164.2 501.2v-3.2M211.8 501.2v-3.2M259.3 501.2v-3.2M306.9 501.2v-3.2M21.6 501.2h3.2M21.6 456.1h3.2M21.6 411h3.2M21.6 365.8h3.2M21.6 320.7h3.2M21.6 275.6h3.2" stroke="#1c1c1c" stroke-width="1.2"/>
<text x="21.6" y="519.7" text-anchor="middle">-30</text>
<text x="69.1" y="519.7" text-anchor="middle">-20</text>
<text x="116.7" y="519.7" text-anchor="middle">-10</text>
<text x="164.2" y="519.7" text-anchor="middle">0</text>
<text x="211.8" y="519.7" text-anchor="middle">10</text>
<text x="259.3" y="519.7" text-anchor="middle">20</text>
<text x="306.9" y="519.7" text-anchor="middle">30</text>
<text x="16.1" y="507.8" text-anchor="end">-20</text>
<text x="16.1" y="462.7" text-anchor="end">-10</text>
<text x="16.1" y="417.6" text-anchor="end">0</text>
<text x="16.1" y="372.4" text-anchor="end">10</text>
<text x="16.1" y="327.3" text-anchor="end">20</text>
<text x="16.1" y="282.2" text-anchor="end">30</text>
<rect x="203.5" y="287.6" width="92" height="50.5" fill="#fff" stroke="#1c1c1c" stroke-width="1.3"/>
<circle cx="230.3" cy="297.4" r="3.35" fill="none" stroke="#0072BD" stroke-width="1.15"/>
<path d="M225.8 313.9h9M230.3 309.4v9" stroke="#D95319" stroke-width="1.15"/>
<path d="M225.7 329h9.2M230.3 324.4v9.2M227 325.7l6.6 6.6M227 332.3l6.6-6.6" stroke="#EDB120" stroke-width="1.15"/>
<text x="251.8" y="303" font-size="11">An-26</text>
<text x="251.8" y="318.6" font-size="11">C.C.S/II</text>
<text x="251.8" y="333.8" font-size="11">Yark-42</text>
<path d="M450.1 418.7 L448 425.9 L447 440.2 L447 459.8 L447.9 473.7 L451.1 480 L459.2 480 L473.3 475.3 L487.3 469.7 L496 461.9 L499.4 455 L495.2 446.5 L491.2 433.5 L489.3 422.4 L483.4 416.5 L471.7 413.1 L459.3 414.9 L450.1 418.7Z" fill="#0072BD"/>
<polyline points="444.5,468.5 458.5,482.5 474.5,435.5 482.5,451.5 492.5,449.5 487.5,433.5 458.5,468.5 466.5,443.5 461.5,436.5 448.5,408.5 466.5,442.5 476.5,469.5 459.5,454.5 478.5,455.5 469.5,410.5 469.5,427.5 447.5,422.5 457.5,465.5 453.5,478.5 453.5,418.5 487.5,417.5 491.5,466.5 443.5,450.5 450.5,454.5 455.5,439.5 486.5,462.5 451.5,477.5 442.5,463.5 495.5,473.5 475.5,426.5 471.5,427.5 517.5,449.5 451.5,440.5 467.5,414.5 468.5,401.5 476.5,439.5 478.5,410.5 469.5,444.5 479.5,452.5 454.5,465.5 465.5,458.5 469.5,419.5 482.5,414.5 467.5,477.5 469.5,441.5 475.5,406.5 509.5,445.5 460.5,426.5 478.5,397.5 458.5,478.5 448.5,422.5 447.5,469.5 483.5,451.5 446.5,425.5 481.5,424.5 465.5,478.5 485.5,431.5 456.5,400.5 510.5,445.5 475.5,420.5 459.5,466.5 453.5,434.5 466.5,386.5 493.5,422.5 455.5,481.5 444.5,452.5 480.5,467.5 499.5,463.5 468.5,427.5 457.5,452.5 446.5,477.5 468.5,417.5 488.5,427.5 493.5,426.5 466.5,410.5 466.5,459.5 481.5,459.5 514.5,449.5 484.5,443.5 462.5,423.5 454.5,429.5 480.5,463.5 448.5,417.5 447.5,403.5 480.5,453.5 463.5,407.5 458.5,438.5 479.5,421.5 461.5,439.5 442.5,458.5 486.5,448.5 493.5,443.5 489.5,455.5 467.5,404.5 498.5,423.5 449.5,425.5 456.5,451.5 461.5,462.5 481.5,435.5 479.5,438.5 458.5,456.5 490.5,443.5 479.5,423.5 461.5,363.5 494.5,436.5 491.5,470.5 494.5,471.5 454.5,390.5 495.5,459.5 463.5,439.5 458.5,420.5 445.5,417.5 492.5,442.5 487.5,385.5 461.5,476.5 468.5,440.5 472.5,429.5 487.5,420.5 474.5,467.5 470.5,420.5 451.5,443.5 486.5,443.5 460.5,463.5 473.5,408.5 457.5,469.5 455.5,434.5 443.5,458.5 507.5,444.5 468.5,476.5 463.5,449.5 487.5,469.5 483.5,422.5 448.5,455.5 484.5,389.5 466.5,445.5 509.5,459.5 485.5,419.5 461.5,428.5 454.5,409.5 472.5,393.5 451.5,442.5 451.5,465.5 487.5,424.5 439.5,455.5 474.5,460.5 457.5,452.5 517.5,448.5 480.5,458.5 449.5,485.5 441.5,449.5 461.5,450.5 468.5,431.5 444.5,430.5 491.5,429.5 490.5,436.5 465.5,462.5 460.5,457.5 511.5,441.5 466.5,421.5 454.5,462.5 451.5,468.5 501.5,458.5 470.5,387.5 471.5,463.5 474.5,427.5 500.5,459.5 482.5,437.5 493.5,432.5 466.5,452.5 476.5,459.5 462.5,436.5 497.5,419.5 458.5,436.5 461.5,464.5 493.5,457.5 505.5,443.5 452.5,454.5 450.5,484.5 489.5,418.5 457.5,427.5 491.5,476.5 491.5,406.5 493.5,457.5 446.5,427.5 492.5,429.5 490.5,436.5 488.5,468.5 464.5,393.5 446.5,475.5 442.5,455.5 510.5,454.5 483.5,440.5 449.5,419.5 448.5,432.5 453.5,463.5 446.5,464.5 517.5,449.5 465.5,451.5 461.5,448.5 464.5,412.5 496.5,424.5 481.5,444.5 489.5,470.5 450.5,466.5 449.5,472.5 468.5,413.5 485.5,425.5 456.5,472.5 474.5,464.5 475.5,471.5 454.5,444.5 451.5,453.5 461.5,420.5 498.5,429.5 464.5,411.5 475.5,447.5 449.5,421.5 481.5,455.5 445.5,404.5 452.5,477.5 483.5,432.5 475.5,456.5 500.5,445.5 455.5,466.5 449.5,459.5 459.5,481.5 487.5,465.5 453.5,469.5 493.5,467.5 454.5,394.5 496.5,458.5 464.5,457.5 513.5,442.5 454.5,399.5 447.5,473.5 451.5,396.5 494.5,426.5 445.5,431.5 458.5,432.5 489.5,419.5 450.5,469.5 466.5,421.5 494.5,414.5 499.5,443.5 481.5,388.5 497.5,439.5 478.5,456.5 441.5,412.5 458.5,468.5 458.5,442.5 475.5,449.5 463.5,409.5 514.5,453.5 463.5,470.5 455.5,437.5 454.5,426.5 493.5,422.5 450.5,497.5 464.5,406.5 497.5,424.5 448.5,476.5 488.5,464.5 515.5,449.5 466.5,394.5 477.5,394.5 442.5,416.5 454.5,426.5 464.5,421.5 495.5,424.5 480.5,471.5 466.5,419.5 473.5,434.5 463.5,442.5 464.5,415.5 459.5,404.5 471.5,444.5 466.5,469.5 477.5,476.5 470.5,409.5 466.5,463.5 471.5,433.5 442.5,408.5 502.5,443.5 495.5,451.5 472.5,447.5 469.5,447.5 479.5,419.5 486.5,423.5 483.5,418.5 473.5,456.5 455.5,404.5 456.5,427.5 447.5,470.5 485.5,435.5 451.5,448.5 466.5,452.5 454.5,476.5 483.5,430.5 492.5,431.5 492.5,452.5 467.5,467.5 502.5,439.5 445.5,426.5 439.5,452.5 516.5,449.5 476.5,467.5 487.5,480.5 468.5,426.5 475.5,414.5 451.5,410.5 511.5,456.5 456.5,394.5 454.5,414.5 501.5,422.5 454.5,425.5 460.5,464.5 460.5,436.5 472.5,431.5 450.5,435.5 482.5,457.5 499.5,449.5 480.5,425.5 463.5,449.5 514.5,452.5 463.5,438.5 456.5,478.5 469.5,459.5 464.5,438.5 450.5,429.5 454.5,465.5 467.5,453.5 471.5,391.5 448.5,438.5 482.5,453.5 450.5,392.5 444.5,443.5 457.5,480.5 451.5,457.5 481.5,472.5 485.5,463.5 465.5,436.5 458.5,425.5 496.5,443.5 461.5,409.5 515.5,450.5 478.5,414.5 471.5,435.5 491.5,480.5 494.5,435.5 461.5,427.5 454.5,423.5 471.5,451.5 491.5,437.5 453.5,437.5 479.5,425.5 494.5,461.5 486.5,419.5 486.5,438.5 466.5,467.5 482.5,462.5 484.5,466.5 497.5,416.5 511.5,451.5 444.5,419.5 485.5,457.5 487.5,460.5 458.5,453.5 493.5,429.5 470.5,473.5 472.5,470.5 474.5,433.5 464.5,469.5 448.5,392.5 458.5,414.5 451.5,424.5 453.5,428.5 487.5,426.5 469.5,415.5 487.5,465.5 490.5,444.5 451.5,465.5 459.5,416.5 478.5,468.5 471.5,422.5 476.5,429.5 439.5,440.5 447.5,421.5 481.5,444.5 460.5,414.5 453.5,473.5 469.5,409.5 465.5,476.5 452.5,416.5 482.5,447.5 459.5,450.5 448.5,428.5 518.5,444.5 479.5,447.5 471.5,471.5 457.5,422.5 502.5,450.5 443.5,472.5 466.5,440.5 480.5,448.5 452.5,459.5 463.5,455.5 452.5,446.5 480.5,408.5 484.5,412.5 482.5,427.5 454.5,456.5 466.5,458.5 472.5,425.5 495.5,431.5 474.5,423.5 500.5,426.5 481.5,420.5 494.5,453.5 466.5,477.5 462.5,461.5 510.5,445.5 498.5,455.5 505.5,456.5 460.5,386.5 484.5,432.5 474.5,440.5 465.5,420.5 452.5,428.5 459.5,473.5 467.5,384.5 452.5,496.5 468.5,446.5 504.5,438.5 449.5,484.5 512.5,454.5 444.5,462.5 487.5,402.5 497.5,422.5 463.5,433.5 470.5,439.5 445.5,466.5 477.5,431.5 468.5,419.5 490.5,435.5 467.5,414.5 496.5,433.5 463.5,465.5 473.5,434.5 467.5,473.5 468.5,473.5 479.5,441.5 484.5,462.5 475.5,434.5 444.5,461.5 466.5,461.5 483.5,451.5 458.5,454.5 489.5,470.5 448.5,401.5 491.5,423.5 442.5,474.5 489.5,443.5 481.5,394.5 484.5,430.5 486.5,475.5 454.5,417.5 475.5,420.5 452.5,452.5 499.5,458.5 480.5,452.5 460.5,410.5 458.5,442.5 456.5,476.5 452.5,460.5 487.5,431.5 458.5,454.5 467.5,426.5 490.5,459.5 490.5,421.5 455.5,493.5 452.5,423.5 449.5,406.5 460.5,396.5 487.5,387.5 455.5,411.5 456.5,432.5 460.5,472.5 475.5,478.5 480.5,412.5 459.5,427.5 441.5,448.5 462.5,413.5 447.5,428.5 500.5,455.5 495.5,452.5 451.5,425.5 464.5,407.5 489.5,422.5 442.5,466.5 463.5,463.5 492.5,445.5 490.5,440.5 474.5,443.5 467.5,434.5 505.5,442.5 490.5,431.5 448.5,446.5 458.5,387.5 472.5,452.5 457.5,408.5 514.5,451.5 498.5,439.5 453.5,435.5 469.5,414.5 449.5,472.5 459.5,435.5 456.5,430.5 503.5,462.5 478.5,436.5 445.5,432.5 480.5,437.5 454.5,456.5 470.5,478.5 443.5,404.5 440.5,416.5 450.5,474.5 485.5,426.5 453.5,395.5 501.5,465.5 478.5,420.5 486.5,439.5 448.5,471.5 472.5,436.5 483.5,412.5 488.5,444.5 472.5,437.5 469.5,441.5 511.5,455.5 443.5,424.5 489.5,467.5 447.5,438.5 497.5,453.5 496.5,452.5 492.5,427.5 473.5,455.5 489.5,457.5 506.5,450.5 486.5,435.5 450.5,472.5 447.5,409.5 469.5,423.5 461.5,427.5 467.5,480.5 498.5,455.5 463.5,442.5 487.5,436.5 503.5,453.5 510.5,452.5 493.5,419.5 471.5,417.5 490.5,436.5 471.5,466.5 480.5,409.5 453.5,426.5 453.5,430.5 479.5,424.5 481.5,412.5 441.5,457.5 457.5,428.5 453.5,416.5 450.5,440.5 448.5,447.5 455.5,469.5 465.5,376.5 455.5,466.5 446.5,463.5 460.5,474.5 440.5,437.5 456.5,432.5 472.5,416.5 457.5,459.5 449.5,428.5 485.5,411.5 448.5,474.5 467.5,395.5 453.5,410.5 477.5,418.5 454.5,417.5 467.5,455.5 470.5,459.5 468.5,448.5 497.5,435.5 474.5,390.5 464.5,464.5 463.5,418.5 453.5,457.5 460.5,382.5 458.5,413.5 470.5,419.5 498.5,435.5 508.5,448.5 475.5,458.5 470.5,449.5 454.5,440.5 458.5,433.5 491.5,401.5 442.5,429.5 480.5,466.5 447.5,466.5 461.5,420.5 477.5,447.5 472.5,453.5 506.5,450.5 446.5,427.5 476.5,436.5 491.5,441.5 466.5,463.5 505.5,438.5 465.5,431.5 451.5,462.5 492.5,435.5 459.5,472.5 453.5,463.5 452.5,420.5 485.5,434.5 486.5,430.5 493.5,465.5 469.5,437.5 493.5,434.5 452.5,425.5 466.5,406.5 518.5,454.5 478.5,405.5 473.5,475.5 497.5,440.5 458.5,419.5 504.5,450.5 447.5,447.5 476.5,465.5 488.5,446.5 482.5,440.5 490.5,402.5 503.5,439.5 474.5,478.5 454.5,480.5 499.5,454.5 503.5,447.5 483.5,423.5 456.5,413.5 477.5,432.5 490.5,429.5 452.5,420.5 465.5,457.5 471.5,408.5 462.5,425.5 455.5,455.5 454.5,441.5 452.5,442.5 461.5,407.5 445.5,397.5 492.5,432.5 450.5,426.5 455.5,443.5 452.5,393.5 451.5,449.5 505.5,461.5 472.5,423.5 456.5,470.5 486.5,425.5 447.5,473.5 475.5,444.5 472.5,456.5 493.5,425.5 459.5,437.5 447.5,407.5 455.5,409.5 460.5,477.5 463.5,431.5 469.5,435.5 452.5,412.5 452.5,442.5 450.5,464.5 489.5,460.5 451.5,458.5 460.5,482.5 458.5,427.5 468.5,446.5 496.5,449.5 445.5,451.5 448.5,446.5 459.5,467.5 447.5,468.5 472.5,404.5 461.5,440.5 457.5,410.5 448.5,436.5 496.5,461.5 483.5,472.5 485.5,467.5 484.5,428.5 508.5,464.5 441.5,406.5 466.5,436.5 446.5,477.5 472.5,463.5 463.5,484.5 448.5,410.5 472.5,437.5 450.5,435.5 479.5,417.5 475.5,431.5 446.5,460.5 490.5,467.5 479.5,458.5 487.5,473.5 453.5,406.5 437.5,434.5 510.5,463.5 480.5,432.5 444.5,412.5 475.5,463.5 474.5,430.5 451.5,484.5 488.5,388.5 499.5,454.5 441.5,462.5 460.5,409.5 460.5,464.5 457.5,468.5 457.5,412.5 447.5,430.5 451.5,450.5 446.5,421.5 470.5,418.5 470.5,471.5 490.5,453.5 459.5,421.5 453.5,428.5 490.5,393.5 475.5,390.5 453.5,469.5 489.5,408.5 464.5,467.5 469.5,469.5 439.5,453.5 477.5,449.5 454.5,475.5 488.5,437.5 468.5,438.5 477.5,412.5 499.5,463.5 466.5,477.5 453.5,409.5 476.5,436.5 471.5,479.5 482.5,450.5 507.5,450.5 479.5,441.5 456.5,424.5 479.5,420.5 460.5,420.5 462.5,429.5 452.5,427.5 456.5,471.5 457.5,453.5 467.5,453.5 472.5,416.5 470.5,453.5 495.5,464.5 469.5,457.5 487.5,434.5 467.5,460.5 464.5,407.5 502.5,446.5 514.5,445.5 493.5,423.5 465.5,427.5 484.5,466.5 450.5,472.5 449.5,462.5 460.5,444.5 445.5,430.5 451.5,415.5 472.5,472.5 469.5,451.5 466.5,434.5 463.5,412.5 492.5,447.5 469.5,433.5 485.5,456.5 465.5,443.5 474.5,417.5 480.5,445.5 459.5,455.5 489.5,434.5 487.5,425.5 487.5,433.5 499.5,440.5 478.5,441.5 447.5,412.5 473.5,444.5 464.5,453.5 490.5,425.5 477.5,462.5 456.5,439.5 478.5,467.5 502.5,455.5 481.5,421.5 474.5,413.5 493.5,441.5 456.5,410.5 486.5,460.5 476.5,473.5 464.5,464.5 443.5,406.5 478.5,448.5 449.5,429.5 443.5,393.5 495.5,433.5 446.5,398.5 487.5,450.5 482.5,470.5 503.5,459.5 482.5,452.5 466.5,415.5 474.5,475.5 494.5,436.5 483.5,447.5 449.5,430.5 457.5,477.5 488.5,466.5 453.5,478.5 471.5,427.5 455.5,460.5 447.5,425.5 467.5,411.5 491.5,449.5 488.5,457.5 475.5,421.5 502.5,450.5 494.5,467.5 512.5,453.5 473.5,463.5 472.5,469.5 486.5,460.5 496.5,443.5 449.5,463.5 470.5,453.5 452.5,465.5 458.5,406.5 468.5,432.5 478.5,418.5 489.5,391.5 510.5,454.5 482.5,446.5 456.5,408.5 441.5,435.5 463.5,468.5 500.5,430.5 488.5,427.5 458.5,440.5 482.5,463.5 481.5,450.5 469.5,467.5 491.5,462.5 490.5,471.5 469.5,383.5 475.5,469.5 495.5,449.5 453.5,427.5 440.5,447.5 482.5,422.5 486.5,459.5 488.5,433.5 472.5,470.5 457.5,407.5 466.5,419.5 450.5,423.5 445.5,445.5 462.5,427.5 459.5,422.5 474.5,417.5 463.5,396.5 447.5,445.5 486.5,463.5 467.5,401.5 480.5,394.5 457.5,447.5 480.5,474.5 454.5,429.5 515.5,461.5 459.5,414.5 456.5,477.5 494.5,446.5 442.5,394.5 472.5,434.5 462.5,414.5 452.5,475.5 442.5,438.5 460.5,466.5 452.5,485.5 466.5,475.5 495.5,418.5 467.5,472.5 472.5,462.5 464.5,404.5 448.5,430.5 454.5,472.5 508.5,445.5 475.5,446.5 445.5,457.5 487.5,431.5 472.5,425.5 453.5,485.5 457.5,417.5 472.5,413.5 451.5,441.5 457.5,435.5 501.5,440.5 491.5,458.5 496.5,429.5 456.5,426.5 513.5,456.5 450.5,451.5 464.5,437.5 458.5,441.5 491.5,428.5 461.5,419.5 448.5,393.5 456.5,469.5 452.5,465.5 487.5,422.5 470.5,438.5 462.5,478.5 500.5,454.5 507.5,444.5 486.5,432.5 478.5,474.5 480.5,447.5 461.5,456.5 469.5,453.5 515.5,443.5 468.5,420.5 511.5,452.5 486.5,436.5 473.5,476.5 453.5,459.5 468.5,398.5 480.5,443.5 477.5,431.5 517.5,444.5 468.5,427.5 488.5,402.5 446.5,443.5 447.5,491.5 461.5,428.5 476.5,417.5 455.5,444.5 460.5,453.5 475.5,444.5 454.5,448.5 469.5,455.5 448.5,478.5 492.5,437.5 455.5,470.5 445.5,424.5 506.5,463.5 502.5,443.5 479.5,442.5 443.5,398.5 475.5,448.5 441.5,428.5 506.5,450.5 478.5,406.5 502.5,442.5 460.5,461.5 478.5,460.5 444.5,417.5 450.5,459.5 443.5,437.5 448.5,454.5 468.5,419.5" fill="none" stroke="none" marker-start="url(#mb)" marker-mid="url(#mb)" marker-end="url(#mb)"/>
<path d="M533 401.1 L524.2 409.8 L519.9 420.2 L519.2 429.6 L524.3 433.4 L536.6 437 L547.7 437 L561.3 435 L573.7 431.4 L578.7 424.9 L585.6 413.7 L594.7 407 L607.1 402.7 L611.7 399.3 L611.6 398.8 L603.8 395.6 L589.9 391.7 L576.2 388.7 L557.5 388.7 L533 401.1Z" fill="#D95319"/>
<polyline points="547.5,402.5 576.5,418.5 545.5,410.5 536.5,406.5 541.5,409.5 578.5,410.5 573.5,399.5 537.5,431.5 538.5,416.5 559.5,419.5 547.5,420.5 560.5,426.5 530.5,423.5 569.5,429.5 565.5,402.5 583.5,402.5 568.5,394.5 572.5,396.5 575.5,420.5 532.5,409.5 558.5,453.5 536.5,435.5 619.5,396.5 529.5,430.5 530.5,434.5 548.5,412.5 558.5,428.5 569.5,434.5 558.5,402.5 531.5,403.5 568.5,397.5 573.5,403.5 580.5,381.5 553.5,434.5 607.5,407.5 601.5,403.5 571.5,414.5 556.5,424.5 581.5,418.5 529.5,403.5 578.5,412.5 566.5,398.5 576.5,400.5 571.5,423.5 563.5,434.5 553.5,404.5 578.5,388.5 562.5,432.5 553.5,436.5 522.5,413.5 556.5,399.5 553.5,431.5 574.5,428.5 518.5,412.5 556.5,425.5 598.5,393.5 555.5,420.5 597.5,399.5 552.5,437.5 580.5,410.5 554.5,389.5 583.5,402.5 542.5,404.5 561.5,424.5 586.5,405.5 512.5,445.5 568.5,386.5 578.5,414.5 568.5,387.5 566.5,385.5 573.5,415.5 606.5,396.5 596.5,407.5 569.5,422.5 563.5,383.5 587.5,427.5 601.5,401.5 551.5,420.5 579.5,413.5 579.5,390.5 609.5,399.5 607.5,393.5 575.5,400.5 577.5,428.5 572.5,428.5 563.5,401.5 542.5,415.5 523.5,440.5 571.5,394.5 549.5,437.5 566.5,400.5 576.5,418.5 555.5,402.5 543.5,395.5 527.5,406.5 573.5,390.5 601.5,395.5 535.5,438.5 571.5,393.5 597.5,410.5 532.5,401.5 571.5,388.5 546.5,417.5 553.5,450.5 528.5,410.5 585.5,392.5 571.5,432.5 605.5,403.5 607.5,400.5 589.5,391.5 546.5,428.5 558.5,422.5 544.5,443.5 609.5,398.5 595.5,391.5 558.5,393.5 535.5,434.5 557.5,420.5 597.5,405.5 550.5,431.5 523.5,441.5 537.5,409.5 532.5,427.5 588.5,428.5 544.5,419.5 568.5,436.5 585.5,412.5 518.5,442.5 558.5,410.5 601.5,400.5 576.5,396.5 568.5,384.5 568.5,423.5 555.5,417.5 526.5,433.5 588.5,408.5 547.5,451.5 584.5,407.5 545.5,397.5 572.5,405.5 588.5,423.5 574.5,411.5 525.5,419.5 577.5,417.5 549.5,445.5 575.5,399.5 584.5,408.5 533.5,438.5 585.5,404.5 550.5,405.5 512.5,448.5 527.5,432.5 557.5,434.5 534.5,401.5 575.5,415.5 527.5,423.5 533.5,401.5 546.5,416.5 548.5,403.5 528.5,423.5 528.5,406.5 521.5,417.5 573.5,419.5 566.5,391.5 563.5,406.5 606.5,396.5 560.5,403.5 563.5,415.5 557.5,426.5 519.5,417.5 537.5,440.5 537.5,412.5 534.5,432.5 550.5,409.5 599.5,396.5 554.5,409.5 571.5,425.5 574.5,401.5 523.5,443.5 538.5,411.5 531.5,428.5 575.5,398.5 572.5,389.5 567.5,387.5 585.5,396.5 590.5,393.5 522.5,411.5 599.5,392.5 604.5,395.5 580.5,419.5 585.5,411.5 552.5,426.5 550.5,388.5 523.5,409.5 536.5,433.5 592.5,404.5 554.5,412.5 550.5,405.5 560.5,395.5 555.5,401.5 537.5,414.5 589.5,402.5 567.5,419.5 562.5,444.5 558.5,438.5 542.5,395.5 564.5,430.5 558.5,399.5 580.5,399.5 605.5,401.5 546.5,423.5 560.5,432.5 566.5,447.5 576.5,416.5 532.5,428.5 533.5,433.5 524.5,409.5 564.5,404.5 555.5,437.5 542.5,433.5 545.5,434.5 566.5,391.5 538.5,414.5 532.5,408.5 570.5,395.5 549.5,441.5 527.5,425.5 535.5,431.5 532.5,410.5 520.5,428.5 538.5,437.5 556.5,378.5 521.5,415.5 574.5,404.5 587.5,411.5 563.5,408.5 591.5,396.5 573.5,410.5 572.5,417.5 553.5,400.5 537.5,408.5 577.5,390.5 527.5,405.5 528.5,433.5 555.5,424.5 573.5,417.5 535.5,427.5 536.5,425.5 556.5,394.5 522.5,415.5 521.5,376.5 541.5,426.5 532.5,431.5 579.5,403.5 567.5,411.5 537.5,434.5 597.5,405.5 519.5,426.5 566.5,424.5 544.5,429.5 530.5,400.5 524.5,421.5 594.5,397.5 570.5,427.5 569.5,416.5 546.5,421.5 588.5,415.5 570.5,410.5 581.5,424.5 578.5,394.5 551.5,423.5 612.5,397.5 593.5,392.5 559.5,437.5 588.5,397.5 591.5,409.5 520.5,423.5 602.5,396.5 588.5,407.5 554.5,394.5 541.5,415.5 576.5,408.5 539.5,401.5 503.5,431.5 568.5,399.5 590.5,411.5 537.5,434.5 558.5,391.5 567.5,382.5 575.5,424.5 580.5,412.5 597.5,408.5 532.5,401.5 558.5,402.5 581.5,416.5 581.5,391.5 533.5,426.5 536.5,431.5 545.5,428.5 534.5,421.5 578.5,415.5 518.5,426.5 574.5,394.5 531.5,439.5 529.5,434.5 574.5,414.5 578.5,415.5 598.5,403.5 596.5,401.5 589.5,409.5 550.5,411.5 547.5,396.5 545.5,409.5 560.5,434.5 560.5,432.5 574.5,408.5 536.5,436.5 549.5,383.5 559.5,401.5 562.5,390.5 563.5,451.5 548.5,423.5 558.5,403.5 521.5,413.5 552.5,417.5 578.5,417.5 575.5,439.5 516.5,437.5 562.5,443.5 570.5,428.5 570.5,387.5 565.5,433.5 613.5,399.5 540.5,409.5 512.5,428.5 558.5,393.5 566.5,423.5 537.5,413.5 567.5,372.5 516.5,397.5 581.5,411.5 592.5,401.5 565.5,435.5 558.5,418.5 573.5,406.5 590.5,422.5 568.5,409.5 594.5,389.5 550.5,432.5 582.5,392.5 543.5,396.5 546.5,414.5 531.5,415.5 536.5,432.5 572.5,400.5 543.5,422.5 580.5,398.5 534.5,416.5 592.5,400.5 566.5,408.5 576.5,390.5 582.5,436.5 580.5,404.5 568.5,415.5 550.5,425.5 598.5,395.5 551.5,421.5 564.5,396.5 542.5,434.5 540.5,393.5 593.5,396.5 532.5,401.5 535.5,425.5 563.5,421.5 523.5,418.5 527.5,418.5 537.5,431.5 567.5,406.5 565.5,404.5 522.5,420.5 522.5,452.5 610.5,402.5 594.5,395.5 563.5,396.5 562.5,410.5 584.5,386.5 568.5,372.5 545.5,399.5 534.5,404.5 517.5,428.5 605.5,402.5 530.5,420.5 561.5,419.5 530.5,429.5 544.5,401.5 550.5,412.5 528.5,417.5 541.5,400.5 569.5,429.5 564.5,408.5 525.5,404.5 516.5,430.5 540.5,413.5 531.5,434.5 575.5,417.5 525.5,394.5 526.5,421.5 576.5,407.5 550.5,418.5 572.5,425.5 580.5,403.5 536.5,446.5 533.5,404.5 576.5,412.5 579.5,398.5 540.5,415.5 579.5,407.5 541.5,406.5 591.5,394.5 532.5,399.5 578.5,411.5 577.5,421.5 531.5,398.5 539.5,420.5 610.5,396.5 553.5,412.5 548.5,451.5 527.5,416.5 593.5,396.5 541.5,434.5 521.5,417.5 553.5,393.5 559.5,394.5 522.5,430.5 570.5,403.5 581.5,400.5 607.5,394.5 575.5,411.5 555.5,413.5 559.5,414.5 558.5,392.5 568.5,403.5 563.5,397.5 531.5,418.5 563.5,435.5 524.5,416.5 610.5,395.5 545.5,425.5 533.5,411.5 528.5,429.5 553.5,414.5 556.5,407.5 551.5,399.5 579.5,406.5 517.5,409.5 545.5,451.5 560.5,436.5 558.5,419.5 510.5,408.5 572.5,423.5 571.5,401.5 574.5,386.5 545.5,425.5 546.5,392.5 607.5,404.5 548.5,429.5 544.5,439.5 549.5,404.5 550.5,422.5 551.5,435.5 599.5,413.5 518.5,418.5 537.5,426.5 541.5,443.5 567.5,436.5 565.5,433.5 521.5,413.5 545.5,422.5 548.5,413.5 545.5,429.5 556.5,404.5 558.5,396.5 595.5,403.5 533.5,416.5 578.5,418.5 522.5,449.5 547.5,404.5 567.5,401.5 575.5,402.5 569.5,374.5 529.5,418.5 529.5,418.5 506.5,429.5 508.5,395.5 569.5,421.5 561.5,418.5 522.5,418.5 553.5,391.5 546.5,403.5 554.5,415.5 561.5,421.5 528.5,437.5 552.5,390.5 571.5,408.5 566.5,412.5 555.5,396.5 533.5,410.5 555.5,412.5 562.5,438.5 580.5,382.5 573.5,421.5 566.5,372.5 577.5,397.5 593.5,399.5 561.5,439.5 543.5,422.5 550.5,431.5 562.5,418.5 600.5,394.5 538.5,412.5 541.5,396.5 522.5,407.5 526.5,411.5 584.5,407.5 537.5,419.5 550.5,414.5 530.5,430.5 556.5,419.5 598.5,406.5 566.5,418.5 537.5,423.5 545.5,410.5 549.5,403.5 581.5,418.5 560.5,392.5 521.5,413.5 558.5,401.5 570.5,392.5 569.5,363.5 540.5,396.5 563.5,391.5 556.5,397.5 600.5,395.5 518.5,419.5 593.5,398.5 579.5,392.5 555.5,408.5 566.5,392.5 546.5,402.5 564.5,398.5 562.5,405.5 543.5,440.5 557.5,420.5 570.5,433.5 572.5,419.5 550.5,425.5 534.5,436.5 560.5,394.5 551.5,438.5 545.5,404.5 560.5,439.5 568.5,425.5 557.5,392.5 521.5,410.5 587.5,406.5 582.5,403.5 563.5,442.5 552.5,414.5 540.5,439.5 560.5,432.5 536.5,413.5 530.5,428.5 564.5,430.5 548.5,428.5 569.5,376.5 569.5,410.5 518.5,431.5 566.5,392.5 529.5,410.5 537.5,426.5 577.5,421.5 562.5,388.5 539.5,401.5 513.5,431.5 568.5,430.5 564.5,428.5 552.5,431.5 605.5,406.5 578.5,425.5 569.5,427.5 600.5,398.5 527.5,419.5 562.5,416.5 551.5,427.5 570.5,392.5 576.5,409.5 564.5,403.5 533.5,400.5 525.5,398.5 524.5,427.5 574.5,407.5 569.5,421.5 549.5,427.5 516.5,426.5 538.5,403.5 538.5,417.5 549.5,438.5 543.5,397.5 547.5,424.5 528.5,404.5 536.5,399.5 576.5,416.5 539.5,442.5 523.5,412.5 559.5,437.5 585.5,398.5 586.5,398.5 562.5,386.5 578.5,394.5 568.5,420.5 577.5,404.5 585.5,397.5 550.5,387.5 561.5,398.5 593.5,400.5 561.5,402.5 540.5,417.5 589.5,393.5 599.5,414.5 571.5,386.5 601.5,394.5 572.5,404.5 540.5,419.5 588.5,409.5 585.5,432.5 582.5,412.5 608.5,394.5 526.5,425.5 616.5,398.5 590.5,408.5 521.5,415.5 574.5,398.5 544.5,417.5 524.5,440.5 548.5,431.5 533.5,414.5 562.5,424.5 549.5,401.5 541.5,423.5 599.5,399.5 543.5,409.5 569.5,420.5 597.5,397.5 538.5,423.5 543.5,399.5 587.5,390.5 526.5,433.5 550.5,434.5 589.5,386.5 509.5,435.5 553.5,435.5 565.5,425.5 528.5,434.5 530.5,402.5 576.5,387.5 560.5,403.5 553.5,405.5 609.5,403.5 540.5,404.5 532.5,441.5 573.5,420.5 543.5,399.5 596.5,406.5 523.5,420.5 589.5,409.5 583.5,397.5 567.5,384.5 586.5,412.5 586.5,404.5 592.5,408.5 581.5,404.5 566.5,419.5 572.5,431.5 532.5,401.5 555.5,401.5 565.5,411.5 527.5,406.5 545.5,422.5 598.5,406.5 557.5,433.5 517.5,444.5 526.5,417.5 589.5,396.5 550.5,428.5 533.5,401.5 546.5,396.5 585.5,400.5 588.5,412.5 566.5,411.5 515.5,408.5 576.5,432.5 531.5,404.5 587.5,400.5 577.5,395.5 551.5,431.5 567.5,412.5 573.5,403.5 588.5,404.5 573.5,402.5 553.5,439.5 575.5,430.5 569.5,396.5 589.5,421.5 529.5,407.5 547.5,404.5 561.5,375.5 561.5,409.5 521.5,424.5 535.5,412.5 555.5,446.5 602.5,394.5 574.5,393.5 604.5,403.5 543.5,409.5 530.5,432.5 527.5,406.5 567.5,427.5 531.5,400.5 623.5,398.5 543.5,420.5 577.5,391.5 554.5,404.5 547.5,413.5 547.5,427.5 514.5,429.5 557.5,402.5 546.5,408.5 550.5,390.5 543.5,404.5 569.5,393.5 564.5,426.5 558.5,436.5 579.5,395.5 559.5,423.5 573.5,417.5 593.5,395.5 568.5,391.5 515.5,427.5 540.5,425.5 590.5,412.5 544.5,398.5 552.5,396.5 533.5,404.5 571.5,397.5 571.5,407.5 576.5,419.5 534.5,417.5 569.5,420.5 552.5,423.5 566.5,397.5 537.5,419.5 534.5,416.5 598.5,402.5 549.5,424.5 558.5,413.5 546.5,408.5 584.5,394.5 573.5,420.5 556.5,391.5 531.5,410.5 532.5,436.5 533.5,422.5 548.5,434.5 574.5,407.5 590.5,405.5 579.5,402.5 533.5,434.5 528.5,415.5 578.5,408.5 533.5,435.5 555.5,425.5 551.5,413.5 554.5,399.5 561.5,406.5 588.5,391.5 576.5,392.5 588.5,410.5 523.5,418.5 582.5,398.5 556.5,446.5 534.5,428.5 547.5,416.5 551.5,395.5 560.5,387.5 588.5,392.5 598.5,399.5 534.5,422.5 564.5,389.5 550.5,412.5 529.5,425.5 568.5,422.5 554.5,396.5 561.5,422.5 575.5,409.5 520.5,411.5 590.5,397.5 538.5,425.5 547.5,394.5 593.5,412.5 547.5,418.5 560.5,397.5 551.5,409.5 566.5,418.5 576.5,419.5 557.5,393.5 529.5,411.5 527.5,402.5 524.5,397.5 550.5,432.5 543.5,437.5 542.5,444.5 569.5,427.5 599.5,401.5 573.5,433.5 514.5,401.5 520.5,401.5 555.5,406.5 565.5,391.5 508.5,439.5 570.5,409.5 512.5,444.5 542.5,424.5 515.5,439.5 520.5,409.5 581.5,416.5 534.5,426.5 546.5,438.5 526.5,411.5 563.5,402.5 546.5,391.5 583.5,415.5 541.5,398.5 556.5,388.5 522.5,434.5 593.5,396.5 552.5,437.5 580.5,424.5 564.5,390.5 572.5,427.5 591.5,386.5 510.5,435.5 582.5,403.5 524.5,412.5 592.5,405.5 535.5,400.5 554.5,388.5 555.5,416.5 577.5,431.5 548.5,408.5 574.5,408.5 527.5,417.5 586.5,388.5 570.5,397.5 561.5,434.5 518.5,421.5 526.5,410.5 550.5,412.5 517.5,415.5 577.5,386.5 559.5,412.5 539.5,408.5 586.5,398.5 533.5,407.5 562.5,413.5 547.5,388.5 569.5,403.5 544.5,407.5 574.5,410.5 533.5,432.5 590.5,413.5 550.5,433.5 553.5,433.5 522.5,424.5 543.5,394.5 535.5,415.5 586.5,393.5 531.5,428.5 539.5,426.5 529.5,405.5 594.5,395.5 598.5,396.5 594.5,401.5 550.5,415.5 538.5,399.5 578.5,421.5 573.5,417.5 585.5,391.5 569.5,421.5 607.5,406.5 560.5,414.5 557.5,410.5 552.5,419.5 550.5,437.5 577.5,430.5 538.5,427.5 598.5,410.5 551.5,423.5 525.5,408.5 612.5,397.5 578.5,407.5 548.5,391.5 533.5,417.5 532.5,416.5 561.5,416.5 568.5,418.5 599.5,406.5 578.5,432.5 559.5,412.5 546.5,424.5 577.5,419.5 574.5,426.5 561.5,402.5 565.5,390.5 567.5,390.5 571.5,418.5 606.5,396.5 581.5,413.5 581.5,428.5 545.5,422.5 532.5,416.5 545.5,409.5 551.5,387.5 603.5,395.5 579.5,393.5 551.5,426.5 529.5,416.5 571.5,429.5 571.5,389.5 571.5,390.5 547.5,403.5 542.5,411.5 528.5,422.5 528.5,403.5 549.5,427.5 535.5,429.5 574.5,405.5 566.5,424.5 520.5,438.5 581.5,398.5 575.5,427.5 573.5,424.5 578.5,411.5 529.5,422.5 558.5,399.5 554.5,398.5 556.5,428.5 532.5,433.5 552.5,396.5 540.5,436.5 583.5,416.5 583.5,413.5 552.5,407.5 539.5,396.5 591.5,406.5 537.5,432.5 573.5,412.5 521.5,425.5 548.5,398.5 593.5,409.5 593.5,399.5 560.5,398.5 522.5,423.5 564.5,426.5 570.5,413.5 516.5,447.5 573.5,443.5 545.5,447.5 569.5,432.5 575.5,388.5 581.5,391.5 590.5,396.5 565.5,384.5 541.5,397.5 583.5,400.5 564.5,392.5 516.5,425.5 594.5,409.5 542.5,432.5 564.5,435.5 525.5,403.5 548.5,387.5 609.5,403.5 543.5,413.5 564.5,400.5 535.5,423.5 583.5,388.5 588.5,395.5 564.5,394.5 521.5,423.5 574.5,399.5 547.5,424.5 586.5,409.5 519.5,401.5 541.5,429.5 518.5,421.5 552.5,397.5 533.5,433.5 577.5,392.5 561.5,427.5 550.5,404.5 594.5,400.5 615.5,398.5 575.5,408.5 554.5,392.5 562.5,414.5 531.5,417.5 553.5,387.5 552.5,390.5 582.5,388.5 559.5,396.5 574.5,402.5 592.5,400.5 583.5,392.5 530.5,403.5 559.5,434.5 527.5,408.5 526.5,424.5 569.5,425.5 580.5,411.5 559.5,389.5 557.5,384.5 562.5,435.5 590.5,411.5 565.5,407.5 540.5,397.5 530.5,412.5 513.5,426.5 568.5,388.5 587.5,397.5 548.5,415.5 551.5,400.5 595.5,390.5 533.5,436.5 583.5,418.5 579.5,389.5 572.5,433.5 615.5,399.5 557.5,382.5 543.5,403.5 583.5,395.5 529.5,437.5 578.5,416.5 544.5,408.5 568.5,426.5 537.5,442.5 549.5,421.5 563.5,398.5 575.5,412.5 530.5,428.5 600.5,402.5 557.5,413.5 518.5,420.5 557.5,418.5 562.5,401.5 555.5,388.5 608.5,400.5 536.5,427.5 578.5,417.5 597.5,402.5 547.5,412.5 549.5,424.5 540.5,410.5 598.5,401.5 564.5,405.5 530.5,416.5 576.5,410.5 555.5,435.5 566.5,432.5 587.5,394.5 552.5,404.5 534.5,400.5 559.5,426.5 577.5,411.5 521.5,414.5 564.5,403.5 551.5,400.5 576.5,407.5 541.5,389.5 531.5,418.5 577.5,413.5 550.5,435.5 531.5,399.5 538.5,404.5 558.5,411.5 533.5,429.5 536.5,424.5 532.5,404.5 545.5,433.5 527.5,416.5 571.5,424.5 543.5,407.5 532.5,417.5 530.5,408.5 560.5,381.5 530.5,411.5 525.5,412.5 615.5,399.5" fill="none" stroke="none" marker-start="url(#mo)" marker-mid="url(#mo)" marker-end="url(#mo)"/>
<path d="M451.2 284.9 L448.2 286.5 L447 292.5 L448 311.7 L447 325 L447.9 338.4 L449.7 343 L458.9 343 L475.1 338.1 L495.9 337.1 L500.2 334.5 L498.6 325.7 L484.7 313.9 L463.2 292.4 L455.3 287 L451.2 284.9Z" fill="#EDB120"/>
<polyline points="482.5,333.5 452.5,398.5 490.5,317.5 472.5,331.5 487.5,335.5 440.5,317.5 468.5,298.5 449.5,289.5 489.5,332.5 439.5,301.5 451.5,300.5 446.5,288.5 473.5,333.5 451.5,288.5 453.5,324.5 474.5,304.5 452.5,285.5 459.5,301.5 459.5,336.5 451.5,286.5 448.5,336.5 456.5,292.5 451.5,316.5 450.5,344.5 453.5,326.5 449.5,328.5 493.5,337.5 474.5,299.5 457.5,333.5 448.5,337.5 451.5,284.5 451.5,342.5 479.5,336.5 448.5,311.5 464.5,314.5 457.5,322.5 455.5,281.5 477.5,314.5 451.5,319.5 446.5,297.5 453.5,340.5 469.5,325.5 448.5,323.5 442.5,327.5 467.5,334.5 447.5,286.5 465.5,342.5 473.5,333.5 452.5,312.5 462.5,320.5 447.5,283.5 488.5,317.5 476.5,305.5 450.5,333.5 461.5,310.5 454.5,354.5 449.5,320.5 486.5,316.5 481.5,311.5 462.5,335.5 465.5,303.5 443.5,321.5 444.5,312.5 470.5,296.5 444.5,302.5 449.5,310.5 471.5,328.5 479.5,331.5 476.5,299.5 481.5,318.5 454.5,293.5 467.5,330.5 457.5,284.5 451.5,331.5 454.5,314.5 470.5,338.5 466.5,302.5 481.5,333.5 446.5,299.5 459.5,299.5 478.5,301.5 462.5,298.5 476.5,333.5 453.5,357.5 457.5,286.5 461.5,292.5 471.5,327.5 479.5,332.5 480.5,340.5 465.5,315.5 467.5,346.5 458.5,324.5 467.5,337.5 479.5,308.5 479.5,309.5 501.5,323.5 461.5,331.5 463.5,308.5 466.5,302.5 445.5,344.5 478.5,332.5 480.5,329.5 454.5,359.5 463.5,308.5 469.5,323.5 458.5,346.5 458.5,316.5 470.5,306.5 451.5,280.5 463.5,315.5 460.5,323.5 485.5,326.5 468.5,296.5 503.5,338.5 446.5,323.5 466.5,337.5 457.5,326.5 499.5,337.5 462.5,301.5 467.5,323.5 447.5,308.5 468.5,340.5 468.5,322.5 501.5,332.5 460.5,335.5 481.5,327.5 472.5,302.5 495.5,341.5 496.5,319.5 481.5,309.5 449.5,324.5 479.5,309.5 472.5,303.5 498.5,332.5 454.5,347.5 468.5,324.5 452.5,330.5 474.5,330.5 451.5,298.5 494.5,330.5 457.5,299.5 487.5,337.5 475.5,372.5 455.5,296.5 474.5,318.5 484.5,332.5 479.5,337.5 486.5,317.5 472.5,318.5 484.5,308.5 453.5,311.5 488.5,333.5 463.5,379.5 449.5,334.5 500.5,324.5 454.5,315.5 451.5,298.5 476.5,306.5 476.5,306.5 466.5,296.5 486.5,338.5 446.5,320.5 486.5,330.5 489.5,323.5 457.5,328.5 458.5,301.5 455.5,330.5 492.5,323.5 464.5,325.5 487.5,339.5 474.5,303.5 443.5,295.5 488.5,330.5 448.5,330.5 465.5,338.5 489.5,328.5 460.5,306.5 473.5,331.5 506.5,330.5 452.5,299.5 451.5,286.5 499.5,335.5 477.5,306.5 481.5,320.5 458.5,342.5 468.5,341.5 464.5,317.5 461.5,304.5 470.5,323.5 443.5,371.5 424.5,373.5 484.5,313.5 469.5,305.5 494.5,333.5 451.5,286.5 452.5,309.5 465.5,315.5 476.5,323.5 449.5,339.5 501.5,335.5 456.5,281.5 450.5,300.5 459.5,294.5 452.5,316.5 487.5,311.5 439.5,329.5 451.5,312.5 446.5,293.5 455.5,293.5 443.5,334.5 472.5,329.5 457.5,315.5 468.5,342.5 428.5,331.5 466.5,322.5 445.5,292.5 463.5,330.5 474.5,331.5 471.5,312.5 448.5,292.5 473.5,318.5 453.5,280.5 458.5,291.5 494.5,322.5 470.5,327.5 471.5,299.5 466.5,326.5 464.5,343.5 482.5,323.5 465.5,305.5 455.5,298.5 481.5,343.5 451.5,344.5 433.5,410.5 492.5,321.5 455.5,354.5 458.5,354.5 466.5,328.5 484.5,312.5 462.5,345.5 485.5,314.5 448.5,323.5 471.5,333.5 468.5,321.5 469.5,317.5 449.5,319.5 486.5,327.5 447.5,305.5 467.5,303.5 447.5,326.5 468.5,301.5 457.5,326.5 452.5,337.5 463.5,334.5 451.5,305.5 475.5,307.5 450.5,309.5 479.5,321.5 451.5,291.5 475.5,328.5 451.5,291.5 504.5,340.5 468.5,293.5 463.5,335.5 447.5,295.5 450.5,301.5 476.5,306.5 492.5,332.5 471.5,340.5 451.5,297.5 439.5,322.5 489.5,317.5 480.5,324.5 475.5,320.5 491.5,322.5 461.5,325.5 490.5,329.5 453.5,299.5 454.5,307.5 469.5,337.5 453.5,304.5 461.5,338.5 476.5,319.5 470.5,339.5 486.5,312.5 491.5,319.5 496.5,322.5 484.5,320.5 452.5,310.5 455.5,293.5 462.5,302.5 465.5,300.5 447.5,288.5 483.5,321.5 456.5,338.5 483.5,330.5 475.5,331.5 466.5,313.5 458.5,333.5 453.5,307.5 465.5,298.5 478.5,312.5 472.5,335.5 441.5,311.5 470.5,321.5 468.5,320.5 467.5,320.5 462.5,303.5 476.5,336.5 451.5,322.5 472.5,329.5 455.5,324.5 448.5,314.5 462.5,302.5 464.5,297.5 505.5,332.5 457.5,321.5 494.5,324.5 495.5,335.5 478.5,331.5 461.5,311.5 460.5,299.5 455.5,301.5 446.5,346.5 457.5,286.5 459.5,317.5 450.5,325.5 495.5,323.5 476.5,329.5 452.5,289.5 474.5,334.5 446.5,380.5 453.5,286.5 448.5,292.5 440.5,375.5 451.5,287.5 518.5,333.5 476.5,338.5 488.5,338.5 461.5,353.5 450.5,343.5 494.5,332.5 462.5,308.5 455.5,312.5 485.5,314.5 487.5,322.5 491.5,320.5 454.5,305.5 497.5,319.5 466.5,332.5 449.5,288.5 479.5,322.5 446.5,327.5 462.5,316.5 491.5,336.5 455.5,349.5 479.5,328.5 457.5,340.5 450.5,301.5 499.5,336.5 458.5,309.5 483.5,323.5 477.5,308.5 462.5,354.5 480.5,334.5 467.5,291.5 471.5,323.5 486.5,317.5 459.5,315.5 475.5,316.5 443.5,303.5 471.5,322.5 444.5,327.5 469.5,293.5 445.5,323.5 482.5,307.5 480.5,331.5 452.5,314.5 457.5,296.5 486.5,335.5 458.5,332.5 459.5,296.5 463.5,343.5 468.5,347.5 444.5,296.5 525.5,359.5 454.5,306.5 492.5,326.5 456.5,315.5 449.5,296.5 447.5,295.5 496.5,329.5 474.5,315.5 466.5,307.5 458.5,303.5 452.5,302.5 463.5,341.5 474.5,301.5 450.5,328.5 463.5,291.5 466.5,294.5 496.5,331.5 466.5,315.5 486.5,317.5 470.5,298.5 467.5,334.5 462.5,288.5 463.5,295.5 480.5,310.5 477.5,338.5 461.5,336.5 465.5,328.5 457.5,318.5 471.5,339.5 470.5,345.5 458.5,294.5 457.5,319.5 471.5,302.5 461.5,307.5 490.5,335.5 492.5,338.5 461.5,299.5 446.5,321.5 457.5,302.5 455.5,312.5 430.5,285.5 467.5,313.5 476.5,320.5 446.5,326.5 461.5,328.5 463.5,339.5 469.5,313.5 500.5,334.5 487.5,328.5 499.5,331.5 477.5,310.5 469.5,312.5 462.5,296.5 479.5,334.5 502.5,332.5 454.5,298.5 468.5,306.5 453.5,295.5 499.5,340.5 474.5,315.5 459.5,328.5 445.5,324.5 449.5,307.5 463.5,315.5 496.5,341.5 457.5,338.5 466.5,300.5 464.5,338.5 450.5,293.5 503.5,330.5 447.5,330.5 478.5,338.5 445.5,326.5 447.5,300.5 460.5,337.5 460.5,316.5 442.5,354.5 449.5,290.5 451.5,295.5 451.5,291.5 491.5,321.5 463.5,325.5 482.5,332.5 493.5,339.5 463.5,345.5 463.5,326.5 470.5,343.5 452.5,329.5 478.5,310.5 453.5,315.5 462.5,339.5 448.5,304.5 446.5,348.5 468.5,311.5 475.5,307.5 496.5,332.5 451.5,319.5 474.5,323.5 430.5,381.5 480.5,317.5 455.5,316.5 451.5,344.5 444.5,318.5 446.5,309.5 488.5,339.5 455.5,333.5 498.5,340.5 444.5,300.5 449.5,345.5 458.5,341.5 446.5,307.5 451.5,309.5 477.5,314.5 459.5,293.5 465.5,309.5 489.5,316.5 477.5,322.5 475.5,314.5 490.5,325.5 467.5,319.5 454.5,338.5 460.5,339.5 449.5,286.5 451.5,321.5 472.5,335.5 445.5,313.5 473.5,334.5 457.5,340.5 468.5,313.5 453.5,282.5 447.5,330.5 449.5,279.5 459.5,314.5 460.5,320.5 468.5,304.5 480.5,319.5 484.5,315.5 487.5,336.5 461.5,345.5 479.5,335.5 457.5,301.5 475.5,319.5 451.5,288.5 440.5,335.5 442.5,307.5 466.5,337.5 450.5,308.5 486.5,326.5 446.5,312.5 470.5,298.5 472.5,317.5 467.5,291.5 464.5,336.5 450.5,293.5 493.5,329.5 443.5,385.5 451.5,298.5 466.5,321.5 447.5,324.5 483.5,327.5 442.5,320.5 453.5,318.5 455.5,351.5 459.5,324.5 479.5,329.5 458.5,319.5 490.5,329.5 443.5,351.5 486.5,321.5 450.5,321.5 472.5,321.5 462.5,318.5 448.5,284.5 490.5,337.5 478.5,320.5 450.5,326.5 485.5,334.5 475.5,325.5 456.5,288.5 447.5,313.5 461.5,337.5 450.5,306.5 456.5,305.5 447.5,318.5 486.5,340.5 468.5,331.5 458.5,321.5 466.5,292.5 460.5,301.5 488.5,336.5 444.5,315.5 503.5,332.5 444.5,316.5 472.5,333.5 474.5,307.5 495.5,326.5 471.5,340.5 501.5,332.5 469.5,341.5 500.5,330.5 502.5,337.5 460.5,290.5 470.5,329.5 447.5,354.5 494.5,320.5 478.5,330.5 472.5,325.5 463.5,330.5 452.5,334.5 451.5,334.5 452.5,280.5 456.5,308.5 472.5,337.5 488.5,318.5 451.5,347.5 452.5,314.5 454.5,302.5 470.5,349.5 457.5,321.5 499.5,316.5 451.5,369.5 498.5,340.5 455.5,306.5 457.5,305.5 455.5,335.5 441.5,364.5 468.5,314.5 472.5,306.5 483.5,314.5 457.5,296.5 476.5,301.5 467.5,338.5 465.5,290.5 481.5,327.5 465.5,323.5 467.5,287.5 482.5,341.5 486.5,306.5 489.5,327.5 441.5,329.5 462.5,291.5 467.5,331.5 444.5,293.5 455.5,304.5 482.5,321.5 476.5,324.5 457.5,331.5 457.5,334.5 475.5,327.5 473.5,320.5 446.5,325.5 456.5,324.5 472.5,301.5 467.5,347.5 460.5,315.5 450.5,291.5 452.5,384.5 488.5,336.5 473.5,303.5 447.5,341.5 431.5,297.5 478.5,331.5 457.5,299.5 441.5,329.5 459.5,299.5 458.5,329.5 466.5,318.5 463.5,324.5 460.5,301.5 483.5,318.5 463.5,288.5 494.5,321.5 467.5,299.5 471.5,312.5 460.5,339.5 460.5,330.5 452.5,311.5 448.5,316.5 466.5,315.5 449.5,341.5 515.5,342.5 446.5,306.5 445.5,328.5 475.5,330.5 473.5,328.5 470.5,303.5 452.5,319.5 462.5,322.5 476.5,329.5 446.5,340.5 449.5,305.5 495.5,342.5 488.5,335.5 451.5,303.5 452.5,338.5 469.5,333.5 503.5,334.5 450.5,358.5 461.5,319.5 454.5,308.5 469.5,313.5 454.5,306.5 450.5,298.5 486.5,328.5 461.5,288.5 447.5,342.5 485.5,311.5 461.5,292.5 464.5,312.5 469.5,299.5 497.5,323.5 444.5,347.5 503.5,333.5 468.5,309.5 493.5,331.5 459.5,291.5 444.5,360.5 494.5,318.5 493.5,339.5 468.5,352.5 447.5,307.5 472.5,306.5 474.5,306.5 461.5,343.5 474.5,318.5 464.5,336.5 457.5,313.5 494.5,321.5 444.5,321.5 454.5,313.5 461.5,286.5 485.5,319.5 443.5,312.5 452.5,325.5 455.5,325.5 467.5,301.5 451.5,317.5 449.5,357.5 482.5,327.5 477.5,309.5 448.5,305.5 494.5,319.5 453.5,322.5 450.5,305.5 483.5,309.5 462.5,327.5 464.5,338.5 470.5,330.5 474.5,302.5 468.5,331.5 471.5,303.5 463.5,304.5 480.5,310.5 482.5,304.5 461.5,306.5 466.5,320.5 473.5,296.5 457.5,315.5 459.5,313.5 479.5,320.5 441.5,346.5 469.5,300.5 495.5,322.5 486.5,322.5 477.5,302.5 478.5,308.5 473.5,332.5 479.5,331.5 448.5,292.5 479.5,311.5 484.5,337.5 464.5,320.5 465.5,337.5 449.5,307.5 474.5,311.5 446.5,344.5 498.5,321.5 456.5,318.5 469.5,310.5 446.5,312.5 455.5,322.5 446.5,314.5 449.5,337.5 450.5,318.5 455.5,289.5 474.5,316.5 465.5,327.5 491.5,324.5 458.5,342.5 449.5,341.5 459.5,308.5 475.5,322.5 465.5,323.5 444.5,324.5 489.5,329.5 455.5,303.5 478.5,307.5 478.5,330.5 499.5,327.5 501.5,332.5 449.5,297.5 455.5,344.5 465.5,324.5 451.5,325.5 458.5,312.5 466.5,310.5 483.5,336.5 466.5,324.5 466.5,337.5 482.5,332.5 466.5,328.5 460.5,313.5 498.5,333.5 499.5,328.5 488.5,335.5 447.5,280.5 475.5,341.5 451.5,289.5 456.5,325.5 455.5,293.5 439.5,351.5 466.5,317.5 461.5,295.5 460.5,334.5 449.5,317.5 462.5,338.5 493.5,327.5 478.5,311.5 450.5,372.5 454.5,363.5 464.5,335.5 466.5,338.5 485.5,335.5 471.5,318.5 448.5,313.5 464.5,299.5 450.5,348.5 458.5,321.5 481.5,338.5 456.5,291.5 474.5,327.5 443.5,314.5 447.5,310.5 467.5,340.5" fill="none" stroke="none" marker-start="url(#my)" marker-mid="url(#my)" marker-end="url(#my)"/>
<path d="M393.7 276.9V501.9H678.8" fill="none" stroke="#1c1c1c" stroke-width="1.2"/>
<path d="M393.7 501.9v-3.2M450.7 501.9v-3.2M507.7 501.9v-3.2M564.8 501.9v-3.2M621.8 501.9v-3.2M678.8 501.9v-3.2M393.7 501.9h3.2M393.7 469.8h3.2M393.7 437.6h3.2M393.7 405.5h3.2M393.7 373.3h3.2M393.7 341.2h3.2M393.7 309h3.2M393.7 276.9h3.2" stroke="#1c1c1c" stroke-width="1.2"/>
<text x="393.7" y="520.4" text-anchor="middle">-40</text>
<text x="450.7" y="520.4" text-anchor="middle">-20</text>
<text x="507.7" y="520.4" text-anchor="middle">0</text>
<text x="564.8" y="520.4" text-anchor="middle">20</text>
<text x="621.8" y="520.4" text-anchor="middle">40</text>
<text x="678.8" y="520.4" text-anchor="middle">60</text>
<text x="388.2" y="508" text-anchor="end">-30</text>
<text x="388.2" y="475.9" text-anchor="end">-20</text>
<text x="388.2" y="443.7" text-anchor="end">-10</text>
<text x="388.2" y="411.6" text-anchor="end">0</text>
<text x="388.2" y="379.4" text-anchor="end">10</text>
<text x="388.2" y="347.3" text-anchor="end">20</text>
<text x="388.2" y="315.1" text-anchor="end">30</text>
<text x="388.2" y="283" text-anchor="end">40</text>
<rect x="575.5" y="288.2" width="92" height="51.4" fill="#fff" stroke="#1c1c1c" stroke-width="1.3"/>
<circle cx="602.1" cy="298" r="3.35" fill="none" stroke="#0072BD" stroke-width="1.15"/>
<path d="M597.6 314.2h9M602.1 309.7v9" stroke="#D95319" stroke-width="1.15"/>
<path d="M597.5 329.6h9.2M602.1 325v9.2M598.8 326.3l6.6 6.6M598.8 332.9l6.6-6.6" stroke="#EDB120" stroke-width="1.15"/>
<text x="624" y="304" font-size="11">An-26</text>
<text x="624" y="319.4" font-size="11">C.C.S/II</text>
<text x="624" y="334.6" font-size="11">Yark-42</text>
<text class="cap" x="338.7" y="275.8" font-family="Liberation Serif, serif" font-size="22.8">(a)</text>
<text class="cap" x="151.4" y="551.2" font-family="Liberation Serif, serif" font-size="22.8">(b)</text>
<text class="cap" x="552.2" y="552.1" font-family="Liberation Serif, serif" font-size="22.8">(c)</text>
</svg>
</body></html>
